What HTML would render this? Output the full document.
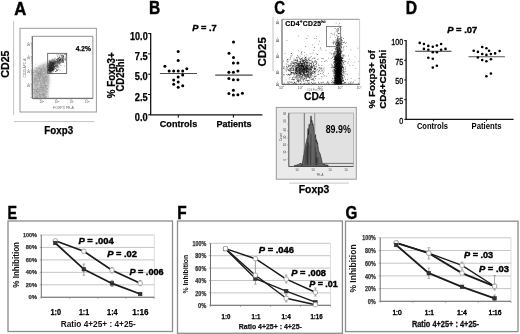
<!DOCTYPE html>
<html><head><meta charset="utf-8"><style>
html,body{margin:0;padding:0;background:#fff;}
body{width:520px;height:334px;overflow:hidden;}
svg{display:block;font-family:"Liberation Sans", sans-serif;filter:blur(0.35px);}
</style></head><body>
<svg width="520" height="334" viewBox="0 0 520 334">
<defs>
<filter id="b1" x="-50%" y="-50%" width="200%" height="200%"><feGaussianBlur stdDeviation="1"/></filter>
<filter id="b15" x="-50%" y="-50%" width="200%" height="200%"><feGaussianBlur stdDeviation="1.5"/></filter>
</defs>
<rect width="520" height="334" fill="#fff"/>
<text x="14.2" y="14.6" style="font-size:18.5px;font-weight:bold;" fill="#000" text-anchor="start" textLength="12.0" lengthAdjust="spacingAndGlyphs" stroke="#000" stroke-width="0.45">A</text>
<text x="149.1" y="13.6" style="font-size:18.5px;font-weight:bold;" fill="#000" text-anchor="start" textLength="11.2" lengthAdjust="spacingAndGlyphs" stroke="#000" stroke-width="0.45">B</text>
<text x="274.3" y="13.9" style="font-size:18.5px;font-weight:bold;" fill="#000" text-anchor="start" textLength="10.8" lengthAdjust="spacingAndGlyphs" stroke="#000" stroke-width="0.45">C</text>
<text x="405.8" y="13.6" style="font-size:18.5px;font-weight:bold;" fill="#000" text-anchor="start" textLength="11.3" lengthAdjust="spacingAndGlyphs" stroke="#000" stroke-width="0.45">D</text>
<text x="7.6" y="218.6" style="font-size:18.5px;font-weight:bold;" fill="#000" text-anchor="start" textLength="9.5" lengthAdjust="spacingAndGlyphs" stroke="#000" stroke-width="0.45">E</text>
<text x="177.3" y="219.3" style="font-size:18.5px;font-weight:bold;" fill="#000" text-anchor="start" textLength="9.4" lengthAdjust="spacingAndGlyphs" stroke="#000" stroke-width="0.45">F</text>
<text x="345.4" y="218.9" style="font-size:18.5px;font-weight:bold;" fill="#000" text-anchor="start" textLength="11.8" lengthAdjust="spacingAndGlyphs" stroke="#000" stroke-width="0.45">G</text>
<line x1="13.6" y1="21" x2="13.6" y2="115" stroke="#c4c4c4" stroke-width="1" />
<line x1="14" y1="121.6" x2="94.6" y2="121.6" stroke="#c4c4c4" stroke-width="1" />
<rect x="20" y="28.3" width="76.4" height="83.7" stroke="#9a9a9a" fill="none" stroke-width="1" />
<path d="M33 98 L33 70 C37 66.5 43 64 48 62.5 L49.5 80 L47 98 Z" fill="#a4a4a4" fill-opacity="0.8" filter="url(#b15)"/>
<ellipse cx="42" cy="75" rx="4" ry="8" fill="#888" fill-opacity="0.35" filter="url(#b15)"/>
<g transform="scale(0.1)" fill="#707070" fill-opacity="0.25"><path d="M356 796h9v9h-9zM474 846h9v9h-9zM451 681h9v9h-9zM432 956h9v9h-9zM436 786h9v9h-9zM348 975h9v9h-9zM364 840h9v9h-9zM473 769h9v9h-9zM442 793h9v9h-9zM350 710h9v9h-9zM338 954h9v9h-9zM441 972h9v9h-9zM469 919h9v9h-9zM473 676h9v9h-9zM367 723h9v9h-9zM407 943h9v9h-9zM340 888h9v9h-9zM477 860h9v9h-9zM365 952h9v9h-9zM434 863h9v9h-9zM377 924h9v9h-9zM409 893h9v9h-9zM425 875h9v9h-9zM399 823h9v9h-9zM453 916h9v9h-9zM385 742h9v9h-9zM349 902h9v9h-9zM412 674h9v9h-9zM444 972h9v9h-9zM431 777h9v9h-9zM426 968h9v9h-9zM436 738h9v9h-9zM379 742h9v9h-9zM404 965h9v9h-9zM446 843h9v9h-9zM418 947h9v9h-9zM361 755h9v9h-9zM362 718h9v9h-9zM426 935h9v9h-9zM383 723h9v9h-9zM472 891h9v9h-9zM408 723h9v9h-9zM438 938h9v9h-9zM386 933h9v9h-9zM407 793h9v9h-9zM357 859h9v9h-9zM383 928h9v9h-9zM399 685h9v9h-9zM347 642h9v9h-9zM391 889h9v9h-9zM423 773h9v9h-9zM467 959h9v9h-9zM337 816h9v9h-9zM429 786h9v9h-9zM340 932h9v9h-9zM392 775h9v9h-9zM365 679h9v9h-9zM444 733h9v9h-9zM393 863h9v9h-9zM345 831h9v9h-9zM426 760h9v9h-9zM382 877h9v9h-9zM401 862h9v9h-9zM354 904h9v9h-9zM417 744h9v9h-9zM430 924h9v9h-9zM367 968h9v9h-9zM364 811h9v9h-9zM479 886h9v9h-9zM346 978h9v9h-9zM388 946h9v9h-9zM404 909h9v9h-9zM476 646h9v9h-9zM343 770h9v9h-9zM423 866h9v9h-9zM359 757h9v9h-9zM360 885h9v9h-9zM477 932h9v9h-9zM371 675h9v9h-9zM403 712h9v9h-9zM359 853h9v9h-9zM464 796h9v9h-9zM413 854h9v9h-9zM417 779h9v9h-9zM369 945h9v9h-9zM412 939h9v9h-9zM367 684h9v9h-9zM375 908h9v9h-9zM413 904h9v9h-9zM387 761h9v9h-9zM333 804h9v9h-9zM389 977h9v9h-9zM471 812h9v9h-9zM406 711h9v9h-9zM379 938h9v9h-9zM332 887h9v9h-9zM365 890h9v9h-9zM391 939h9v9h-9zM466 851h9v9h-9zM382 683h9v9h-9zM456 935h9v9h-9zM417 956h9v9h-9zM463 712h9v9h-9zM368 840h9v9h-9zM361 908h9v9h-9zM439 830h9v9h-9zM330 893h9v9h-9zM434 721h9v9h-9zM370 675h9v9h-9zM398 749h9v9h-9zM430 943h9v9h-9zM475 707h9v9h-9zM370 762h9v9h-9zM389 704h9v9h-9zM452 698h9v9h-9zM442 806h9v9h-9zM435 804h9v9h-9zM417 939h9v9h-9zM340 837h9v9h-9zM364 834h9v9h-9z"/><path d="M379 684h9v9h-9zM337 886h9v9h-9zM465 800h9v9h-9zM397 724h9v9h-9zM449 689h9v9h-9zM435 905h9v9h-9zM336 903h9v9h-9zM424 932h9v9h-9zM456 672h9v9h-9zM393 869h9v9h-9zM448 944h9v9h-9zM418 721h9v9h-9zM341 818h9v9h-9zM393 951h9v9h-9zM389 944h9v9h-9zM407 854h9v9h-9zM398 736h9v9h-9zM445 903h9v9h-9zM369 829h9v9h-9zM409 762h9v9h-9zM453 932h9v9h-9zM389 980h9v9h-9zM455 877h9v9h-9zM424 962h9v9h-9zM417 790h9v9h-9zM331 926h9v9h-9zM332 721h9v9h-9zM369 860h9v9h-9zM418 701h9v9h-9zM434 773h9v9h-9zM444 702h9v9h-9zM418 942h9v9h-9zM352 883h9v9h-9zM373 973h9v9h-9zM405 763h9v9h-9zM351 750h9v9h-9zM380 910h9v9h-9zM390 768h9v9h-9zM367 966h9v9h-9zM366 733h9v9h-9zM464 850h9v9h-9zM381 723h9v9h-9zM358 803h9v9h-9zM392 962h9v9h-9zM376 777h9v9h-9zM474 656h9v9h-9zM391 806h9v9h-9zM394 853h9v9h-9zM341 889h9v9h-9zM374 920h9v9h-9zM400 733h9v9h-9zM385 688h9v9h-9zM435 888h9v9h-9zM440 914h9v9h-9zM471 883h9v9h-9zM358 971h9v9h-9zM405 707h9v9h-9zM364 699h9v9h-9zM365 902h9v9h-9zM447 809h9v9h-9zM346 802h9v9h-9zM446 704h9v9h-9zM423 706h9v9h-9zM387 963h9v9h-9zM373 705h9v9h-9zM423 657h9v9h-9zM434 852h9v9h-9zM452 852h9v9h-9zM469 929h9v9h-9zM432 695h9v9h-9zM470 782h9v9h-9zM467 917h9v9h-9zM447 880h9v9h-9zM336 747h9v9h-9zM390 811h9v9h-9zM384 939h9v9h-9zM451 859h9v9h-9zM386 777h9v9h-9zM407 696h9v9h-9zM457 920h9v9h-9zM422 807h9v9h-9zM452 898h9v9h-9zM450 723h9v9h-9zM377 726h9v9h-9zM379 708h9v9h-9zM429 757h9v9h-9zM349 795h9v9h-9zM435 937h9v9h-9zM413 744h9v9h-9zM475 806h9v9h-9zM346 839h9v9h-9zM372 721h9v9h-9zM399 816h9v9h-9zM336 904h9v9h-9zM437 946h9v9h-9zM375 798h9v9h-9zM392 932h9v9h-9zM447 880h9v9h-9zM379 975h9v9h-9zM342 906h9v9h-9zM354 905h9v9h-9zM408 869h9v9h-9zM399 693h9v9h-9zM441 807h9v9h-9zM363 911h9v9h-9zM424 809h9v9h-9zM429 680h9v9h-9zM384 904h9v9h-9zM427 978h9v9h-9zM448 970h9v9h-9zM434 965h9v9h-9zM447 961h9v9h-9zM406 940h9v9h-9zM350 635h9v9h-9zM395 906h9v9h-9zM373 760h9v9h-9zM470 667h9v9h-9zM385 707h9v9h-9zM361 969h9v9h-9zM369 864h9v9h-9z"/><path d="M362 971h9v9h-9zM383 854h9v9h-9zM407 872h9v9h-9zM449 746h9v9h-9zM360 674h9v9h-9zM473 939h9v9h-9zM356 738h9v9h-9zM410 890h9v9h-9zM398 893h9v9h-9zM444 731h9v9h-9zM353 881h9v9h-9zM414 850h9v9h-9zM374 828h9v9h-9zM423 919h9v9h-9zM441 972h9v9h-9zM441 918h9v9h-9zM440 782h9v9h-9zM377 917h9v9h-9zM439 702h9v9h-9zM410 903h9v9h-9zM451 852h9v9h-9zM365 776h9v9h-9zM394 917h9v9h-9zM428 701h9v9h-9zM385 916h9v9h-9zM403 836h9v9h-9zM466 781h9v9h-9zM384 898h9v9h-9zM473 739h9v9h-9zM372 738h9v9h-9zM424 945h9v9h-9zM348 696h9v9h-9zM385 828h9v9h-9zM414 960h9v9h-9zM459 783h9v9h-9zM447 766h9v9h-9zM379 811h9v9h-9zM344 714h9v9h-9zM401 814h9v9h-9zM428 910h9v9h-9zM359 741h9v9h-9zM473 673h9v9h-9zM377 850h9v9h-9zM424 749h9v9h-9zM362 725h9v9h-9zM444 643h9v9h-9zM453 889h9v9h-9zM453 969h9v9h-9zM351 921h9v9h-9zM439 944h9v9h-9zM331 722h9v9h-9zM463 892h9v9h-9zM393 710h9v9h-9zM412 882h9v9h-9zM425 772h9v9h-9zM346 826h9v9h-9zM336 782h9v9h-9zM330 764h9v9h-9zM343 861h9v9h-9zM424 718h9v9h-9zM453 730h9v9h-9zM367 770h9v9h-9zM417 766h9v9h-9zM369 807h9v9h-9zM456 961h9v9h-9zM397 721h9v9h-9zM332 823h9v9h-9zM333 792h9v9h-9zM432 873h9v9h-9zM430 672h9v9h-9zM332 745h9v9h-9zM461 919h9v9h-9zM341 864h9v9h-9zM455 687h9v9h-9zM346 853h9v9h-9zM405 851h9v9h-9zM337 954h9v9h-9zM383 790h9v9h-9zM361 961h9v9h-9zM396 692h9v9h-9zM390 666h9v9h-9zM471 887h9v9h-9zM466 661h9v9h-9zM401 806h9v9h-9zM416 875h9v9h-9zM354 749h9v9h-9zM345 764h9v9h-9zM427 752h9v9h-9zM360 717h9v9h-9zM467 852h9v9h-9zM425 756h9v9h-9zM457 936h9v9h-9zM375 825h9v9h-9zM466 904h9v9h-9zM472 681h9v9h-9zM352 729h9v9h-9zM339 876h9v9h-9zM400 827h9v9h-9zM431 649h9v9h-9zM376 829h9v9h-9zM338 806h9v9h-9zM367 946h9v9h-9zM426 645h9v9h-9zM336 864h9v9h-9zM430 739h9v9h-9zM397 958h9v9h-9zM357 911h9v9h-9zM369 881h9v9h-9zM427 730h9v9h-9zM382 757h9v9h-9zM337 666h9v9h-9zM476 799h9v9h-9zM425 911h9v9h-9zM402 960h9v9h-9zM334 702h9v9h-9zM354 745h9v9h-9zM339 903h9v9h-9zM480 956h9v9h-9zM364 890h9v9h-9zM348 776h9v9h-9z"/><path d="M334 936h9v9h-9zM394 740h9v9h-9zM369 960h9v9h-9zM399 966h9v9h-9zM478 908h9v9h-9zM351 813h9v9h-9zM399 680h9v9h-9zM331 894h9v9h-9zM376 755h9v9h-9zM476 769h9v9h-9zM418 852h9v9h-9zM466 979h9v9h-9zM439 666h9v9h-9zM402 869h9v9h-9zM352 820h9v9h-9zM394 789h9v9h-9zM458 970h9v9h-9zM434 838h9v9h-9zM333 720h9v9h-9zM443 797h9v9h-9zM473 860h9v9h-9zM436 711h9v9h-9zM424 868h9v9h-9zM463 886h9v9h-9zM453 918h9v9h-9zM396 939h9v9h-9zM435 925h9v9h-9zM386 807h9v9h-9zM393 676h9v9h-9zM459 758h9v9h-9zM439 825h9v9h-9zM398 817h9v9h-9zM405 816h9v9h-9zM448 924h9v9h-9zM381 725h9v9h-9zM427 736h9v9h-9zM458 868h9v9h-9zM469 751h9v9h-9zM401 712h9v9h-9zM336 820h9v9h-9zM427 939h9v9h-9zM386 952h9v9h-9zM351 813h9v9h-9zM411 706h9v9h-9zM416 892h9v9h-9zM443 686h9v9h-9zM384 667h9v9h-9zM335 748h9v9h-9zM450 767h9v9h-9zM421 807h9v9h-9zM361 947h9v9h-9zM368 779h9v9h-9zM461 824h9v9h-9zM454 813h9v9h-9zM446 833h9v9h-9zM467 961h9v9h-9zM369 682h9v9h-9zM467 785h9v9h-9zM451 968h9v9h-9zM344 750h9v9h-9zM362 834h9v9h-9zM389 823h9v9h-9zM388 864h9v9h-9zM331 802h9v9h-9zM379 813h9v9h-9zM340 934h9v9h-9zM363 772h9v9h-9zM346 675h9v9h-9zM347 816h9v9h-9zM367 727h9v9h-9zM431 732h9v9h-9zM442 873h9v9h-9zM431 956h9v9h-9zM358 708h9v9h-9zM360 909h9v9h-9zM447 936h9v9h-9zM469 709h9v9h-9zM406 922h9v9h-9zM427 898h9v9h-9zM352 806h9v9h-9zM454 851h9v9h-9zM365 708h9v9h-9zM339 793h9v9h-9zM413 919h9v9h-9zM426 915h9v9h-9zM377 737h9v9h-9zM466 904h9v9h-9zM372 753h9v9h-9zM457 879h9v9h-9zM476 859h9v9h-9zM456 798h9v9h-9zM335 775h9v9h-9zM395 803h9v9h-9zM461 740h9v9h-9zM354 958h9v9h-9zM372 881h9v9h-9zM350 930h9v9h-9zM422 781h9v9h-9zM426 789h9v9h-9zM390 961h9v9h-9zM418 756h9v9h-9zM413 954h9v9h-9zM343 930h9v9h-9zM360 807h9v9h-9zM379 683h9v9h-9zM479 757h9v9h-9zM413 696h9v9h-9zM443 894h9v9h-9zM337 917h9v9h-9zM359 736h9v9h-9zM456 874h9v9h-9zM467 688h9v9h-9zM473 765h9v9h-9zM378 778h9v9h-9zM415 755h9v9h-9zM360 972h9v9h-9zM368 890h9v9h-9zM346 723h9v9h-9zM379 714h9v9h-9zM373 957h9v9h-9z"/><path d="M468 720h9v9h-9zM369 967h9v9h-9zM414 753h9v9h-9zM382 921h9v9h-9zM357 906h9v9h-9zM447 771h9v9h-9zM357 834h9v9h-9zM463 713h9v9h-9zM404 955h9v9h-9zM370 824h9v9h-9zM464 660h9v9h-9zM395 778h9v9h-9zM350 958h9v9h-9zM479 832h9v9h-9zM408 954h9v9h-9zM453 924h9v9h-9zM346 702h9v9h-9zM389 935h9v9h-9zM333 718h9v9h-9zM406 871h9v9h-9zM353 685h9v9h-9zM379 695h9v9h-9zM342 887h9v9h-9zM432 943h9v9h-9zM338 701h9v9h-9zM403 971h9v9h-9zM382 734h9v9h-9zM355 905h9v9h-9zM449 873h9v9h-9zM400 671h9v9h-9zM475 674h9v9h-9zM427 785h9v9h-9zM365 835h9v9h-9zM357 706h9v9h-9zM403 976h9v9h-9zM345 777h9v9h-9zM462 766h9v9h-9zM458 846h9v9h-9zM363 938h9v9h-9zM348 840h9v9h-9zM442 926h9v9h-9zM380 974h9v9h-9zM424 754h9v9h-9zM429 881h9v9h-9zM478 723h9v9h-9zM477 939h9v9h-9zM468 703h9v9h-9zM353 947h9v9h-9zM362 870h9v9h-9zM458 912h9v9h-9zM418 789h9v9h-9zM342 787h9v9h-9zM473 815h9v9h-9zM349 718h9v9h-9zM346 702h9v9h-9zM355 784h9v9h-9zM442 944h9v9h-9zM427 814h9v9h-9zM455 768h9v9h-9zM336 827h9v9h-9zM479 793h9v9h-9zM445 846h9v9h-9zM376 704h9v9h-9zM397 964h9v9h-9zM473 804h9v9h-9zM444 683h9v9h-9zM371 807h9v9h-9zM394 655h9v9h-9zM411 881h9v9h-9zM452 851h9v9h-9zM374 714h9v9h-9zM340 975h9v9h-9zM361 868h9v9h-9zM417 769h9v9h-9zM375 647h9v9h-9zM461 885h9v9h-9zM431 729h9v9h-9zM405 819h9v9h-9zM395 901h9v9h-9zM400 827h9v9h-9zM414 896h9v9h-9zM471 814h9v9h-9zM424 796h9v9h-9zM407 800h9v9h-9zM476 821h9v9h-9zM371 915h9v9h-9zM416 814h9v9h-9zM478 964h9v9h-9zM477 794h9v9h-9zM368 854h9v9h-9zM339 920h9v9h-9zM407 749h9v9h-9zM352 802h9v9h-9zM446 875h9v9h-9zM429 890h9v9h-9zM334 815h9v9h-9zM441 788h9v9h-9zM445 831h9v9h-9zM386 888h9v9h-9zM372 775h9v9h-9zM360 872h9v9h-9zM404 764h9v9h-9zM368 780h9v9h-9zM332 736h9v9h-9zM372 716h9v9h-9zM342 699h9v9h-9zM405 692h9v9h-9zM413 849h9v9h-9zM435 715h9v9h-9zM413 723h9v9h-9zM391 713h9v9h-9zM365 712h9v9h-9zM410 861h9v9h-9zM446 808h9v9h-9zM451 919h9v9h-9zM453 942h9v9h-9zM473 872h9v9h-9zM394 726h9v9h-9zM383 822h9v9h-9zM477 750h9v9h-9z"/><path d="M344 785h9v9h-9zM389 897h9v9h-9zM349 792h9v9h-9zM452 975h9v9h-9zM459 662h9v9h-9zM431 872h9v9h-9zM345 757h9v9h-9zM376 916h9v9h-9zM471 721h9v9h-9zM401 965h9v9h-9zM378 735h9v9h-9zM348 927h9v9h-9zM421 903h9v9h-9zM393 874h9v9h-9zM478 835h9v9h-9zM364 967h9v9h-9zM424 768h9v9h-9zM407 846h9v9h-9z"/></g>
<g transform="scale(0.1)" fill="#ffffff" fill-opacity="0.3"><path d="M366 642h9v9h-9zM477 827h9v9h-9zM456 734h9v9h-9zM374 772h9v9h-9zM460 971h9v9h-9zM413 880h9v9h-9zM394 809h9v9h-9zM343 644h9v9h-9zM358 853h9v9h-9zM358 736h9v9h-9zM425 841h9v9h-9zM479 883h9v9h-9zM359 729h9v9h-9zM384 695h9v9h-9zM476 948h9v9h-9zM345 690h9v9h-9zM452 736h9v9h-9zM347 731h9v9h-9zM396 849h9v9h-9zM382 630h9v9h-9zM457 954h9v9h-9zM415 850h9v9h-9zM388 743h9v9h-9zM397 765h9v9h-9zM385 921h9v9h-9zM470 929h9v9h-9zM367 645h9v9h-9zM431 814h9v9h-9zM363 809h9v9h-9zM349 881h9v9h-9zM410 765h9v9h-9zM448 878h9v9h-9zM349 676h9v9h-9zM392 861h9v9h-9zM399 822h9v9h-9zM331 737h9v9h-9zM404 805h9v9h-9zM417 752h9v9h-9zM339 634h9v9h-9zM355 723h9v9h-9zM377 709h9v9h-9zM407 820h9v9h-9zM353 877h9v9h-9zM411 954h9v9h-9zM372 771h9v9h-9zM448 935h9v9h-9zM446 743h9v9h-9zM444 667h9v9h-9zM435 717h9v9h-9zM369 821h9v9h-9zM373 715h9v9h-9zM410 916h9v9h-9zM375 940h9v9h-9zM430 919h9v9h-9zM367 691h9v9h-9zM373 645h9v9h-9zM405 824h9v9h-9zM407 669h9v9h-9zM422 912h9v9h-9zM410 682h9v9h-9zM354 735h9v9h-9zM451 686h9v9h-9zM397 670h9v9h-9zM413 802h9v9h-9zM412 896h9v9h-9zM424 788h9v9h-9zM346 709h9v9h-9zM466 961h9v9h-9zM426 723h9v9h-9zM415 739h9v9h-9zM456 835h9v9h-9zM396 969h9v9h-9zM464 871h9v9h-9zM441 920h9v9h-9zM348 919h9v9h-9zM379 794h9v9h-9zM426 693h9v9h-9zM455 902h9v9h-9zM468 743h9v9h-9zM445 835h9v9h-9zM453 977h9v9h-9zM430 699h9v9h-9zM456 929h9v9h-9zM437 754h9v9h-9zM473 810h9v9h-9zM343 881h9v9h-9zM406 710h9v9h-9zM412 717h9v9h-9zM366 715h9v9h-9zM341 634h9v9h-9zM410 718h9v9h-9zM390 826h9v9h-9zM339 766h9v9h-9zM453 811h9v9h-9zM381 784h9v9h-9zM404 962h9v9h-9zM359 660h9v9h-9zM421 704h9v9h-9zM475 800h9v9h-9zM386 833h9v9h-9zM407 786h9v9h-9zM375 653h9v9h-9zM455 675h9v9h-9zM398 790h9v9h-9zM433 687h9v9h-9zM387 965h9v9h-9zM466 901h9v9h-9zM350 727h9v9h-9zM451 940h9v9h-9zM459 713h9v9h-9zM456 843h9v9h-9zM362 950h9v9h-9zM431 843h9v9h-9zM354 653h9v9h-9zM371 900h9v9h-9zM461 784h9v9h-9zM375 830h9v9h-9zM395 696h9v9h-9zM384 702h9v9h-9zM396 932h9v9h-9z"/><path d="M372 661h9v9h-9zM380 915h9v9h-9zM444 796h9v9h-9zM476 732h9v9h-9zM336 739h9v9h-9zM384 689h9v9h-9zM343 861h9v9h-9zM444 645h9v9h-9zM452 651h9v9h-9zM383 978h9v9h-9zM448 779h9v9h-9zM374 785h9v9h-9zM396 923h9v9h-9zM470 753h9v9h-9zM479 750h9v9h-9zM334 696h9v9h-9zM378 862h9v9h-9zM457 923h9v9h-9zM345 761h9v9h-9zM470 872h9v9h-9zM332 753h9v9h-9zM432 787h9v9h-9zM396 697h9v9h-9zM415 769h9v9h-9zM361 963h9v9h-9zM463 822h9v9h-9zM474 889h9v9h-9zM458 843h9v9h-9zM436 721h9v9h-9zM398 676h9v9h-9zM392 906h9v9h-9zM408 811h9v9h-9zM436 865h9v9h-9zM343 821h9v9h-9zM368 663h9v9h-9zM418 658h9v9h-9zM473 798h9v9h-9zM479 893h9v9h-9zM383 866h9v9h-9zM438 631h9v9h-9zM388 660h9v9h-9zM377 945h9v9h-9zM332 647h9v9h-9zM334 901h9v9h-9zM442 920h9v9h-9zM430 753h9v9h-9zM377 678h9v9h-9zM355 905h9v9h-9zM353 731h9v9h-9zM463 642h9v9h-9zM477 919h9v9h-9zM366 644h9v9h-9zM416 774h9v9h-9zM445 921h9v9h-9zM465 836h9v9h-9zM379 791h9v9h-9zM420 966h9v9h-9zM347 907h9v9h-9zM467 675h9v9h-9zM448 927h9v9h-9zM370 793h9v9h-9zM384 805h9v9h-9zM339 728h9v9h-9zM396 887h9v9h-9zM356 741h9v9h-9zM405 785h9v9h-9zM430 749h9v9h-9zM463 777h9v9h-9zM376 872h9v9h-9zM355 863h9v9h-9zM383 716h9v9h-9zM357 928h9v9h-9zM474 847h9v9h-9zM338 874h9v9h-9zM454 742h9v9h-9zM385 823h9v9h-9zM441 890h9v9h-9zM347 693h9v9h-9zM348 685h9v9h-9zM382 940h9v9h-9zM347 949h9v9h-9zM462 931h9v9h-9zM346 827h9v9h-9zM405 967h9v9h-9zM360 879h9v9h-9zM348 838h9v9h-9zM468 856h9v9h-9zM417 658h9v9h-9zM376 936h9v9h-9zM414 670h9v9h-9zM367 679h9v9h-9zM346 801h9v9h-9zM391 656h9v9h-9zM408 782h9v9h-9zM432 726h9v9h-9zM417 966h9v9h-9zM433 766h9v9h-9zM339 755h9v9h-9zM472 778h9v9h-9zM354 699h9v9h-9zM344 724h9v9h-9zM415 804h9v9h-9zM461 673h9v9h-9zM353 748h9v9h-9zM364 830h9v9h-9zM370 856h9v9h-9zM457 753h9v9h-9zM336 644h9v9h-9zM360 876h9v9h-9zM416 938h9v9h-9zM383 883h9v9h-9zM422 927h9v9h-9zM403 824h9v9h-9zM411 979h9v9h-9zM475 853h9v9h-9zM416 858h9v9h-9zM373 976h9v9h-9zM403 907h9v9h-9zM379 695h9v9h-9zM435 912h9v9h-9z"/><path d="M347 810h9v9h-9zM338 942h9v9h-9zM385 716h9v9h-9zM351 827h9v9h-9zM415 752h9v9h-9zM396 847h9v9h-9zM375 763h9v9h-9zM421 763h9v9h-9zM425 645h9v9h-9zM468 901h9v9h-9zM466 688h9v9h-9zM424 694h9v9h-9zM411 633h9v9h-9zM428 718h9v9h-9zM376 857h9v9h-9zM352 831h9v9h-9zM334 868h9v9h-9zM407 777h9v9h-9zM438 733h9v9h-9zM456 830h9v9h-9zM377 715h9v9h-9zM453 877h9v9h-9zM395 870h9v9h-9zM372 862h9v9h-9zM392 815h9v9h-9zM438 707h9v9h-9zM394 949h9v9h-9zM390 653h9v9h-9zM423 718h9v9h-9zM440 879h9v9h-9zM337 716h9v9h-9zM407 807h9v9h-9zM437 719h9v9h-9zM417 661h9v9h-9zM408 918h9v9h-9zM461 632h9v9h-9zM420 791h9v9h-9zM384 838h9v9h-9zM474 702h9v9h-9zM388 860h9v9h-9zM444 670h9v9h-9zM345 946h9v9h-9zM473 731h9v9h-9zM422 794h9v9h-9zM442 660h9v9h-9zM387 835h9v9h-9zM366 766h9v9h-9zM392 700h9v9h-9zM374 900h9v9h-9zM434 768h9v9h-9zM383 962h9v9h-9zM416 776h9v9h-9zM455 890h9v9h-9zM347 932h9v9h-9zM410 979h9v9h-9zM358 694h9v9h-9zM427 735h9v9h-9zM469 675h9v9h-9zM424 957h9v9h-9zM389 824h9v9h-9z"/></g>
<path d="M48 73 L48 63 C50 60 53 59 55 59.5 L55 65 C54 70 51 72 49 73 Z" fill="#111" fill-opacity="0.6" filter="url(#b1)"/>
<g transform="scale(0.1)" fill="#111" fill-opacity="0.5"><path d="M553 712h9v9h-9zM520 731h9v9h-9zM515 719h9v9h-9zM491 649h9v9h-9zM565 589h9v9h-9zM518 627h9v9h-9zM588 601h9v9h-9zM509 696h9v9h-9zM551 631h9v9h-9zM513 696h9v9h-9zM543 623h9v9h-9zM543 625h9v9h-9zM630 579h9v9h-9zM570 609h9v9h-9zM568 598h9v9h-9zM497 704h9v9h-9zM613 559h9v9h-9zM500 629h9v9h-9zM502 726h9v9h-9zM573 604h9v9h-9zM568 669h9v9h-9zM495 608h9v9h-9zM600 592h9v9h-9zM523 672h9v9h-9zM531 662h9v9h-9zM524 619h9v9h-9zM582 631h9v9h-9zM621 594h9v9h-9zM532 639h9v9h-9zM531 650h9v9h-9zM650 597h9v9h-9zM524 631h9v9h-9zM605 651h9v9h-9zM633 576h9v9h-9zM518 594h9v9h-9zM595 600h9v9h-9zM493 651h9v9h-9zM613 611h9v9h-9zM628 616h9v9h-9zM558 664h9v9h-9zM559 649h9v9h-9zM507 715h9v9h-9zM559 658h9v9h-9zM503 684h9v9h-9zM608 537h9v9h-9zM634 577h9v9h-9zM564 698h9v9h-9zM549 637h9v9h-9zM555 662h9v9h-9zM544 636h9v9h-9zM606 570h9v9h-9zM518 685h9v9h-9zM566 631h9v9h-9zM609 599h9v9h-9zM485 693h9v9h-9zM558 625h9v9h-9zM502 706h9v9h-9zM628 550h9v9h-9zM503 656h9v9h-9zM515 733h9v9h-9zM549 656h9v9h-9zM603 589h9v9h-9zM572 674h9v9h-9zM618 595h9v9h-9zM596 548h9v9h-9zM628 573h9v9h-9zM595 599h9v9h-9zM511 620h9v9h-9zM605 539h9v9h-9zM554 636h9v9h-9zM572 620h9v9h-9zM586 592h9v9h-9zM532 649h9v9h-9zM588 623h9v9h-9zM520 668h9v9h-9zM621 589h9v9h-9zM489 653h9v9h-9zM508 668h9v9h-9zM569 703h9v9h-9zM597 633h9v9h-9zM505 623h9v9h-9zM520 696h9v9h-9zM555 612h9v9h-9zM489 696h9v9h-9zM588 592h9v9h-9zM598 609h9v9h-9zM496 685h9v9h-9zM626 565h9v9h-9zM613 603h9v9h-9zM613 616h9v9h-9zM531 646h9v9h-9zM490 674h9v9h-9zM540 667h9v9h-9zM639 588h9v9h-9zM478 699h9v9h-9zM572 626h9v9h-9zM583 592h9v9h-9zM530 661h9v9h-9zM576 627h9v9h-9zM543 622h9v9h-9zM568 613h9v9h-9zM648 588h9v9h-9zM554 624h9v9h-9zM495 702h9v9h-9zM517 648h9v9h-9zM534 669h9v9h-9zM623 606h9v9h-9zM491 714h9v9h-9zM584 673h9v9h-9zM500 633h9v9h-9zM584 599h9v9h-9zM502 709h9v9h-9zM561 636h9v9h-9zM493 704h9v9h-9zM547 617h9v9h-9zM592 585h9v9h-9zM554 610h9v9h-9zM638 539h9v9h-9zM490 651h9v9h-9zM563 690h9v9h-9z"/><path d="M592 601h9v9h-9zM533 606h9v9h-9zM480 665h9v9h-9zM616 582h9v9h-9zM502 664h9v9h-9zM560 687h9v9h-9zM482 698h9v9h-9zM493 726h9v9h-9zM598 618h9v9h-9zM588 559h9v9h-9zM571 587h9v9h-9zM557 597h9v9h-9zM491 700h9v9h-9zM497 694h9v9h-9zM628 595h9v9h-9zM488 654h9v9h-9zM558 587h9v9h-9zM598 589h9v9h-9zM583 689h9v9h-9zM490 638h9v9h-9zM530 630h9v9h-9zM547 607h9v9h-9zM517 654h9v9h-9zM630 561h9v9h-9zM510 682h9v9h-9zM518 646h9v9h-9zM590 600h9v9h-9zM481 691h9v9h-9zM536 692h9v9h-9zM522 646h9v9h-9zM511 643h9v9h-9zM501 661h9v9h-9zM522 703h9v9h-9zM521 695h9v9h-9zM504 711h9v9h-9zM492 702h9v9h-9zM510 706h9v9h-9zM609 614h9v9h-9zM548 577h9v9h-9zM560 612h9v9h-9zM532 623h9v9h-9zM622 599h9v9h-9zM572 622h9v9h-9zM520 649h9v9h-9zM499 707h9v9h-9zM537 588h9v9h-9zM517 687h9v9h-9zM580 615h9v9h-9zM519 657h9v9h-9zM550 662h9v9h-9zM514 705h9v9h-9zM522 679h9v9h-9zM494 621h9v9h-9zM491 660h9v9h-9zM509 658h9v9h-9zM534 683h9v9h-9zM550 620h9v9h-9zM592 588h9v9h-9zM602 597h9v9h-9zM483 685h9v9h-9zM614 579h9v9h-9zM588 570h9v9h-9zM587 557h9v9h-9zM484 633h9v9h-9zM592 629h9v9h-9zM609 556h9v9h-9zM608 611h9v9h-9zM548 626h9v9h-9zM533 645h9v9h-9zM553 611h9v9h-9zM515 646h9v9h-9zM537 671h9v9h-9zM485 683h9v9h-9zM568 646h9v9h-9zM493 657h9v9h-9zM516 698h9v9h-9zM638 655h9v9h-9zM559 591h9v9h-9zM509 700h9v9h-9zM499 669h9v9h-9zM615 588h9v9h-9zM584 586h9v9h-9zM514 638h9v9h-9zM604 582h9v9h-9zM623 563h9v9h-9zM503 666h9v9h-9zM513 679h9v9h-9zM541 684h9v9h-9zM542 666h9v9h-9zM557 669h9v9h-9zM505 681h9v9h-9zM585 623h9v9h-9zM481 704h9v9h-9zM494 705h9v9h-9zM584 590h9v9h-9zM514 633h9v9h-9zM594 616h9v9h-9zM603 598h9v9h-9zM659 547h9v9h-9zM481 701h9v9h-9zM657 548h9v9h-9zM509 654h9v9h-9zM510 618h9v9h-9zM521 690h9v9h-9zM488 696h9v9h-9zM592 628h9v9h-9zM536 660h9v9h-9zM591 622h9v9h-9zM557 609h9v9h-9zM562 699h9v9h-9zM574 657h9v9h-9zM603 593h9v9h-9zM523 683h9v9h-9zM563 657h9v9h-9zM525 676h9v9h-9zM653 564h9v9h-9zM527 689h9v9h-9zM510 681h9v9h-9zM536 678h9v9h-9zM622 616h9v9h-9z"/><path d="M541 661h9v9h-9zM492 616h9v9h-9zM498 704h9v9h-9zM530 704h9v9h-9zM649 576h9v9h-9zM539 618h9v9h-9zM507 655h9v9h-9zM604 589h9v9h-9zM519 618h9v9h-9zM500 676h9v9h-9zM497 676h9v9h-9zM601 622h9v9h-9zM516 699h9v9h-9zM526 687h9v9h-9zM518 667h9v9h-9zM498 690h9v9h-9zM523 628h9v9h-9zM498 628h9v9h-9zM617 546h9v9h-9zM608 602h9v9h-9zM508 647h9v9h-9zM515 686h9v9h-9zM624 598h9v9h-9zM628 591h9v9h-9zM499 640h9v9h-9zM490 685h9v9h-9zM648 538h9v9h-9zM554 647h9v9h-9zM631 606h9v9h-9zM519 648h9v9h-9zM545 608h9v9h-9zM606 623h9v9h-9zM494 724h9v9h-9zM529 631h9v9h-9zM539 658h9v9h-9zM518 672h9v9h-9zM508 648h9v9h-9zM480 696h9v9h-9zM486 670h9v9h-9zM528 667h9v9h-9zM652 594h9v9h-9zM549 681h9v9h-9zM586 640h9v9h-9zM617 579h9v9h-9zM499 714h9v9h-9zM588 636h9v9h-9zM527 641h9v9h-9zM579 599h9v9h-9zM501 613h9v9h-9zM489 603h9v9h-9zM534 639h9v9h-9zM582 617h9v9h-9zM494 636h9v9h-9zM511 648h9v9h-9zM588 595h9v9h-9zM574 611h9v9h-9zM558 594h9v9h-9zM511 675h9v9h-9zM616 582h9v9h-9zM509 615h9v9h-9zM652 541h9v9h-9zM586 608h9v9h-9zM569 609h9v9h-9zM602 587h9v9h-9zM585 607h9v9h-9zM539 623h9v9h-9zM526 676h9v9h-9zM625 549h9v9h-9zM560 537h9v9h-9zM507 667h9v9h-9zM570 556h9v9h-9zM521 679h9v9h-9zM590 570h9v9h-9zM572 698h9v9h-9zM514 690h9v9h-9zM584 663h9v9h-9zM619 571h9v9h-9zM620 617h9v9h-9zM622 601h9v9h-9zM629 597h9v9h-9zM478 651h9v9h-9zM535 670h9v9h-9zM531 681h9v9h-9zM551 682h9v9h-9zM568 647h9v9h-9zM530 679h9v9h-9zM596 697h9v9h-9zM567 638h9v9h-9zM484 716h9v9h-9zM541 638h9v9h-9zM560 614h9v9h-9zM572 601h9v9h-9zM626 580h9v9h-9zM503 635h9v9h-9zM524 650h9v9h-9zM496 679h9v9h-9zM521 700h9v9h-9zM482 696h9v9h-9zM570 626h9v9h-9zM489 666h9v9h-9zM532 690h9v9h-9zM515 700h9v9h-9zM570 587h9v9h-9zM629 620h9v9h-9zM575 582h9v9h-9zM492 669h9v9h-9zM578 542h9v9h-9zM493 724h9v9h-9zM519 692h9v9h-9zM585 644h9v9h-9zM521 677h9v9h-9zM487 688h9v9h-9zM531 669h9v9h-9zM592 606h9v9h-9zM584 618h9v9h-9zM507 706h9v9h-9zM496 674h9v9h-9zM533 634h9v9h-9zM528 655h9v9h-9zM494 670h9v9h-9z"/><path d="M580 574h9v9h-9zM579 614h9v9h-9zM496 699h9v9h-9zM509 688h9v9h-9zM630 564h9v9h-9zM494 684h9v9h-9zM505 684h9v9h-9zM508 670h9v9h-9zM566 656h9v9h-9zM559 707h9v9h-9zM501 635h9v9h-9zM584 580h9v9h-9zM506 647h9v9h-9zM615 551h9v9h-9zM512 680h9v9h-9zM519 684h9v9h-9zM487 671h9v9h-9zM508 702h9v9h-9zM552 712h9v9h-9zM592 597h9v9h-9zM514 636h9v9h-9zM497 700h9v9h-9zM596 601h9v9h-9zM574 648h9v9h-9zM478 672h9v9h-9zM601 578h9v9h-9zM574 576h9v9h-9zM570 603h9v9h-9zM630 609h9v9h-9zM577 586h9v9h-9zM530 705h9v9h-9zM535 616h9v9h-9zM500 680h9v9h-9zM628 558h9v9h-9zM511 675h9v9h-9zM599 589h9v9h-9zM532 690h9v9h-9zM544 602h9v9h-9zM502 679h9v9h-9zM503 634h9v9h-9zM572 659h9v9h-9zM513 665h9v9h-9zM494 660h9v9h-9zM594 613h9v9h-9zM482 643h9v9h-9zM557 647h9v9h-9zM486 683h9v9h-9zM542 630h9v9h-9zM560 618h9v9h-9zM525 632h9v9h-9zM549 648h9v9h-9zM498 632h9v9h-9zM633 564h9v9h-9z"/></g>
<line x1="32.5" y1="36.3" x2="92.9" y2="36.3" stroke="#777" stroke-width="0.8" />
<line x1="92.9" y1="36.3" x2="92.9" y2="98.3" stroke="#777" stroke-width="0.8" />
<line x1="32.3" y1="36.3" x2="32.3" y2="98.3" stroke="#444" stroke-width="0.9" />
<line x1="32.3" y1="98.3" x2="92.9" y2="98.3" stroke="#444" stroke-width="0.9" />
<rect x="47.7" y="53.3" width="19" height="20.2" stroke="#505050" fill="none" stroke-width="0.8" />
<line x1="33.25" y1="98.3" x2="33.25" y2="99.3" stroke="#777" stroke-width="0.5" />
<line x1="35.15" y1="98.3" x2="35.15" y2="99.3" stroke="#777" stroke-width="0.5" />
<line x1="36.62" y1="98.3" x2="36.62" y2="99.3" stroke="#777" stroke-width="0.5" />
<line x1="37.83" y1="98.3" x2="37.83" y2="99.3" stroke="#777" stroke-width="0.5" />
<line x1="38.85" y1="98.3" x2="38.85" y2="99.3" stroke="#777" stroke-width="0.5" />
<line x1="39.73" y1="98.3" x2="39.73" y2="99.3" stroke="#777" stroke-width="0.5" />
<line x1="40.5" y1="98.3" x2="40.5" y2="99.3" stroke="#777" stroke-width="0.5" />
<line x1="41.3" y1="98.3" x2="41.3" y2="100.1" stroke="#777" stroke-width="0.5" />
<line x1="45.88" y1="98.3" x2="45.88" y2="99.3" stroke="#777" stroke-width="0.5" />
<line x1="48.55" y1="98.3" x2="48.55" y2="99.3" stroke="#777" stroke-width="0.5" />
<line x1="50.45" y1="98.3" x2="50.45" y2="99.3" stroke="#777" stroke-width="0.5" />
<line x1="51.92" y1="98.3" x2="51.92" y2="99.3" stroke="#777" stroke-width="0.5" />
<line x1="53.13" y1="98.3" x2="53.13" y2="99.3" stroke="#777" stroke-width="0.5" />
<line x1="54.15" y1="98.3" x2="54.15" y2="99.3" stroke="#777" stroke-width="0.5" />
<line x1="55.03" y1="98.3" x2="55.03" y2="99.3" stroke="#777" stroke-width="0.5" />
<line x1="55.8" y1="98.3" x2="55.8" y2="99.3" stroke="#777" stroke-width="0.5" />
<line x1="56.5" y1="98.3" x2="56.5" y2="100.1" stroke="#777" stroke-width="0.5" />
<line x1="61.08" y1="98.3" x2="61.08" y2="99.3" stroke="#777" stroke-width="0.5" />
<line x1="63.75" y1="98.3" x2="63.75" y2="99.3" stroke="#777" stroke-width="0.5" />
<line x1="65.65" y1="98.3" x2="65.65" y2="99.3" stroke="#777" stroke-width="0.5" />
<line x1="67.12" y1="98.3" x2="67.12" y2="99.3" stroke="#777" stroke-width="0.5" />
<line x1="68.33" y1="98.3" x2="68.33" y2="99.3" stroke="#777" stroke-width="0.5" />
<line x1="69.35" y1="98.3" x2="69.35" y2="99.3" stroke="#777" stroke-width="0.5" />
<line x1="70.23" y1="98.3" x2="70.23" y2="99.3" stroke="#777" stroke-width="0.5" />
<line x1="71.0" y1="98.3" x2="71.0" y2="99.3" stroke="#777" stroke-width="0.5" />
<line x1="71.7" y1="98.3" x2="71.7" y2="100.1" stroke="#777" stroke-width="0.5" />
<line x1="76.28" y1="98.3" x2="76.28" y2="99.3" stroke="#777" stroke-width="0.5" />
<line x1="78.95" y1="98.3" x2="78.95" y2="99.3" stroke="#777" stroke-width="0.5" />
<line x1="80.85" y1="98.3" x2="80.85" y2="99.3" stroke="#777" stroke-width="0.5" />
<line x1="82.32" y1="98.3" x2="82.32" y2="99.3" stroke="#777" stroke-width="0.5" />
<line x1="83.53" y1="98.3" x2="83.53" y2="99.3" stroke="#777" stroke-width="0.5" />
<line x1="84.55" y1="98.3" x2="84.55" y2="99.3" stroke="#777" stroke-width="0.5" />
<line x1="85.43" y1="98.3" x2="85.43" y2="99.3" stroke="#777" stroke-width="0.5" />
<line x1="86.2" y1="98.3" x2="86.2" y2="99.3" stroke="#777" stroke-width="0.5" />
<line x1="86.9" y1="98.3" x2="86.9" y2="100.1" stroke="#777" stroke-width="0.5" />
<line x1="91.48" y1="98.3" x2="91.48" y2="99.3" stroke="#777" stroke-width="0.5" />
<line x1="30.499999999999996" y1="97.5" x2="32.3" y2="97.5" stroke="#777" stroke-width="0.5" />
<line x1="31.299999999999997" y1="93.41" x2="32.3" y2="93.41" stroke="#777" stroke-width="0.5" />
<line x1="31.299999999999997" y1="91.01" x2="32.3" y2="91.01" stroke="#777" stroke-width="0.5" />
<line x1="31.299999999999997" y1="89.31" x2="32.3" y2="89.31" stroke="#777" stroke-width="0.5" />
<line x1="31.299999999999997" y1="87.99" x2="32.3" y2="87.99" stroke="#777" stroke-width="0.5" />
<line x1="31.299999999999997" y1="86.92" x2="32.3" y2="86.92" stroke="#777" stroke-width="0.5" />
<line x1="31.299999999999997" y1="86.01" x2="32.3" y2="86.01" stroke="#777" stroke-width="0.5" />
<line x1="31.299999999999997" y1="85.22" x2="32.3" y2="85.22" stroke="#777" stroke-width="0.5" />
<line x1="31.299999999999997" y1="84.52" x2="32.3" y2="84.52" stroke="#777" stroke-width="0.5" />
<line x1="30.499999999999996" y1="84.0" x2="32.3" y2="84.0" stroke="#777" stroke-width="0.5" />
<line x1="31.299999999999997" y1="79.91" x2="32.3" y2="79.91" stroke="#777" stroke-width="0.5" />
<line x1="31.299999999999997" y1="77.51" x2="32.3" y2="77.51" stroke="#777" stroke-width="0.5" />
<line x1="31.299999999999997" y1="75.81" x2="32.3" y2="75.81" stroke="#777" stroke-width="0.5" />
<line x1="31.299999999999997" y1="74.49" x2="32.3" y2="74.49" stroke="#777" stroke-width="0.5" />
<line x1="31.299999999999997" y1="73.42" x2="32.3" y2="73.42" stroke="#777" stroke-width="0.5" />
<line x1="31.299999999999997" y1="72.51" x2="32.3" y2="72.51" stroke="#777" stroke-width="0.5" />
<line x1="31.299999999999997" y1="71.72" x2="32.3" y2="71.72" stroke="#777" stroke-width="0.5" />
<line x1="31.299999999999997" y1="71.02" x2="32.3" y2="71.02" stroke="#777" stroke-width="0.5" />
<line x1="30.499999999999996" y1="70.0" x2="32.3" y2="70.0" stroke="#777" stroke-width="0.5" />
<line x1="31.299999999999997" y1="65.91" x2="32.3" y2="65.91" stroke="#777" stroke-width="0.5" />
<line x1="31.299999999999997" y1="63.51" x2="32.3" y2="63.51" stroke="#777" stroke-width="0.5" />
<line x1="31.299999999999997" y1="61.81" x2="32.3" y2="61.81" stroke="#777" stroke-width="0.5" />
<line x1="31.299999999999997" y1="60.49" x2="32.3" y2="60.49" stroke="#777" stroke-width="0.5" />
<line x1="31.299999999999997" y1="59.42" x2="32.3" y2="59.42" stroke="#777" stroke-width="0.5" />
<line x1="31.299999999999997" y1="58.51" x2="32.3" y2="58.51" stroke="#777" stroke-width="0.5" />
<line x1="31.299999999999997" y1="57.72" x2="32.3" y2="57.72" stroke="#777" stroke-width="0.5" />
<line x1="31.299999999999997" y1="57.02" x2="32.3" y2="57.02" stroke="#777" stroke-width="0.5" />
<line x1="30.499999999999996" y1="56.5" x2="32.3" y2="56.5" stroke="#777" stroke-width="0.5" />
<line x1="31.299999999999997" y1="52.41" x2="32.3" y2="52.41" stroke="#777" stroke-width="0.5" />
<line x1="31.299999999999997" y1="50.01" x2="32.3" y2="50.01" stroke="#777" stroke-width="0.5" />
<line x1="31.299999999999997" y1="48.31" x2="32.3" y2="48.31" stroke="#777" stroke-width="0.5" />
<line x1="31.299999999999997" y1="46.99" x2="32.3" y2="46.99" stroke="#777" stroke-width="0.5" />
<line x1="31.299999999999997" y1="45.92" x2="32.3" y2="45.92" stroke="#777" stroke-width="0.5" />
<line x1="31.299999999999997" y1="45.01" x2="32.3" y2="45.01" stroke="#777" stroke-width="0.5" />
<line x1="31.299999999999997" y1="44.22" x2="32.3" y2="44.22" stroke="#777" stroke-width="0.5" />
<line x1="31.299999999999997" y1="43.52" x2="32.3" y2="43.52" stroke="#777" stroke-width="0.5" />
<line x1="30.499999999999996" y1="43.0" x2="32.3" y2="43.0" stroke="#777" stroke-width="0.5" />
<line x1="31.299999999999997" y1="38.91" x2="32.3" y2="38.91" stroke="#777" stroke-width="0.5" />
<line x1="31.299999999999997" y1="36.51" x2="32.3" y2="36.51" stroke="#777" stroke-width="0.5" />
<text x="30.0" y="44" style="font-size:3.0px;font-weight:normal;" fill="#555" text-anchor="middle" transform="rotate(-90 30.0 44)" >10<tspan dy="-1" style="font-size:2.2px">5</tspan></text>
<text x="30.0" y="57.5" style="font-size:3.0px;font-weight:normal;" fill="#555" text-anchor="middle" transform="rotate(-90 30.0 57.5)" >10<tspan dy="-1" style="font-size:2.2px">4</tspan></text>
<text x="30.0" y="71" style="font-size:3.0px;font-weight:normal;" fill="#555" text-anchor="middle" transform="rotate(-90 30.0 71)" >10<tspan dy="-1" style="font-size:2.2px">3</tspan></text>
<text x="30.0" y="85" style="font-size:3.0px;font-weight:normal;" fill="#555" text-anchor="middle" transform="rotate(-90 30.0 85)" >10<tspan dy="-1" style="font-size:2.2px">2</tspan></text>
<text x="41.8" y="103.0" style="font-size:3.0px;font-weight:normal;" fill="#555" text-anchor="middle" >10<tspan dy="-1" style="font-size:2.2px">2</tspan></text>
<text x="57.0" y="103.0" style="font-size:3.0px;font-weight:normal;" fill="#555" text-anchor="middle" >10<tspan dy="-1" style="font-size:2.2px">3</tspan></text>
<text x="72.2" y="103.0" style="font-size:3.0px;font-weight:normal;" fill="#555" text-anchor="middle" >10<tspan dy="-1" style="font-size:2.2px">4</tspan></text>
<text x="87.4" y="103.0" style="font-size:3.0px;font-weight:normal;" fill="#555" text-anchor="middle" >10<tspan dy="-1" style="font-size:2.2px">5</tspan></text>
<text x="63.5" y="108.8" style="font-size:3.2px;font-weight:normal;" fill="#666" text-anchor="middle" textLength="21" lengthAdjust="spacingAndGlyphs" >FOXP3 PE-A</text>
<text x="26.0" y="68" style="font-size:3.2px;font-weight:normal;" fill="#666" text-anchor="middle" textLength="19" lengthAdjust="spacingAndGlyphs" transform="rotate(-90 26.0 68)" >CD25 APC-A</text>
<text x="75.7" y="51.2" style="font-size:7.2px;font-weight:bold;" fill="#000" text-anchor="start" textLength="15.1" lengthAdjust="spacingAndGlyphs" stroke="#000" stroke-width="0.25" >4.2%</text>
<text x="8.8" y="77.7" style="font-size:10.8px;font-weight:bold;" fill="#000" text-anchor="start" textLength="27.2" lengthAdjust="spacingAndGlyphs" transform="rotate(-90 8.8 77.7)" stroke="#000" stroke-width="0.25" >CD25</text>
<text x="44.3" y="134" style="font-size:10.2px;font-weight:bold;" fill="#000" text-anchor="start" textLength="28.8" lengthAdjust="spacingAndGlyphs" stroke="#000" stroke-width="0.25" >Foxp3</text>
<line x1="150.7" y1="33.1" x2="150.7" y2="114.85" stroke="#000" stroke-width="1.2" />
<line x1="150.1" y1="114.85" x2="262.4" y2="114.85" stroke="#111" stroke-width="1.3" />
<line x1="148.1" y1="33.6" x2="150.7" y2="33.6" stroke="#000" stroke-width="1" />
<text x="147.7" y="39.7" style="font-size:10.2px;font-weight:bold;" fill="#000" text-anchor="end" textLength="17.7" lengthAdjust="spacingAndGlyphs" stroke="#000" stroke-width="0.25" >10.0</text>
<line x1="148.1" y1="53.900000000000006" x2="150.7" y2="53.900000000000006" stroke="#000" stroke-width="1" />
<text x="147.7" y="60.00000000000001" style="font-size:10.2px;font-weight:bold;" fill="#000" text-anchor="end" textLength="12.9" lengthAdjust="spacingAndGlyphs" stroke="#000" stroke-width="0.25" >7.5</text>
<line x1="148.1" y1="74.2" x2="150.7" y2="74.2" stroke="#000" stroke-width="1" />
<text x="147.7" y="80.3" style="font-size:10.2px;font-weight:bold;" fill="#000" text-anchor="end" textLength="12.9" lengthAdjust="spacingAndGlyphs" stroke="#000" stroke-width="0.25" >5.0</text>
<line x1="148.1" y1="94.5" x2="150.7" y2="94.5" stroke="#000" stroke-width="1" />
<text x="147.7" y="100.6" style="font-size:10.2px;font-weight:bold;" fill="#000" text-anchor="end" textLength="12.9" lengthAdjust="spacingAndGlyphs" stroke="#000" stroke-width="0.25" >2.5</text>
<line x1="148.1" y1="114.80000000000001" x2="150.7" y2="114.80000000000001" stroke="#000" stroke-width="1" />
<text x="147.7" y="120.9" style="font-size:10.2px;font-weight:bold;" fill="#000" text-anchor="end" textLength="12.9" lengthAdjust="spacingAndGlyphs" stroke="#000" stroke-width="0.25" >0.0</text>
<line x1="178.3" y1="114.85" x2="178.3" y2="117.6" stroke="#000" stroke-width="1" />
<line x1="233.4" y1="114.85" x2="233.4" y2="117.6" stroke="#000" stroke-width="1" />
<text x="159.8" y="127.2" style="font-size:9.5px;font-weight:bold;" fill="#000" text-anchor="start" textLength="37.4" lengthAdjust="spacingAndGlyphs" stroke="#000" stroke-width="0.25" >Controls</text>
<text x="216.4" y="127.1" style="font-size:9.5px;font-weight:bold;" fill="#000" text-anchor="start" textLength="35.2" lengthAdjust="spacingAndGlyphs" stroke="#000" stroke-width="0.25" >Patients</text>
<text x="192.2" y="30.8" style="font-size:9.4px;font-weight:bold;" fill="#000" stroke="#000" stroke-width="0.4" textLength="24.4" lengthAdjust="spacingAndGlyphs"><tspan style="font-style:italic">P</tspan> = .7</text>
<g transform="translate(114.8 75.2) rotate(-90)" stroke="#000" stroke-width="0.25"><text x="0" y="0" text-anchor="middle" style="font-size:10px;font-weight:bold" textLength="46" lengthAdjust="spacingAndGlyphs">% Foxp3+</text><text x="0" y="9.5" text-anchor="middle" style="font-size:10px;font-weight:bold" textLength="32.5" lengthAdjust="spacingAndGlyphs">CD25hi</text></g>
<line x1="159.9" y1="73.5" x2="197" y2="73.5" stroke="#4a4a4a" stroke-width="1.1" />
<line x1="215.2" y1="75.1" x2="252.6" y2="75.1" stroke="#4a4a4a" stroke-width="1.1" />
<circle cx="178.2" cy="51.4" r="1.5" fill="#000" stroke="none" stroke-width="1"/>
<circle cx="178.2" cy="60.4" r="1.5" fill="#000" stroke="none" stroke-width="1"/>
<circle cx="164.9" cy="66.3" r="1.5" fill="#000" stroke="none" stroke-width="1"/>
<circle cx="186.8" cy="68.7" r="1.5" fill="#000" stroke="none" stroke-width="1"/>
<circle cx="169.2" cy="71" r="1.5" fill="#000" stroke="none" stroke-width="1"/>
<circle cx="173.7" cy="71" r="1.5" fill="#000" stroke="none" stroke-width="1"/>
<circle cx="178.2" cy="71" r="1.5" fill="#000" stroke="none" stroke-width="1"/>
<circle cx="182.7" cy="71" r="1.5" fill="#000" stroke="none" stroke-width="1"/>
<circle cx="182.7" cy="74.9" r="1.5" fill="#000" stroke="none" stroke-width="1"/>
<circle cx="178.2" cy="77.1" r="1.5" fill="#000" stroke="none" stroke-width="1"/>
<circle cx="173.7" cy="80.1" r="1.5" fill="#000" stroke="none" stroke-width="1"/>
<circle cx="178.2" cy="81.9" r="1.5" fill="#000" stroke="none" stroke-width="1"/>
<circle cx="173.7" cy="84.3" r="1.5" fill="#000" stroke="none" stroke-width="1"/>
<circle cx="182.7" cy="85.7" r="1.5" fill="#000" stroke="none" stroke-width="1"/>
<circle cx="178.2" cy="87.3" r="1.5" fill="#000" stroke="none" stroke-width="1"/>
<circle cx="233.5" cy="41.9" r="1.5" fill="#000" stroke="none" stroke-width="1"/>
<circle cx="229" cy="53.2" r="1.5" fill="#000" stroke="none" stroke-width="1"/>
<circle cx="233.5" cy="57.4" r="1.5" fill="#000" stroke="none" stroke-width="1"/>
<circle cx="233.4" cy="63.1" r="1.5" fill="#000" stroke="none" stroke-width="1"/>
<circle cx="237.9" cy="63.1" r="1.5" fill="#000" stroke="none" stroke-width="1"/>
<circle cx="228.9" cy="72.2" r="1.5" fill="#000" stroke="none" stroke-width="1"/>
<circle cx="233.4" cy="72.2" r="1.5" fill="#000" stroke="none" stroke-width="1"/>
<circle cx="237.9" cy="71.1" r="1.5" fill="#000" stroke="none" stroke-width="1"/>
<circle cx="228.9" cy="78.5" r="1.5" fill="#000" stroke="none" stroke-width="1"/>
<circle cx="233.4" cy="79.8" r="1.5" fill="#000" stroke="none" stroke-width="1"/>
<circle cx="237.9" cy="79.8" r="1.5" fill="#000" stroke="none" stroke-width="1"/>
<circle cx="233.4" cy="90.2" r="1.5" fill="#000" stroke="none" stroke-width="1"/>
<circle cx="228.9" cy="93.4" r="1.5" fill="#000" stroke="none" stroke-width="1"/>
<circle cx="233.4" cy="95" r="1.5" fill="#000" stroke="none" stroke-width="1"/>
<circle cx="237.9" cy="94.7" r="1.5" fill="#000" stroke="none" stroke-width="1"/>
<circle cx="242.4" cy="93.2" r="1.5" fill="#000" stroke="none" stroke-width="1"/>
<line x1="273" y1="16.7" x2="273" y2="71.4" stroke="#c4c4c4" stroke-width="1" />
<g transform="scale(0.1)" fill="#000" fill-opacity="0.55"><path d="M3387 774h8v8h-8zM3380 710h8v8h-8zM3216 823h8v8h-8zM3373 683h8v8h-8zM3362 820h8v8h-8zM3343 759h8v8h-8zM3386 599h8v8h-8zM3373 763h8v8h-8zM3033 670h8v8h-8zM2985 716h8v8h-8zM3371 653h8v8h-8zM3068 644h8v8h-8zM3420 580h8v8h-8zM3024 618h8v8h-8zM3412 617h8v8h-8zM3387 588h8v8h-8zM3374 701h8v8h-8zM3377 833h8v8h-8zM3045 617h8v8h-8zM3353 575h8v8h-8zM2995 788h8v8h-8zM2995 679h8v8h-8zM3390 439h8v8h-8zM3354 655h8v8h-8zM3389 650h8v8h-8zM3364 752h8v8h-8zM3383 745h8v8h-8zM2932 789h8v8h-8zM3389 797h8v8h-8zM3046 601h8v8h-8zM3376 660h8v8h-8zM3021 650h8v8h-8zM3067 704h8v8h-8zM3390 838h8v8h-8zM3365 529h8v8h-8zM3371 644h8v8h-8zM3388 577h8v8h-8zM3380 541h8v8h-8zM3394 716h8v8h-8zM3011 728h8v8h-8zM3384 663h8v8h-8zM3365 632h8v8h-8zM3392 470h8v8h-8zM2968 689h8v8h-8zM3013 654h8v8h-8zM3013 724h8v8h-8zM3017 752h8v8h-8zM2968 680h8v8h-8zM3357 742h8v8h-8zM3055 592h8v8h-8zM3473 789h8v8h-8zM3113 725h8v8h-8zM3360 648h8v8h-8zM3382 678h8v8h-8zM3397 821h8v8h-8zM3381 653h8v8h-8zM3390 685h8v8h-8zM3396 722h8v8h-8zM2833 839h8v8h-8zM3391 565h8v8h-8zM3340 523h8v8h-8zM3387 468h8v8h-8zM3405 671h8v8h-8zM3119 611h8v8h-8zM2982 677h8v8h-8zM2971 799h8v8h-8zM3068 690h8v8h-8zM3389 441h8v8h-8zM3367 646h8v8h-8zM3373 494h8v8h-8zM3398 783h8v8h-8zM3438 729h8v8h-8zM3381 711h8v8h-8zM3379 815h8v8h-8zM2996 700h8v8h-8zM3378 680h8v8h-8zM3394 602h8v8h-8zM3354 427h8v8h-8zM3378 808h8v8h-8zM3374 769h8v8h-8zM3447 611h8v8h-8zM3416 741h8v8h-8zM3400 579h8v8h-8zM3392 580h8v8h-8zM3390 610h8v8h-8zM3392 639h8v8h-8zM3394 775h8v8h-8zM3395 635h8v8h-8zM3406 626h8v8h-8zM3108 633h8v8h-8zM3366 701h8v8h-8zM2960 733h8v8h-8zM3416 668h8v8h-8zM3425 578h8v8h-8zM3387 672h8v8h-8zM3177 737h8v8h-8zM3388 801h8v8h-8zM3382 770h8v8h-8zM2897 743h8v8h-8zM3384 663h8v8h-8zM3363 654h8v8h-8zM3386 688h8v8h-8zM3368 811h8v8h-8zM3399 670h8v8h-8zM3045 631h8v8h-8zM3389 794h8v8h-8zM3376 758h8v8h-8zM3357 597h8v8h-8zM3368 560h8v8h-8zM3057 695h8v8h-8zM3002 728h8v8h-8zM3391 838h8v8h-8zM3389 708h8v8h-8zM3374 762h8v8h-8zM3346 736h8v8h-8zM3009 583h8v8h-8zM3351 655h8v8h-8zM3379 559h8v8h-8zM3132 652h8v8h-8zM3379 697h8v8h-8z"/><path d="M3405 813h8v8h-8zM3022 638h8v8h-8zM3385 654h8v8h-8zM3129 818h8v8h-8zM3061 682h8v8h-8zM3410 571h8v8h-8zM3343 840h8v8h-8zM3397 702h8v8h-8zM3208 713h8v8h-8zM3387 754h8v8h-8zM3398 670h8v8h-8zM3024 649h8v8h-8zM3396 692h8v8h-8zM2907 812h8v8h-8zM3395 749h8v8h-8zM3094 706h8v8h-8zM3401 700h8v8h-8zM3394 779h8v8h-8zM2893 682h8v8h-8zM3323 785h8v8h-8zM3396 511h8v8h-8zM3374 794h8v8h-8zM3365 817h8v8h-8zM3101 693h8v8h-8zM3399 743h8v8h-8zM3396 791h8v8h-8zM2901 691h8v8h-8zM3386 582h8v8h-8zM3385 696h8v8h-8zM3345 801h8v8h-8zM3001 593h8v8h-8zM3417 582h8v8h-8zM3398 618h8v8h-8zM3392 674h8v8h-8zM3038 625h8v8h-8zM3422 772h8v8h-8zM3030 690h8v8h-8zM2968 680h8v8h-8zM3371 453h8v8h-8zM3449 666h8v8h-8zM3382 718h8v8h-8zM3365 721h8v8h-8zM3385 806h8v8h-8zM3402 589h8v8h-8zM3026 741h8v8h-8zM3040 707h8v8h-8zM3334 840h8v8h-8zM3377 794h8v8h-8zM3032 688h8v8h-8zM3240 836h8v8h-8zM3268 821h8v8h-8zM3368 722h8v8h-8zM3380 702h8v8h-8zM3159 756h8v8h-8zM3363 642h8v8h-8zM3094 698h8v8h-8zM3391 413h8v8h-8zM3290 462h8v8h-8zM3356 754h8v8h-8zM3338 821h8v8h-8zM3348 780h8v8h-8zM3102 725h8v8h-8zM3379 720h8v8h-8zM3120 622h8v8h-8zM3368 456h8v8h-8zM3486 833h8v8h-8zM3399 808h8v8h-8zM3350 620h8v8h-8zM2944 659h8v8h-8zM3016 698h8v8h-8zM3012 699h8v8h-8zM3393 621h8v8h-8zM3418 798h8v8h-8zM3054 686h8v8h-8zM3389 460h8v8h-8zM3393 702h8v8h-8zM3346 599h8v8h-8zM3080 682h8v8h-8zM3370 742h8v8h-8zM3386 820h8v8h-8zM2912 686h8v8h-8zM3144 828h8v8h-8zM3380 333h8v8h-8zM2840 744h8v8h-8zM3343 777h8v8h-8zM3373 793h8v8h-8zM3349 618h8v8h-8zM3380 809h8v8h-8zM3035 731h8v8h-8zM3404 783h8v8h-8zM3354 586h8v8h-8zM3079 618h8v8h-8zM3395 584h8v8h-8zM3382 783h8v8h-8zM3032 666h8v8h-8zM3501 826h8v8h-8zM3153 640h8v8h-8zM2980 643h8v8h-8zM3371 569h8v8h-8zM3064 381h8v8h-8zM3359 435h8v8h-8zM3160 700h8v8h-8zM2956 679h8v8h-8zM2999 651h8v8h-8zM3375 805h8v8h-8zM3406 695h8v8h-8zM3372 674h8v8h-8zM2955 745h8v8h-8zM3363 702h8v8h-8zM3363 669h8v8h-8zM3386 654h8v8h-8zM3392 618h8v8h-8zM3411 832h8v8h-8zM3390 601h8v8h-8zM3035 628h8v8h-8zM3016 695h8v8h-8zM3401 621h8v8h-8zM3380 741h8v8h-8zM2959 709h8v8h-8zM3380 304h8v8h-8z"/><path d="M3377 506h8v8h-8zM2969 635h8v8h-8zM3029 654h8v8h-8zM3363 679h8v8h-8zM2985 737h8v8h-8zM3478 825h8v8h-8zM3407 728h8v8h-8zM3405 645h8v8h-8zM3403 806h8v8h-8zM3063 781h8v8h-8zM3390 720h8v8h-8zM3416 597h8v8h-8zM3401 748h8v8h-8zM3109 722h8v8h-8zM2915 820h8v8h-8zM3399 711h8v8h-8zM3379 685h8v8h-8zM3383 746h8v8h-8zM3362 507h8v8h-8zM3390 717h8v8h-8zM2929 717h8v8h-8zM3353 633h8v8h-8zM3423 672h8v8h-8zM3378 659h8v8h-8zM3382 741h8v8h-8zM3057 652h8v8h-8zM3357 570h8v8h-8zM3409 697h8v8h-8zM2976 623h8v8h-8zM3387 784h8v8h-8zM3352 656h8v8h-8zM3130 660h8v8h-8zM3354 834h8v8h-8zM3375 597h8v8h-8zM3411 798h8v8h-8zM3079 719h8v8h-8zM2996 757h8v8h-8zM2968 663h8v8h-8zM2988 703h8v8h-8zM3340 584h8v8h-8zM3437 687h8v8h-8zM3376 744h8v8h-8zM3012 768h8v8h-8zM3365 712h8v8h-8zM3365 741h8v8h-8zM3393 779h8v8h-8zM3281 732h8v8h-8zM3377 833h8v8h-8zM2934 634h8v8h-8zM3398 432h8v8h-8zM3402 572h8v8h-8zM3356 614h8v8h-8zM3386 568h8v8h-8zM3084 684h8v8h-8zM3375 690h8v8h-8zM3140 471h8v8h-8zM3390 590h8v8h-8zM3031 675h8v8h-8zM2937 755h8v8h-8zM3337 786h8v8h-8zM3401 774h8v8h-8zM2977 801h8v8h-8zM3389 795h8v8h-8zM3373 672h8v8h-8zM3378 619h8v8h-8zM2865 399h8v8h-8zM3385 628h8v8h-8zM2917 837h8v8h-8zM3375 824h8v8h-8zM2934 665h8v8h-8zM3416 437h8v8h-8zM3365 595h8v8h-8zM3364 617h8v8h-8zM3390 559h8v8h-8zM3391 729h8v8h-8zM3362 618h8v8h-8zM3390 647h8v8h-8zM2867 684h8v8h-8zM3116 670h8v8h-8zM3392 645h8v8h-8zM3368 575h8v8h-8zM3381 732h8v8h-8zM3413 506h8v8h-8zM3401 618h8v8h-8zM3040 685h8v8h-8zM3056 704h8v8h-8zM3141 683h8v8h-8zM3104 752h8v8h-8zM3353 683h8v8h-8zM2998 690h8v8h-8zM3378 743h8v8h-8zM3369 837h8v8h-8zM3369 657h8v8h-8zM3386 715h8v8h-8zM3069 684h8v8h-8zM3047 766h8v8h-8zM3381 745h8v8h-8zM3389 814h8v8h-8zM3381 647h8v8h-8zM2991 585h8v8h-8zM3380 762h8v8h-8zM3375 617h8v8h-8zM2982 808h8v8h-8zM3335 757h8v8h-8zM3350 791h8v8h-8zM3343 735h8v8h-8zM3387 751h8v8h-8zM3394 600h8v8h-8zM3382 678h8v8h-8zM3065 738h8v8h-8zM3374 717h8v8h-8zM3397 745h8v8h-8zM3375 777h8v8h-8zM3002 745h8v8h-8zM3374 837h8v8h-8zM3373 830h8v8h-8zM3378 725h8v8h-8zM3366 616h8v8h-8zM3386 708h8v8h-8zM2976 750h8v8h-8z"/><path d="M3373 716h8v8h-8zM3038 662h8v8h-8zM3349 529h8v8h-8zM2907 559h8v8h-8zM3376 821h8v8h-8zM2923 675h8v8h-8zM3393 699h8v8h-8zM3336 828h8v8h-8zM3369 775h8v8h-8zM3400 568h8v8h-8zM3009 586h8v8h-8zM2835 671h8v8h-8zM3412 694h8v8h-8zM3340 646h8v8h-8zM3089 733h8v8h-8zM3037 836h8v8h-8zM3428 603h8v8h-8zM3339 704h8v8h-8zM3371 689h8v8h-8zM3042 634h8v8h-8zM3012 738h8v8h-8zM3366 787h8v8h-8zM2978 689h8v8h-8zM3375 818h8v8h-8zM2945 710h8v8h-8zM3199 688h8v8h-8zM3391 642h8v8h-8zM3351 440h8v8h-8zM3072 670h8v8h-8zM3399 733h8v8h-8zM3433 547h8v8h-8zM3346 561h8v8h-8zM2979 652h8v8h-8zM3386 428h8v8h-8zM3393 795h8v8h-8zM3362 598h8v8h-8zM3351 773h8v8h-8zM3184 742h8v8h-8zM3402 808h8v8h-8zM2995 767h8v8h-8zM3383 838h8v8h-8zM3384 820h8v8h-8zM3406 685h8v8h-8zM3156 640h8v8h-8zM3410 678h8v8h-8zM3378 713h8v8h-8zM3371 602h8v8h-8zM3418 666h8v8h-8zM3352 597h8v8h-8zM3383 672h8v8h-8zM3384 360h8v8h-8zM3404 704h8v8h-8zM3351 624h8v8h-8zM3407 729h8v8h-8zM2965 668h8v8h-8zM3381 389h8v8h-8zM3394 794h8v8h-8zM3334 624h8v8h-8zM3173 694h8v8h-8zM3383 549h8v8h-8zM3405 816h8v8h-8zM3353 427h8v8h-8zM3356 816h8v8h-8zM3368 299h8v8h-8zM3367 760h8v8h-8zM3340 537h8v8h-8zM2962 769h8v8h-8zM2990 663h8v8h-8zM3400 731h8v8h-8zM2978 560h8v8h-8zM3413 600h8v8h-8zM2922 771h8v8h-8zM3397 768h8v8h-8zM3395 665h8v8h-8zM3383 453h8v8h-8zM3460 460h8v8h-8zM2977 637h8v8h-8zM3387 813h8v8h-8zM3018 704h8v8h-8zM3419 401h8v8h-8zM3403 527h8v8h-8zM3432 551h8v8h-8zM3364 587h8v8h-8zM3391 504h8v8h-8zM2912 636h8v8h-8zM3402 497h8v8h-8zM3347 817h8v8h-8zM3024 696h8v8h-8zM3372 703h8v8h-8zM3384 801h8v8h-8zM3098 714h8v8h-8zM3341 697h8v8h-8zM3358 424h8v8h-8zM3389 642h8v8h-8zM3399 805h8v8h-8zM2979 733h8v8h-8zM2946 621h8v8h-8zM3035 719h8v8h-8zM3424 717h8v8h-8zM3381 755h8v8h-8zM3371 458h8v8h-8zM3379 821h8v8h-8zM3024 627h8v8h-8zM2942 667h8v8h-8zM3051 744h8v8h-8zM3365 662h8v8h-8zM3379 663h8v8h-8zM2903 584h8v8h-8zM3380 822h8v8h-8zM3085 689h8v8h-8zM3402 574h8v8h-8zM3396 827h8v8h-8zM3372 687h8v8h-8zM3425 786h8v8h-8zM2951 674h8v8h-8zM3369 821h8v8h-8zM3398 810h8v8h-8zM3338 689h8v8h-8zM3049 569h8v8h-8zM3140 720h8v8h-8z"/><path d="M3002 747h8v8h-8zM3335 526h8v8h-8zM3410 596h8v8h-8zM3371 720h8v8h-8zM2908 726h8v8h-8zM3391 811h8v8h-8zM3404 637h8v8h-8zM2946 732h8v8h-8zM3018 696h8v8h-8zM3359 827h8v8h-8zM2997 687h8v8h-8zM2909 668h8v8h-8zM3400 796h8v8h-8zM3348 677h8v8h-8zM3406 567h8v8h-8zM3357 661h8v8h-8zM3110 669h8v8h-8zM3397 695h8v8h-8zM3385 761h8v8h-8zM3374 817h8v8h-8zM3385 759h8v8h-8zM3379 652h8v8h-8zM3399 601h8v8h-8zM3380 783h8v8h-8zM3372 781h8v8h-8zM2885 745h8v8h-8zM3400 724h8v8h-8zM3355 703h8v8h-8zM3398 669h8v8h-8zM3033 753h8v8h-8zM3097 673h8v8h-8zM2923 656h8v8h-8zM3482 615h8v8h-8zM3363 603h8v8h-8zM3388 486h8v8h-8zM3391 792h8v8h-8zM3063 625h8v8h-8zM2989 723h8v8h-8zM2920 791h8v8h-8zM3400 681h8v8h-8zM3404 589h8v8h-8zM3382 359h8v8h-8zM3370 819h8v8h-8zM3335 820h8v8h-8zM3416 827h8v8h-8zM3044 699h8v8h-8zM3356 801h8v8h-8zM3375 770h8v8h-8zM2973 668h8v8h-8zM3391 426h8v8h-8zM2875 822h8v8h-8zM3190 700h8v8h-8zM3377 698h8v8h-8zM3360 602h8v8h-8zM2839 826h8v8h-8zM3360 571h8v8h-8zM3374 596h8v8h-8zM3357 543h8v8h-8zM3370 425h8v8h-8zM3385 781h8v8h-8zM3089 772h8v8h-8zM3387 799h8v8h-8zM3379 744h8v8h-8zM3045 754h8v8h-8zM3369 810h8v8h-8zM3033 697h8v8h-8zM3363 687h8v8h-8zM3375 704h8v8h-8zM3398 490h8v8h-8zM3368 567h8v8h-8zM2961 670h8v8h-8zM3378 550h8v8h-8zM3401 772h8v8h-8zM3377 797h8v8h-8zM3383 823h8v8h-8zM3374 659h8v8h-8zM3352 713h8v8h-8zM2991 576h8v8h-8zM2955 690h8v8h-8zM3374 603h8v8h-8zM3376 540h8v8h-8zM3002 714h8v8h-8zM3376 830h8v8h-8zM3226 818h8v8h-8zM3160 383h8v8h-8zM2945 618h8v8h-8zM3342 462h8v8h-8zM3366 791h8v8h-8zM2951 685h8v8h-8zM3392 833h8v8h-8zM3391 708h8v8h-8zM3371 585h8v8h-8zM3364 798h8v8h-8zM2888 786h8v8h-8zM2993 685h8v8h-8zM3377 571h8v8h-8zM3383 658h8v8h-8zM3375 649h8v8h-8zM3080 695h8v8h-8zM3390 669h8v8h-8zM3096 635h8v8h-8zM3208 784h8v8h-8zM3368 620h8v8h-8zM3351 581h8v8h-8zM3375 726h8v8h-8zM3433 467h8v8h-8zM3415 643h8v8h-8zM2959 675h8v8h-8zM2881 701h8v8h-8zM3361 718h8v8h-8zM3360 630h8v8h-8zM3010 636h8v8h-8zM3373 790h8v8h-8zM3370 509h8v8h-8zM2953 682h8v8h-8zM3373 765h8v8h-8zM3064 671h8v8h-8zM3349 639h8v8h-8zM3388 640h8v8h-8zM3210 682h8v8h-8z"/><path d="M3372 533h8v8h-8zM3525 652h8v8h-8zM3334 669h8v8h-8zM2927 730h8v8h-8zM3404 558h8v8h-8zM3377 785h8v8h-8zM3387 690h8v8h-8zM2869 616h8v8h-8zM3360 823h8v8h-8zM3379 807h8v8h-8zM3067 679h8v8h-8zM3388 548h8v8h-8zM2933 696h8v8h-8zM3318 497h8v8h-8zM3374 597h8v8h-8zM3369 781h8v8h-8zM3394 631h8v8h-8zM3382 466h8v8h-8zM3007 729h8v8h-8zM3348 750h8v8h-8zM3391 765h8v8h-8zM3415 730h8v8h-8zM3342 615h8v8h-8zM3069 633h8v8h-8zM3378 379h8v8h-8zM3378 617h8v8h-8zM2963 605h8v8h-8zM3403 778h8v8h-8zM3357 654h8v8h-8zM3366 677h8v8h-8zM3377 541h8v8h-8zM3054 589h8v8h-8zM2912 672h8v8h-8zM3411 763h8v8h-8zM3394 613h8v8h-8zM2953 661h8v8h-8zM3405 840h8v8h-8zM3163 839h8v8h-8zM3411 617h8v8h-8zM2935 744h8v8h-8zM3389 609h8v8h-8zM3384 801h8v8h-8zM3430 577h8v8h-8zM3385 720h8v8h-8zM3040 628h8v8h-8zM3380 758h8v8h-8zM2998 726h8v8h-8zM2853 697h8v8h-8zM3039 695h8v8h-8zM3378 510h8v8h-8zM3381 704h8v8h-8zM3393 646h8v8h-8zM2910 616h8v8h-8zM3363 752h8v8h-8zM3358 771h8v8h-8zM3002 710h8v8h-8zM3385 779h8v8h-8zM3357 760h8v8h-8zM3319 420h8v8h-8zM3385 795h8v8h-8zM3426 744h8v8h-8zM3355 665h8v8h-8zM2969 574h8v8h-8zM3365 684h8v8h-8zM3373 783h8v8h-8zM3404 704h8v8h-8zM3393 717h8v8h-8zM3058 700h8v8h-8zM3394 743h8v8h-8zM3402 425h8v8h-8zM3077 676h8v8h-8zM2936 767h8v8h-8zM3070 614h8v8h-8zM3339 346h8v8h-8zM3404 808h8v8h-8zM3353 810h8v8h-8zM3369 762h8v8h-8zM3395 648h8v8h-8zM3362 793h8v8h-8zM3343 660h8v8h-8zM3365 550h8v8h-8zM3358 751h8v8h-8zM3074 647h8v8h-8zM2999 662h8v8h-8zM3374 735h8v8h-8zM3086 804h8v8h-8zM3415 665h8v8h-8zM3381 750h8v8h-8zM3364 680h8v8h-8zM3017 708h8v8h-8zM3389 568h8v8h-8zM2959 695h8v8h-8zM3359 676h8v8h-8zM3393 790h8v8h-8zM3387 765h8v8h-8zM3381 588h8v8h-8zM3371 742h8v8h-8zM3057 708h8v8h-8zM3068 713h8v8h-8zM3214 699h8v8h-8zM3002 620h8v8h-8zM3064 599h8v8h-8zM3006 655h8v8h-8zM3400 786h8v8h-8zM2929 649h8v8h-8zM3374 826h8v8h-8zM3391 758h8v8h-8zM3379 804h8v8h-8zM3371 489h8v8h-8zM3096 670h8v8h-8zM3373 608h8v8h-8zM3130 834h8v8h-8zM3393 824h8v8h-8zM3395 613h8v8h-8zM2983 693h8v8h-8zM3355 649h8v8h-8zM3353 695h8v8h-8zM3394 566h8v8h-8zM3376 736h8v8h-8zM3357 307h8v8h-8z"/><path d="M3393 661h8v8h-8zM3385 772h8v8h-8zM3390 702h8v8h-8zM3385 610h8v8h-8zM3363 726h8v8h-8zM3395 445h8v8h-8zM3020 696h8v8h-8zM3363 839h8v8h-8zM3411 392h8v8h-8zM3152 679h8v8h-8zM3015 542h8v8h-8zM3401 782h8v8h-8zM3358 774h8v8h-8zM3047 825h8v8h-8zM3394 696h8v8h-8zM3400 822h8v8h-8zM2864 678h8v8h-8zM3391 638h8v8h-8zM3404 581h8v8h-8zM3545 617h8v8h-8zM3420 660h8v8h-8zM3035 654h8v8h-8zM3397 774h8v8h-8zM3395 742h8v8h-8zM3353 576h8v8h-8zM3103 743h8v8h-8zM3382 748h8v8h-8zM2959 836h8v8h-8zM3392 766h8v8h-8zM3351 633h8v8h-8zM3401 572h8v8h-8zM3385 425h8v8h-8zM3332 531h8v8h-8zM3016 706h8v8h-8zM3373 545h8v8h-8zM3401 281h8v8h-8zM3374 636h8v8h-8zM3363 723h8v8h-8zM3068 825h8v8h-8zM3349 666h8v8h-8zM3039 624h8v8h-8zM3378 636h8v8h-8zM3385 735h8v8h-8zM3411 750h8v8h-8zM3436 458h8v8h-8zM3368 630h8v8h-8zM3365 484h8v8h-8zM3049 596h8v8h-8zM3350 565h8v8h-8zM3383 719h8v8h-8zM3353 786h8v8h-8zM2995 588h8v8h-8zM3423 702h8v8h-8zM3357 818h8v8h-8zM2969 592h8v8h-8zM3102 743h8v8h-8zM2939 632h8v8h-8zM3376 761h8v8h-8zM3148 822h8v8h-8zM3403 554h8v8h-8zM3365 722h8v8h-8zM3371 532h8v8h-8zM3364 606h8v8h-8zM2934 697h8v8h-8zM3092 692h8v8h-8zM3346 799h8v8h-8zM3385 597h8v8h-8zM2999 722h8v8h-8zM2950 704h8v8h-8zM3134 653h8v8h-8zM3380 521h8v8h-8zM3379 757h8v8h-8zM3029 654h8v8h-8zM3085 589h8v8h-8zM3387 542h8v8h-8zM3356 707h8v8h-8zM3390 598h8v8h-8zM3121 670h8v8h-8zM3407 594h8v8h-8zM3026 753h8v8h-8zM3356 818h8v8h-8zM3324 651h8v8h-8zM3371 685h8v8h-8zM3038 750h8v8h-8zM3349 507h8v8h-8zM3376 685h8v8h-8zM3337 814h8v8h-8zM3045 722h8v8h-8zM3364 578h8v8h-8zM3407 741h8v8h-8zM2992 628h8v8h-8zM3370 733h8v8h-8zM3090 653h8v8h-8zM3385 522h8v8h-8zM3364 642h8v8h-8zM3401 432h8v8h-8zM3364 679h8v8h-8zM3403 677h8v8h-8zM3111 688h8v8h-8zM3394 781h8v8h-8zM3389 666h8v8h-8zM3032 668h8v8h-8zM3035 695h8v8h-8zM3412 599h8v8h-8zM3332 436h8v8h-8zM3584 610h8v8h-8zM3115 595h8v8h-8zM2989 702h8v8h-8zM3361 722h8v8h-8zM3032 732h8v8h-8zM3395 571h8v8h-8zM2957 687h8v8h-8zM3020 679h8v8h-8zM3380 741h8v8h-8zM3041 714h8v8h-8zM2927 828h8v8h-8zM3393 715h8v8h-8zM3371 626h8v8h-8zM3391 573h8v8h-8zM2959 733h8v8h-8z"/><path d="M3029 736h8v8h-8zM3145 759h8v8h-8zM3083 838h8v8h-8zM3370 754h8v8h-8zM2891 696h8v8h-8zM3375 565h8v8h-8zM3359 825h8v8h-8zM3366 805h8v8h-8zM3414 808h8v8h-8zM3406 713h8v8h-8zM3341 704h8v8h-8zM2961 695h8v8h-8zM3422 582h8v8h-8zM3377 482h8v8h-8zM3367 563h8v8h-8zM3378 581h8v8h-8zM2837 718h8v8h-8zM3131 627h8v8h-8zM3215 683h8v8h-8zM3588 781h8v8h-8zM3379 772h8v8h-8zM3383 797h8v8h-8zM3373 723h8v8h-8zM3363 415h8v8h-8zM3012 686h8v8h-8zM3369 818h8v8h-8zM3363 818h8v8h-8zM2923 658h8v8h-8zM3032 656h8v8h-8zM3364 644h8v8h-8zM3387 782h8v8h-8zM2995 702h8v8h-8zM3339 836h8v8h-8zM3357 659h8v8h-8zM3354 493h8v8h-8zM3408 730h8v8h-8zM3119 714h8v8h-8zM3384 574h8v8h-8zM3394 674h8v8h-8zM3367 677h8v8h-8zM3361 512h8v8h-8zM3430 777h8v8h-8zM3083 586h8v8h-8zM3389 671h8v8h-8zM3406 798h8v8h-8zM3123 662h8v8h-8zM2901 573h8v8h-8zM3370 452h8v8h-8zM3371 805h8v8h-8zM3376 784h8v8h-8zM3391 655h8v8h-8zM3354 681h8v8h-8zM2883 615h8v8h-8zM3029 714h8v8h-8zM3381 753h8v8h-8zM3360 718h8v8h-8zM3396 566h8v8h-8zM2986 640h8v8h-8zM3383 830h8v8h-8zM3353 825h8v8h-8zM3401 550h8v8h-8zM3375 774h8v8h-8zM3369 619h8v8h-8zM3381 706h8v8h-8zM3352 619h8v8h-8zM3336 414h8v8h-8zM3402 500h8v8h-8zM3411 816h8v8h-8zM3357 717h8v8h-8zM3122 830h8v8h-8zM3314 800h8v8h-8zM3427 622h8v8h-8zM3128 783h8v8h-8zM3093 653h8v8h-8zM2973 611h8v8h-8zM3399 541h8v8h-8zM3367 837h8v8h-8zM3021 605h8v8h-8zM3066 747h8v8h-8zM3405 596h8v8h-8zM3341 759h8v8h-8zM3349 835h8v8h-8zM2962 734h8v8h-8zM3377 717h8v8h-8zM3342 680h8v8h-8zM3373 775h8v8h-8zM3435 425h8v8h-8zM2964 716h8v8h-8zM3340 692h8v8h-8zM3067 602h8v8h-8zM3548 798h8v8h-8zM2969 614h8v8h-8zM3005 783h8v8h-8zM2957 620h8v8h-8zM2909 532h8v8h-8zM2991 689h8v8h-8zM2983 673h8v8h-8zM3372 697h8v8h-8zM3382 554h8v8h-8zM3367 792h8v8h-8zM3377 724h8v8h-8zM3376 765h8v8h-8zM3362 700h8v8h-8zM3075 702h8v8h-8zM3361 824h8v8h-8zM2970 765h8v8h-8zM3401 707h8v8h-8zM3365 494h8v8h-8zM3015 648h8v8h-8zM3397 826h8v8h-8zM3354 835h8v8h-8zM3388 782h8v8h-8zM2902 684h8v8h-8zM3409 686h8v8h-8zM3163 612h8v8h-8zM3406 680h8v8h-8zM3370 778h8v8h-8zM3358 714h8v8h-8zM3081 724h8v8h-8zM3381 715h8v8h-8z"/><path d="M2904 631h8v8h-8zM3360 571h8v8h-8zM3385 624h8v8h-8zM3396 782h8v8h-8zM3357 755h8v8h-8zM2973 668h8v8h-8zM3362 681h8v8h-8zM3390 616h8v8h-8zM3392 597h8v8h-8zM3030 630h8v8h-8zM3139 660h8v8h-8zM2933 678h8v8h-8zM3137 803h8v8h-8zM3008 676h8v8h-8zM3060 664h8v8h-8zM3388 541h8v8h-8zM3403 483h8v8h-8zM3387 772h8v8h-8zM3414 367h8v8h-8zM2935 805h8v8h-8zM3390 558h8v8h-8zM3482 555h8v8h-8zM3384 629h8v8h-8zM2993 709h8v8h-8zM3408 668h8v8h-8zM3389 677h8v8h-8zM3405 469h8v8h-8zM3358 722h8v8h-8zM3382 658h8v8h-8zM3355 654h8v8h-8zM3141 832h8v8h-8zM3320 779h8v8h-8zM3428 667h8v8h-8zM3064 656h8v8h-8zM3396 731h8v8h-8zM3368 559h8v8h-8zM3387 515h8v8h-8zM3388 761h8v8h-8zM3368 823h8v8h-8zM3451 790h8v8h-8zM3050 607h8v8h-8zM3338 669h8v8h-8zM3351 716h8v8h-8zM3017 724h8v8h-8zM3358 835h8v8h-8zM3384 780h8v8h-8zM3417 807h8v8h-8zM3110 823h8v8h-8zM3397 818h8v8h-8zM3400 590h8v8h-8zM3056 567h8v8h-8zM3058 803h8v8h-8zM3380 647h8v8h-8zM3381 736h8v8h-8zM3373 666h8v8h-8zM3385 587h8v8h-8zM3324 337h8v8h-8zM2997 672h8v8h-8zM3392 537h8v8h-8zM3402 827h8v8h-8zM3385 710h8v8h-8zM3062 646h8v8h-8zM3415 442h8v8h-8zM3387 666h8v8h-8zM3379 833h8v8h-8zM3028 610h8v8h-8zM3162 657h8v8h-8zM3005 628h8v8h-8zM3382 820h8v8h-8zM3393 600h8v8h-8zM3378 833h8v8h-8zM3038 681h8v8h-8zM3396 546h8v8h-8zM2865 606h8v8h-8zM3058 616h8v8h-8zM3102 774h8v8h-8zM3422 646h8v8h-8zM3004 602h8v8h-8zM3414 262h8v8h-8zM3403 654h8v8h-8zM3410 660h8v8h-8zM3137 653h8v8h-8zM3392 585h8v8h-8zM3371 620h8v8h-8zM3360 585h8v8h-8zM3372 599h8v8h-8zM3067 759h8v8h-8zM3034 676h8v8h-8zM3369 818h8v8h-8zM3396 704h8v8h-8zM3381 685h8v8h-8zM3140 616h8v8h-8zM3350 602h8v8h-8zM3394 698h8v8h-8zM3145 606h8v8h-8zM3022 600h8v8h-8zM3025 682h8v8h-8zM3397 625h8v8h-8zM2912 726h8v8h-8zM3342 703h8v8h-8zM3377 790h8v8h-8zM3397 792h8v8h-8zM3345 590h8v8h-8zM3019 728h8v8h-8zM3380 742h8v8h-8zM3321 825h8v8h-8zM3373 709h8v8h-8zM3123 724h8v8h-8zM2939 830h8v8h-8zM2987 739h8v8h-8zM3391 785h8v8h-8zM3075 757h8v8h-8zM2957 678h8v8h-8zM2965 630h8v8h-8zM3400 362h8v8h-8zM3406 584h8v8h-8zM3382 613h8v8h-8zM3367 725h8v8h-8zM3431 726h8v8h-8zM3383 736h8v8h-8z"/><path d="M3412 689h8v8h-8zM3364 615h8v8h-8zM3041 585h8v8h-8zM3121 583h8v8h-8zM3376 644h8v8h-8zM3407 583h8v8h-8zM3080 764h8v8h-8zM3381 637h8v8h-8zM3378 577h8v8h-8zM3056 693h8v8h-8zM3360 698h8v8h-8zM3352 717h8v8h-8zM3410 373h8v8h-8zM3373 717h8v8h-8zM3079 752h8v8h-8zM3379 433h8v8h-8zM3373 684h8v8h-8zM2920 720h8v8h-8zM3087 708h8v8h-8zM3399 524h8v8h-8zM3387 644h8v8h-8zM3379 602h8v8h-8zM2965 678h8v8h-8zM3365 642h8v8h-8zM3369 806h8v8h-8zM3373 827h8v8h-8zM3084 748h8v8h-8zM3379 759h8v8h-8zM3359 750h8v8h-8zM3066 685h8v8h-8zM3090 778h8v8h-8zM2997 692h8v8h-8zM2996 699h8v8h-8zM3378 663h8v8h-8zM3340 796h8v8h-8zM3360 475h8v8h-8zM3059 799h8v8h-8zM3349 707h8v8h-8zM3124 757h8v8h-8zM3126 526h8v8h-8zM3388 482h8v8h-8zM3403 297h8v8h-8zM3367 576h8v8h-8zM3001 786h8v8h-8zM3200 731h8v8h-8zM3383 450h8v8h-8zM3028 837h8v8h-8zM3051 611h8v8h-8zM3378 703h8v8h-8zM3398 785h8v8h-8zM3382 680h8v8h-8zM3370 522h8v8h-8zM3411 420h8v8h-8zM3014 515h8v8h-8zM2935 594h8v8h-8zM3422 574h8v8h-8zM3386 640h8v8h-8zM3360 690h8v8h-8zM2996 650h8v8h-8zM3046 674h8v8h-8zM3372 679h8v8h-8zM3341 327h8v8h-8zM3356 586h8v8h-8zM3401 514h8v8h-8zM3362 785h8v8h-8zM3397 675h8v8h-8zM2923 663h8v8h-8zM3370 378h8v8h-8zM2929 616h8v8h-8zM3413 598h8v8h-8zM3352 838h8v8h-8zM2996 770h8v8h-8zM3382 677h8v8h-8zM3381 499h8v8h-8zM3187 784h8v8h-8zM3368 829h8v8h-8zM3388 651h8v8h-8zM3402 670h8v8h-8zM3340 588h8v8h-8zM3356 615h8v8h-8zM2895 595h8v8h-8zM3440 830h8v8h-8zM3422 686h8v8h-8zM3028 791h8v8h-8zM3149 725h8v8h-8zM3386 828h8v8h-8zM3332 433h8v8h-8zM3369 732h8v8h-8zM3386 763h8v8h-8zM2895 699h8v8h-8zM3373 588h8v8h-8zM3378 772h8v8h-8zM3382 506h8v8h-8zM3367 680h8v8h-8zM3066 681h8v8h-8zM2953 689h8v8h-8zM3365 680h8v8h-8zM3041 580h8v8h-8zM3412 707h8v8h-8zM3377 517h8v8h-8zM3399 832h8v8h-8zM3380 565h8v8h-8zM3389 736h8v8h-8zM3393 540h8v8h-8zM3151 757h8v8h-8zM2995 657h8v8h-8zM3420 748h8v8h-8zM3140 718h8v8h-8zM3358 739h8v8h-8zM3013 633h8v8h-8zM3367 830h8v8h-8zM2951 775h8v8h-8zM3347 592h8v8h-8zM3382 568h8v8h-8zM3313 675h8v8h-8zM3387 766h8v8h-8zM3399 742h8v8h-8zM2998 626h8v8h-8zM3061 687h8v8h-8zM3117 731h8v8h-8z"/><path d="M3381 695h8v8h-8zM3091 700h8v8h-8zM3414 710h8v8h-8zM3353 696h8v8h-8zM3079 690h8v8h-8zM3380 572h8v8h-8zM3372 698h8v8h-8zM3184 818h8v8h-8zM3336 728h8v8h-8zM3400 732h8v8h-8zM3369 831h8v8h-8zM3387 829h8v8h-8zM2966 578h8v8h-8zM3368 288h8v8h-8zM3354 782h8v8h-8zM2998 611h8v8h-8zM3011 683h8v8h-8zM3352 584h8v8h-8zM3398 722h8v8h-8zM3358 700h8v8h-8zM3418 763h8v8h-8zM3384 637h8v8h-8zM3402 651h8v8h-8zM3426 812h8v8h-8zM3339 593h8v8h-8zM3143 576h8v8h-8zM3412 471h8v8h-8zM3350 677h8v8h-8zM3382 767h8v8h-8zM3313 821h8v8h-8zM2910 680h8v8h-8zM3370 836h8v8h-8zM3394 630h8v8h-8zM3379 708h8v8h-8zM2991 731h8v8h-8zM3257 600h8v8h-8zM3138 728h8v8h-8zM3367 408h8v8h-8zM3355 822h8v8h-8zM3414 790h8v8h-8zM3387 498h8v8h-8zM2943 821h8v8h-8zM3359 778h8v8h-8zM3143 379h8v8h-8zM3388 703h8v8h-8zM3343 715h8v8h-8zM3368 447h8v8h-8zM2954 677h8v8h-8zM3408 714h8v8h-8zM2997 732h8v8h-8zM3396 737h8v8h-8zM3365 483h8v8h-8zM3019 652h8v8h-8zM3350 820h8v8h-8zM3389 721h8v8h-8zM2928 622h8v8h-8zM3373 669h8v8h-8zM2997 636h8v8h-8zM3394 644h8v8h-8zM3004 661h8v8h-8zM3027 717h8v8h-8zM2984 744h8v8h-8zM3348 618h8v8h-8zM3080 799h8v8h-8zM3373 815h8v8h-8zM2990 628h8v8h-8zM3005 812h8v8h-8zM3019 769h8v8h-8zM3331 750h8v8h-8zM3071 741h8v8h-8zM3377 741h8v8h-8zM3384 735h8v8h-8zM3354 677h8v8h-8zM3413 617h8v8h-8zM3050 769h8v8h-8zM3365 553h8v8h-8zM3404 723h8v8h-8zM2948 636h8v8h-8zM2832 742h8v8h-8zM2970 647h8v8h-8zM3393 584h8v8h-8zM3586 832h8v8h-8zM3400 706h8v8h-8zM2902 663h8v8h-8zM3369 752h8v8h-8zM3415 614h8v8h-8zM3396 696h8v8h-8zM3400 779h8v8h-8zM3416 602h8v8h-8zM3393 816h8v8h-8zM3343 721h8v8h-8zM3377 834h8v8h-8zM3161 631h8v8h-8zM3370 683h8v8h-8zM3361 728h8v8h-8zM3048 677h8v8h-8zM2952 828h8v8h-8zM3371 680h8v8h-8zM3042 688h8v8h-8zM3079 743h8v8h-8zM2982 820h8v8h-8zM3382 812h8v8h-8zM3408 765h8v8h-8zM3313 637h8v8h-8zM3355 730h8v8h-8zM2952 697h8v8h-8zM3388 648h8v8h-8zM3375 691h8v8h-8zM3395 791h8v8h-8zM3383 698h8v8h-8zM3391 728h8v8h-8zM3352 603h8v8h-8zM2917 615h8v8h-8zM3353 563h8v8h-8zM2930 701h8v8h-8zM3397 577h8v8h-8zM3405 834h8v8h-8zM3342 723h8v8h-8zM3372 677h8v8h-8zM2876 640h8v8h-8z"/><path d="M3396 490h8v8h-8zM3371 813h8v8h-8zM3381 282h8v8h-8zM3352 662h8v8h-8zM3395 502h8v8h-8zM2961 701h8v8h-8zM3421 770h8v8h-8zM3371 646h8v8h-8zM2873 818h8v8h-8zM3377 729h8v8h-8zM3394 704h8v8h-8zM2977 682h8v8h-8zM3344 668h8v8h-8zM3416 714h8v8h-8zM3391 776h8v8h-8zM3244 611h8v8h-8zM3021 658h8v8h-8zM2965 683h8v8h-8zM3374 541h8v8h-8zM3388 638h8v8h-8zM3084 760h8v8h-8zM3057 832h8v8h-8zM3399 331h8v8h-8zM3364 665h8v8h-8zM3403 489h8v8h-8zM3395 570h8v8h-8zM3350 479h8v8h-8zM3392 798h8v8h-8zM3352 571h8v8h-8zM2929 630h8v8h-8zM3348 586h8v8h-8zM3432 380h8v8h-8zM3388 718h8v8h-8zM3354 706h8v8h-8zM2988 703h8v8h-8zM3406 698h8v8h-8zM3391 638h8v8h-8zM3408 597h8v8h-8zM3093 739h8v8h-8zM2944 652h8v8h-8zM3370 832h8v8h-8zM3378 554h8v8h-8zM3378 776h8v8h-8zM2995 664h8v8h-8zM2989 615h8v8h-8zM3372 691h8v8h-8zM3360 655h8v8h-8zM3382 805h8v8h-8zM3411 716h8v8h-8zM3378 671h8v8h-8zM3386 767h8v8h-8zM3411 433h8v8h-8zM3368 805h8v8h-8zM3380 664h8v8h-8zM3144 650h8v8h-8zM2986 733h8v8h-8zM3402 667h8v8h-8zM3071 669h8v8h-8zM2946 726h8v8h-8zM3339 649h8v8h-8zM3061 604h8v8h-8zM3381 651h8v8h-8zM3360 735h8v8h-8zM3422 697h8v8h-8zM3387 546h8v8h-8zM3010 654h8v8h-8zM3370 683h8v8h-8zM3104 678h8v8h-8zM3035 692h8v8h-8zM3381 375h8v8h-8zM3094 721h8v8h-8zM3392 816h8v8h-8zM3370 809h8v8h-8zM3105 689h8v8h-8zM3412 714h8v8h-8zM3378 834h8v8h-8zM3378 750h8v8h-8zM3002 682h8v8h-8zM3066 751h8v8h-8zM3386 531h8v8h-8zM3382 735h8v8h-8zM3236 706h8v8h-8zM3367 832h8v8h-8zM3376 658h8v8h-8zM3352 611h8v8h-8zM3430 708h8v8h-8zM2979 662h8v8h-8zM3346 775h8v8h-8zM3376 627h8v8h-8zM3150 686h8v8h-8zM3333 615h8v8h-8zM3400 743h8v8h-8zM3039 743h8v8h-8zM2962 749h8v8h-8zM3359 552h8v8h-8zM3352 736h8v8h-8zM3388 721h8v8h-8zM2900 680h8v8h-8zM3372 660h8v8h-8zM3438 820h8v8h-8zM3398 794h8v8h-8zM3362 717h8v8h-8zM3393 831h8v8h-8zM3036 679h8v8h-8zM3385 678h8v8h-8zM3330 707h8v8h-8zM3119 789h8v8h-8zM3117 723h8v8h-8zM3073 681h8v8h-8zM3373 665h8v8h-8zM3371 746h8v8h-8zM3353 781h8v8h-8zM3334 716h8v8h-8zM3377 626h8v8h-8zM2977 669h8v8h-8zM3388 767h8v8h-8zM3215 651h8v8h-8zM3419 662h8v8h-8zM3362 564h8v8h-8zM3381 750h8v8h-8z"/><path d="M3033 680h8v8h-8zM3385 487h8v8h-8zM3033 600h8v8h-8zM3012 653h8v8h-8zM3369 731h8v8h-8zM3372 696h8v8h-8zM3374 391h8v8h-8zM3359 661h8v8h-8zM2871 746h8v8h-8zM3065 720h8v8h-8zM3371 751h8v8h-8zM3346 578h8v8h-8zM3024 705h8v8h-8zM2975 699h8v8h-8zM2938 775h8v8h-8zM2982 641h8v8h-8zM3364 694h8v8h-8zM3350 743h8v8h-8zM3383 692h8v8h-8zM3005 786h8v8h-8zM2967 710h8v8h-8zM3058 651h8v8h-8zM3220 704h8v8h-8zM3361 820h8v8h-8zM3385 594h8v8h-8zM3376 835h8v8h-8zM3363 683h8v8h-8zM3356 733h8v8h-8zM3075 688h8v8h-8zM3368 717h8v8h-8zM3372 645h8v8h-8zM3409 713h8v8h-8zM3344 671h8v8h-8zM2958 651h8v8h-8zM3361 702h8v8h-8zM3387 611h8v8h-8zM3456 838h8v8h-8zM3377 617h8v8h-8zM3411 802h8v8h-8zM3383 750h8v8h-8zM3386 700h8v8h-8zM3388 786h8v8h-8zM3074 664h8v8h-8zM3374 621h8v8h-8zM3385 783h8v8h-8zM3367 567h8v8h-8zM3382 833h8v8h-8zM2980 776h8v8h-8zM3385 724h8v8h-8zM3381 704h8v8h-8zM3340 584h8v8h-8zM3388 810h8v8h-8zM3398 299h8v8h-8zM3008 629h8v8h-8zM3069 649h8v8h-8zM3348 776h8v8h-8zM3015 581h8v8h-8zM3319 571h8v8h-8zM2995 773h8v8h-8zM3414 703h8v8h-8zM3377 789h8v8h-8zM3407 739h8v8h-8zM3395 561h8v8h-8zM3082 740h8v8h-8zM3367 703h8v8h-8zM3357 720h8v8h-8zM2971 606h8v8h-8zM2899 713h8v8h-8zM3389 604h8v8h-8zM3409 389h8v8h-8zM3405 809h8v8h-8zM3361 831h8v8h-8zM3378 582h8v8h-8zM3004 609h8v8h-8zM3396 382h8v8h-8zM3418 785h8v8h-8zM3364 753h8v8h-8zM3405 437h8v8h-8zM3361 638h8v8h-8zM3335 734h8v8h-8zM3403 660h8v8h-8zM3365 835h8v8h-8zM3399 595h8v8h-8zM3286 836h8v8h-8zM3395 569h8v8h-8zM3389 688h8v8h-8zM3377 779h8v8h-8zM3407 836h8v8h-8zM3412 635h8v8h-8zM3398 584h8v8h-8zM3377 776h8v8h-8zM3397 756h8v8h-8zM3379 671h8v8h-8zM3399 837h8v8h-8zM3400 796h8v8h-8zM3434 496h8v8h-8zM3354 685h8v8h-8zM3410 743h8v8h-8zM2953 702h8v8h-8zM3352 706h8v8h-8zM3380 720h8v8h-8zM3382 555h8v8h-8zM3080 829h8v8h-8zM2940 819h8v8h-8zM3153 606h8v8h-8zM3329 546h8v8h-8zM3061 648h8v8h-8zM3075 623h8v8h-8zM3379 461h8v8h-8zM2983 569h8v8h-8zM3054 617h8v8h-8zM2937 578h8v8h-8zM3363 710h8v8h-8zM3386 684h8v8h-8zM3367 580h8v8h-8zM3397 687h8v8h-8zM3323 568h8v8h-8zM3208 494h8v8h-8zM3058 651h8v8h-8zM3320 706h8v8h-8z"/><path d="M3365 658h8v8h-8zM3086 570h8v8h-8zM3011 635h8v8h-8zM2982 765h8v8h-8zM3394 736h8v8h-8zM2970 746h8v8h-8zM3190 408h8v8h-8zM3031 668h8v8h-8zM3376 723h8v8h-8zM3383 743h8v8h-8zM3384 814h8v8h-8zM3185 651h8v8h-8zM3385 806h8v8h-8zM3393 532h8v8h-8zM3385 770h8v8h-8zM3397 549h8v8h-8zM3396 812h8v8h-8zM3398 541h8v8h-8zM3349 801h8v8h-8zM3384 619h8v8h-8zM2896 743h8v8h-8zM3091 657h8v8h-8zM3069 742h8v8h-8zM3366 838h8v8h-8zM3010 662h8v8h-8zM2965 811h8v8h-8zM3110 738h8v8h-8zM3368 696h8v8h-8zM3403 825h8v8h-8zM3349 676h8v8h-8zM3399 544h8v8h-8zM3109 563h8v8h-8zM3396 793h8v8h-8zM3406 605h8v8h-8zM2974 794h8v8h-8zM3388 759h8v8h-8zM3372 778h8v8h-8zM3139 677h8v8h-8zM3386 659h8v8h-8zM3031 625h8v8h-8zM3392 815h8v8h-8zM3071 710h8v8h-8zM3404 716h8v8h-8zM3390 752h8v8h-8zM3105 627h8v8h-8zM3384 757h8v8h-8zM2997 733h8v8h-8zM3407 828h8v8h-8zM3000 626h8v8h-8zM3189 697h8v8h-8zM3047 761h8v8h-8zM3359 575h8v8h-8zM3352 649h8v8h-8zM3016 664h8v8h-8zM3351 684h8v8h-8zM2991 674h8v8h-8zM3378 799h8v8h-8zM2916 821h8v8h-8zM3379 816h8v8h-8zM3376 707h8v8h-8zM3081 799h8v8h-8zM3398 696h8v8h-8zM3383 815h8v8h-8zM3376 758h8v8h-8zM3179 644h8v8h-8zM3077 706h8v8h-8zM2952 715h8v8h-8zM3382 739h8v8h-8zM3384 434h8v8h-8zM2921 780h8v8h-8zM2974 598h8v8h-8zM3368 774h8v8h-8zM3377 755h8v8h-8zM2952 596h8v8h-8zM3011 636h8v8h-8zM3027 688h8v8h-8zM3344 556h8v8h-8zM3003 702h8v8h-8zM2983 693h8v8h-8zM3383 520h8v8h-8zM3340 615h8v8h-8zM3030 728h8v8h-8zM3028 602h8v8h-8zM2986 653h8v8h-8zM3021 613h8v8h-8zM3379 624h8v8h-8zM3381 741h8v8h-8zM3395 747h8v8h-8zM3377 693h8v8h-8zM3015 673h8v8h-8zM3378 677h8v8h-8zM3102 693h8v8h-8zM3026 642h8v8h-8zM3368 751h8v8h-8zM3368 659h8v8h-8zM3016 649h8v8h-8zM3382 806h8v8h-8zM3411 667h8v8h-8zM3357 587h8v8h-8zM3001 648h8v8h-8zM3043 685h8v8h-8zM3015 652h8v8h-8zM3370 284h8v8h-8zM3375 417h8v8h-8zM3352 654h8v8h-8zM3339 416h8v8h-8zM3366 834h8v8h-8zM3365 453h8v8h-8zM3386 681h8v8h-8zM2885 826h8v8h-8zM3420 774h8v8h-8zM3358 227h8v8h-8zM3377 647h8v8h-8zM3362 774h8v8h-8zM2993 703h8v8h-8zM3361 706h8v8h-8zM3024 723h8v8h-8zM3053 800h8v8h-8zM3441 818h8v8h-8zM3384 724h8v8h-8z"/><path d="M3134 644h8v8h-8zM2961 598h8v8h-8zM3015 600h8v8h-8zM3366 774h8v8h-8zM3126 642h8v8h-8zM3004 618h8v8h-8zM3210 836h8v8h-8zM3405 837h8v8h-8zM3360 812h8v8h-8zM3381 669h8v8h-8zM3082 653h8v8h-8zM3071 706h8v8h-8zM3402 628h8v8h-8zM3367 511h8v8h-8zM3409 533h8v8h-8zM3369 474h8v8h-8zM3059 698h8v8h-8zM3374 504h8v8h-8zM3094 716h8v8h-8zM3393 633h8v8h-8zM3407 651h8v8h-8zM3384 645h8v8h-8zM3175 740h8v8h-8zM3427 476h8v8h-8zM3380 707h8v8h-8zM3089 775h8v8h-8zM3453 613h8v8h-8zM3413 640h8v8h-8zM3374 757h8v8h-8zM3412 707h8v8h-8zM3396 767h8v8h-8zM3411 647h8v8h-8zM3387 835h8v8h-8zM3037 838h8v8h-8zM3389 824h8v8h-8zM2976 742h8v8h-8zM3393 742h8v8h-8zM3038 712h8v8h-8zM3430 801h8v8h-8zM3394 385h8v8h-8zM3403 714h8v8h-8zM3080 715h8v8h-8zM3385 802h8v8h-8zM3377 645h8v8h-8zM3386 719h8v8h-8zM3416 415h8v8h-8zM3082 725h8v8h-8zM3091 647h8v8h-8zM3373 755h8v8h-8zM3405 558h8v8h-8zM3369 644h8v8h-8zM3394 631h8v8h-8zM2941 818h8v8h-8zM3034 645h8v8h-8zM3354 607h8v8h-8zM2998 558h8v8h-8zM3417 607h8v8h-8zM3318 666h8v8h-8zM2976 812h8v8h-8zM2860 740h8v8h-8zM3316 534h8v8h-8zM3359 613h8v8h-8zM3040 702h8v8h-8zM3359 766h8v8h-8zM3373 746h8v8h-8zM2995 799h8v8h-8zM3345 590h8v8h-8zM3407 378h8v8h-8zM3414 596h8v8h-8zM3383 570h8v8h-8zM3045 743h8v8h-8zM3090 604h8v8h-8zM3373 835h8v8h-8zM3418 547h8v8h-8zM2989 639h8v8h-8zM3354 828h8v8h-8zM3374 473h8v8h-8zM3361 733h8v8h-8zM3390 663h8v8h-8zM2962 787h8v8h-8zM3020 656h8v8h-8zM3344 479h8v8h-8zM3505 495h8v8h-8zM3062 786h8v8h-8zM3413 742h8v8h-8zM3376 822h8v8h-8zM3372 439h8v8h-8zM3470 739h8v8h-8zM3367 664h8v8h-8zM3401 745h8v8h-8zM3367 647h8v8h-8zM3398 518h8v8h-8zM3405 685h8v8h-8zM3383 654h8v8h-8zM2972 711h8v8h-8zM3401 746h8v8h-8zM3401 668h8v8h-8zM3408 739h8v8h-8zM3382 757h8v8h-8zM3381 813h8v8h-8zM3401 666h8v8h-8zM3258 758h8v8h-8zM2936 603h8v8h-8zM3341 625h8v8h-8zM3361 721h8v8h-8zM3041 651h8v8h-8zM3362 469h8v8h-8zM3368 679h8v8h-8zM3397 704h8v8h-8zM3012 817h8v8h-8zM3390 701h8v8h-8zM3001 735h8v8h-8zM3394 660h8v8h-8zM3020 644h8v8h-8zM3058 712h8v8h-8zM3372 381h8v8h-8zM3384 531h8v8h-8zM3011 637h8v8h-8zM2944 731h8v8h-8zM3367 574h8v8h-8z"/><path d="M3377 494h8v8h-8zM3375 727h8v8h-8zM2924 658h8v8h-8zM2973 734h8v8h-8zM3388 581h8v8h-8zM3232 719h8v8h-8zM3361 449h8v8h-8zM3386 674h8v8h-8zM3383 797h8v8h-8zM3407 651h8v8h-8zM3341 673h8v8h-8zM3381 796h8v8h-8zM3423 796h8v8h-8zM3388 669h8v8h-8zM3378 512h8v8h-8zM2953 655h8v8h-8zM3365 460h8v8h-8zM3357 639h8v8h-8zM2981 794h8v8h-8zM3352 602h8v8h-8zM3121 657h8v8h-8zM3020 636h8v8h-8zM3373 638h8v8h-8zM3394 718h8v8h-8zM3008 739h8v8h-8zM3392 785h8v8h-8zM3024 683h8v8h-8zM3395 832h8v8h-8zM3385 750h8v8h-8zM3055 637h8v8h-8zM3389 816h8v8h-8zM3394 734h8v8h-8zM3057 620h8v8h-8zM2932 721h8v8h-8zM2951 698h8v8h-8zM3055 643h8v8h-8zM3073 683h8v8h-8zM3387 816h8v8h-8zM3410 636h8v8h-8zM3402 597h8v8h-8zM3381 427h8v8h-8zM3360 715h8v8h-8zM2945 645h8v8h-8zM2898 645h8v8h-8zM3374 789h8v8h-8zM3384 652h8v8h-8zM3404 682h8v8h-8zM3406 807h8v8h-8zM3411 398h8v8h-8zM3392 746h8v8h-8zM3370 770h8v8h-8zM3001 707h8v8h-8zM3329 405h8v8h-8zM3376 549h8v8h-8zM3345 567h8v8h-8zM3453 821h8v8h-8zM3054 659h8v8h-8zM3400 613h8v8h-8zM3049 723h8v8h-8zM3391 630h8v8h-8zM2872 594h8v8h-8zM3073 742h8v8h-8zM3369 767h8v8h-8zM2941 725h8v8h-8zM3378 619h8v8h-8zM3139 716h8v8h-8zM2934 681h8v8h-8zM2887 811h8v8h-8zM2912 734h8v8h-8zM3370 786h8v8h-8zM3391 666h8v8h-8zM3370 828h8v8h-8zM3368 596h8v8h-8zM2971 717h8v8h-8zM3382 543h8v8h-8zM3392 777h8v8h-8zM2913 789h8v8h-8zM3400 809h8v8h-8zM3349 639h8v8h-8zM3033 689h8v8h-8zM2983 708h8v8h-8zM3381 728h8v8h-8zM3354 779h8v8h-8zM2935 684h8v8h-8zM3361 556h8v8h-8zM3062 718h8v8h-8zM3215 579h8v8h-8zM3323 668h8v8h-8zM3428 676h8v8h-8zM2889 658h8v8h-8zM3383 705h8v8h-8zM3094 775h8v8h-8zM2902 730h8v8h-8zM2997 762h8v8h-8zM3108 604h8v8h-8zM3367 602h8v8h-8zM3389 756h8v8h-8zM3410 750h8v8h-8zM2831 606h8v8h-8zM3113 732h8v8h-8zM3029 599h8v8h-8zM3356 779h8v8h-8zM2956 668h8v8h-8zM3380 620h8v8h-8zM3033 616h8v8h-8zM3017 689h8v8h-8zM3384 593h8v8h-8zM3408 452h8v8h-8zM3356 831h8v8h-8zM3397 670h8v8h-8zM3062 768h8v8h-8zM3344 797h8v8h-8zM3370 658h8v8h-8zM3366 757h8v8h-8zM3383 647h8v8h-8zM2953 599h8v8h-8zM3374 734h8v8h-8zM2996 678h8v8h-8zM3369 630h8v8h-8zM3427 838h8v8h-8z"/><path d="M3058 701h8v8h-8zM3390 638h8v8h-8zM3101 684h8v8h-8zM3584 779h8v8h-8zM3006 532h8v8h-8zM3347 771h8v8h-8zM3407 412h8v8h-8zM3364 590h8v8h-8zM3364 578h8v8h-8zM3372 824h8v8h-8zM3106 703h8v8h-8zM3048 668h8v8h-8zM3368 689h8v8h-8zM2973 643h8v8h-8zM3005 805h8v8h-8zM2898 823h8v8h-8zM3396 734h8v8h-8zM3374 664h8v8h-8zM3424 811h8v8h-8zM2873 592h8v8h-8zM3411 834h8v8h-8zM3404 555h8v8h-8zM3039 730h8v8h-8zM3370 806h8v8h-8zM3025 756h8v8h-8zM3356 664h8v8h-8zM3361 764h8v8h-8zM3382 626h8v8h-8zM2914 718h8v8h-8zM3397 658h8v8h-8zM3367 765h8v8h-8zM3411 680h8v8h-8zM3394 726h8v8h-8zM3009 715h8v8h-8zM3359 829h8v8h-8zM3375 743h8v8h-8zM3396 629h8v8h-8zM2978 811h8v8h-8zM3372 717h8v8h-8zM3379 663h8v8h-8zM3371 701h8v8h-8zM3439 606h8v8h-8zM3370 407h8v8h-8zM3360 727h8v8h-8zM3066 672h8v8h-8zM3380 752h8v8h-8zM3370 673h8v8h-8zM3387 593h8v8h-8zM3358 768h8v8h-8zM3395 690h8v8h-8zM3345 634h8v8h-8zM3381 615h8v8h-8zM3373 703h8v8h-8zM3378 839h8v8h-8zM3399 780h8v8h-8zM3392 659h8v8h-8zM3379 589h8v8h-8zM3420 602h8v8h-8zM2883 651h8v8h-8zM3377 823h8v8h-8zM3008 660h8v8h-8zM3109 659h8v8h-8zM3004 688h8v8h-8zM3074 651h8v8h-8zM3378 784h8v8h-8zM3367 489h8v8h-8zM3381 552h8v8h-8zM3368 680h8v8h-8zM3391 821h8v8h-8zM2899 679h8v8h-8zM3384 492h8v8h-8zM3373 709h8v8h-8zM3396 813h8v8h-8zM3369 789h8v8h-8zM3403 688h8v8h-8zM3015 747h8v8h-8zM3020 666h8v8h-8zM3353 602h8v8h-8zM3424 651h8v8h-8zM3344 646h8v8h-8zM3382 839h8v8h-8zM3107 750h8v8h-8zM3379 646h8v8h-8zM3072 840h8v8h-8zM2988 676h8v8h-8zM3033 657h8v8h-8zM3093 680h8v8h-8zM3360 803h8v8h-8zM3349 707h8v8h-8zM3363 765h8v8h-8zM3058 678h8v8h-8zM3378 428h8v8h-8zM3092 765h8v8h-8zM3402 756h8v8h-8zM3090 634h8v8h-8zM3406 608h8v8h-8zM2972 796h8v8h-8zM3437 720h8v8h-8zM3345 633h8v8h-8zM3396 447h8v8h-8zM3056 758h8v8h-8zM3389 647h8v8h-8zM2846 530h8v8h-8zM2879 692h8v8h-8zM3109 638h8v8h-8zM3317 839h8v8h-8zM2864 661h8v8h-8zM2963 695h8v8h-8zM2982 632h8v8h-8zM3383 787h8v8h-8zM3381 754h8v8h-8zM3064 545h8v8h-8zM3353 751h8v8h-8zM3380 728h8v8h-8zM3019 573h8v8h-8zM3393 618h8v8h-8zM3378 768h8v8h-8zM3386 514h8v8h-8zM3052 664h8v8h-8zM3406 434h8v8h-8z"/><path d="M2930 684h8v8h-8zM3377 767h8v8h-8zM3187 678h8v8h-8zM3406 629h8v8h-8zM2989 698h8v8h-8zM3028 800h8v8h-8zM3379 729h8v8h-8zM3420 566h8v8h-8zM3375 507h8v8h-8zM2831 682h8v8h-8zM3369 747h8v8h-8zM3412 791h8v8h-8zM3404 669h8v8h-8zM3371 524h8v8h-8zM3360 703h8v8h-8zM2934 764h8v8h-8zM3409 400h8v8h-8zM3083 589h8v8h-8zM3050 758h8v8h-8zM3375 675h8v8h-8zM3026 772h8v8h-8zM3034 733h8v8h-8zM3032 674h8v8h-8zM3060 670h8v8h-8zM3388 730h8v8h-8zM3388 441h8v8h-8zM3400 834h8v8h-8zM3357 727h8v8h-8zM3375 833h8v8h-8zM3101 666h8v8h-8zM3388 652h8v8h-8zM3397 556h8v8h-8zM2971 714h8v8h-8zM3409 828h8v8h-8zM3153 677h8v8h-8zM3336 618h8v8h-8zM3402 718h8v8h-8zM3372 657h8v8h-8zM3371 813h8v8h-8zM3074 693h8v8h-8zM3369 673h8v8h-8zM3371 580h8v8h-8zM3368 831h8v8h-8zM3430 670h8v8h-8zM3347 638h8v8h-8zM3395 461h8v8h-8zM3387 681h8v8h-8zM3586 738h8v8h-8zM2993 680h8v8h-8zM3141 670h8v8h-8zM3299 367h8v8h-8zM3332 593h8v8h-8zM3370 790h8v8h-8zM3080 826h8v8h-8zM3418 511h8v8h-8zM3408 699h8v8h-8zM3151 781h8v8h-8zM2993 680h8v8h-8zM3058 712h8v8h-8zM3389 818h8v8h-8zM3370 718h8v8h-8zM3149 617h8v8h-8zM3382 696h8v8h-8zM2991 634h8v8h-8zM3009 717h8v8h-8zM3397 644h8v8h-8zM3367 682h8v8h-8zM3363 817h8v8h-8zM3120 674h8v8h-8zM3391 530h8v8h-8zM3375 829h8v8h-8zM3394 663h8v8h-8zM3041 689h8v8h-8zM3385 723h8v8h-8zM3392 792h8v8h-8zM3369 816h8v8h-8zM3384 834h8v8h-8zM3391 634h8v8h-8zM3357 605h8v8h-8zM2861 706h8v8h-8zM2971 553h8v8h-8zM3362 646h8v8h-8zM3405 765h8v8h-8zM3370 836h8v8h-8zM3074 727h8v8h-8zM3376 820h8v8h-8zM3102 694h8v8h-8zM3125 731h8v8h-8zM3385 714h8v8h-8zM2917 703h8v8h-8zM3373 505h8v8h-8zM3381 672h8v8h-8zM3356 752h8v8h-8zM3395 629h8v8h-8zM3418 758h8v8h-8zM3363 624h8v8h-8zM3394 682h8v8h-8zM3353 790h8v8h-8zM3384 837h8v8h-8zM3327 697h8v8h-8zM2970 669h8v8h-8zM3363 486h8v8h-8zM3404 738h8v8h-8zM3042 649h8v8h-8zM3367 726h8v8h-8zM3452 433h8v8h-8zM3396 797h8v8h-8zM3404 566h8v8h-8zM2956 717h8v8h-8zM2858 636h8v8h-8zM3016 694h8v8h-8zM3099 707h8v8h-8zM3360 641h8v8h-8zM3382 730h8v8h-8zM3360 746h8v8h-8zM3372 788h8v8h-8zM3371 762h8v8h-8zM3379 560h8v8h-8zM3365 732h8v8h-8zM3028 671h8v8h-8z"/><path d="M3367 811h8v8h-8zM3381 834h8v8h-8zM3352 770h8v8h-8zM3389 751h8v8h-8zM3411 590h8v8h-8zM2918 675h8v8h-8zM3410 827h8v8h-8zM3395 757h8v8h-8zM3148 662h8v8h-8zM3388 777h8v8h-8zM3364 708h8v8h-8zM3399 629h8v8h-8zM3375 627h8v8h-8zM3387 562h8v8h-8zM3351 605h8v8h-8zM3400 622h8v8h-8zM3038 830h8v8h-8zM3407 629h8v8h-8zM3425 636h8v8h-8zM3335 825h8v8h-8zM3074 717h8v8h-8zM3400 562h8v8h-8zM3438 639h8v8h-8zM3391 746h8v8h-8zM3404 810h8v8h-8zM3062 594h8v8h-8zM3390 483h8v8h-8zM2919 703h8v8h-8zM3085 676h8v8h-8zM3360 829h8v8h-8zM3388 622h8v8h-8zM3365 638h8v8h-8zM3147 686h8v8h-8zM3019 667h8v8h-8zM3170 541h8v8h-8zM2989 713h8v8h-8zM3047 623h8v8h-8zM3371 748h8v8h-8zM3357 636h8v8h-8zM3410 812h8v8h-8zM2963 726h8v8h-8zM3377 654h8v8h-8zM3385 720h8v8h-8zM3395 806h8v8h-8zM3394 592h8v8h-8zM3351 801h8v8h-8zM3371 804h8v8h-8zM3008 768h8v8h-8zM3088 740h8v8h-8zM3431 807h8v8h-8zM3367 722h8v8h-8zM2980 504h8v8h-8zM3349 603h8v8h-8zM2948 595h8v8h-8zM3405 606h8v8h-8zM3229 819h8v8h-8zM3363 421h8v8h-8zM3366 770h8v8h-8zM3507 834h8v8h-8zM3379 748h8v8h-8zM2896 748h8v8h-8zM2982 628h8v8h-8zM3098 727h8v8h-8zM2968 601h8v8h-8zM2998 650h8v8h-8zM3002 616h8v8h-8zM3367 778h8v8h-8zM3371 723h8v8h-8zM3053 749h8v8h-8zM3401 562h8v8h-8zM3067 624h8v8h-8zM3380 687h8v8h-8zM3353 716h8v8h-8zM3372 697h8v8h-8zM3401 793h8v8h-8zM3405 522h8v8h-8zM2998 718h8v8h-8zM3387 829h8v8h-8zM3372 782h8v8h-8zM3391 807h8v8h-8zM3397 718h8v8h-8zM3369 761h8v8h-8zM3439 548h8v8h-8zM3401 824h8v8h-8zM3395 599h8v8h-8zM2961 676h8v8h-8zM3398 783h8v8h-8zM3021 718h8v8h-8zM2964 706h8v8h-8zM3065 580h8v8h-8zM3398 802h8v8h-8zM3369 730h8v8h-8zM3407 663h8v8h-8zM3361 575h8v8h-8zM3330 562h8v8h-8zM3390 808h8v8h-8zM3370 477h8v8h-8zM3365 806h8v8h-8zM3395 704h8v8h-8zM3358 707h8v8h-8zM3043 779h8v8h-8zM3395 553h8v8h-8zM3382 704h8v8h-8zM3141 711h8v8h-8zM3003 610h8v8h-8zM2925 695h8v8h-8zM3396 784h8v8h-8zM3003 831h8v8h-8zM3372 359h8v8h-8zM3426 802h8v8h-8zM2980 714h8v8h-8zM3395 450h8v8h-8zM3369 627h8v8h-8zM3417 769h8v8h-8zM3408 820h8v8h-8zM3407 700h8v8h-8zM3365 572h8v8h-8zM3381 660h8v8h-8zM3378 790h8v8h-8zM3371 775h8v8h-8z"/><path d="M3375 664h8v8h-8zM3417 553h8v8h-8zM3392 232h8v8h-8zM3059 708h8v8h-8zM3382 783h8v8h-8zM3369 627h8v8h-8zM3081 750h8v8h-8zM3060 721h8v8h-8zM3369 806h8v8h-8zM2937 790h8v8h-8zM3359 781h8v8h-8zM3389 688h8v8h-8zM3404 808h8v8h-8zM3054 571h8v8h-8zM3362 597h8v8h-8zM3376 537h8v8h-8zM3394 813h8v8h-8zM3387 829h8v8h-8zM3411 690h8v8h-8zM3177 717h8v8h-8zM3055 702h8v8h-8zM3405 826h8v8h-8zM3392 640h8v8h-8zM3112 668h8v8h-8zM3391 828h8v8h-8zM3366 645h8v8h-8zM2941 790h8v8h-8zM2918 548h8v8h-8zM3405 615h8v8h-8zM3038 719h8v8h-8zM3071 638h8v8h-8zM3406 532h8v8h-8zM3358 554h8v8h-8zM3423 836h8v8h-8zM3382 600h8v8h-8zM3392 806h8v8h-8zM3368 687h8v8h-8zM3405 666h8v8h-8zM3372 400h8v8h-8zM3396 626h8v8h-8zM2972 631h8v8h-8zM3377 724h8v8h-8zM3373 496h8v8h-8zM3382 693h8v8h-8zM3387 537h8v8h-8zM3350 684h8v8h-8zM3371 535h8v8h-8zM3384 449h8v8h-8zM3348 585h8v8h-8zM3275 815h8v8h-8zM3370 803h8v8h-8zM3367 567h8v8h-8zM3403 582h8v8h-8zM3349 738h8v8h-8zM3361 699h8v8h-8zM3361 740h8v8h-8zM3370 779h8v8h-8zM3074 755h8v8h-8zM3401 820h8v8h-8zM3394 634h8v8h-8zM3408 835h8v8h-8zM2963 696h8v8h-8zM3350 746h8v8h-8zM3498 835h8v8h-8zM2924 628h8v8h-8zM3424 663h8v8h-8zM3399 616h8v8h-8zM3057 661h8v8h-8zM2962 761h8v8h-8zM2964 730h8v8h-8zM3339 574h8v8h-8zM3376 760h8v8h-8zM3349 810h8v8h-8zM3399 686h8v8h-8zM3402 823h8v8h-8zM3008 695h8v8h-8zM3039 599h8v8h-8zM3000 649h8v8h-8zM3377 789h8v8h-8zM3351 809h8v8h-8zM3415 837h8v8h-8zM3363 471h8v8h-8zM3362 719h8v8h-8zM3032 710h8v8h-8zM3041 678h8v8h-8zM3381 569h8v8h-8zM3397 611h8v8h-8zM3414 778h8v8h-8zM3409 587h8v8h-8zM2928 729h8v8h-8zM3018 660h8v8h-8zM3373 672h8v8h-8zM3382 696h8v8h-8zM3352 727h8v8h-8zM3020 741h8v8h-8zM3378 802h8v8h-8zM2945 824h8v8h-8zM3131 703h8v8h-8zM3395 699h8v8h-8zM3361 815h8v8h-8zM2917 788h8v8h-8zM2973 777h8v8h-8zM3402 806h8v8h-8zM3367 806h8v8h-8zM3047 740h8v8h-8zM3339 661h8v8h-8zM3399 643h8v8h-8zM2981 653h8v8h-8zM3347 566h8v8h-8zM3343 642h8v8h-8zM3338 693h8v8h-8zM3400 569h8v8h-8zM3366 590h8v8h-8zM3038 626h8v8h-8zM3127 729h8v8h-8zM3406 729h8v8h-8zM3072 734h8v8h-8zM3362 749h8v8h-8zM2913 723h8v8h-8zM3391 709h8v8h-8z"/><path d="M3360 683h8v8h-8zM3376 690h8v8h-8zM3358 726h8v8h-8zM3408 603h8v8h-8zM3055 662h8v8h-8zM3386 485h8v8h-8zM2978 699h8v8h-8zM3391 387h8v8h-8zM3380 716h8v8h-8zM3354 586h8v8h-8zM3030 716h8v8h-8zM3363 626h8v8h-8zM2977 651h8v8h-8zM3386 570h8v8h-8zM3368 572h8v8h-8zM2961 732h8v8h-8zM3358 525h8v8h-8zM3105 631h8v8h-8zM3350 584h8v8h-8zM3385 424h8v8h-8zM2900 701h8v8h-8zM3381 568h8v8h-8zM3439 762h8v8h-8zM2895 708h8v8h-8zM3392 779h8v8h-8zM3018 699h8v8h-8zM3369 629h8v8h-8zM3415 578h8v8h-8zM3546 564h8v8h-8zM3369 814h8v8h-8zM3396 657h8v8h-8zM3347 781h8v8h-8zM3391 829h8v8h-8zM3214 612h8v8h-8zM3058 710h8v8h-8zM3343 816h8v8h-8zM3065 692h8v8h-8zM3362 772h8v8h-8zM3385 649h8v8h-8zM3146 690h8v8h-8zM3392 648h8v8h-8zM3371 457h8v8h-8zM3218 580h8v8h-8zM3180 585h8v8h-8zM3370 471h8v8h-8zM3131 684h8v8h-8zM2992 649h8v8h-8zM3113 719h8v8h-8zM3393 483h8v8h-8zM3375 763h8v8h-8zM3181 707h8v8h-8zM3381 590h8v8h-8zM2961 828h8v8h-8zM3366 678h8v8h-8zM3391 270h8v8h-8zM3141 768h8v8h-8zM3377 535h8v8h-8zM2960 709h8v8h-8zM3376 838h8v8h-8zM3394 798h8v8h-8zM3351 722h8v8h-8zM3380 462h8v8h-8zM3116 675h8v8h-8zM3353 463h8v8h-8zM3131 789h8v8h-8zM3135 711h8v8h-8zM3346 758h8v8h-8zM3086 687h8v8h-8zM3393 612h8v8h-8zM3395 726h8v8h-8zM3380 631h8v8h-8zM3339 547h8v8h-8zM3366 689h8v8h-8zM3384 591h8v8h-8zM3382 735h8v8h-8zM3385 459h8v8h-8zM3373 827h8v8h-8zM3374 810h8v8h-8zM3364 834h8v8h-8zM3393 653h8v8h-8zM3377 764h8v8h-8zM3081 634h8v8h-8zM3207 673h8v8h-8zM3404 617h8v8h-8zM3405 629h8v8h-8zM3352 839h8v8h-8zM3392 741h8v8h-8zM3368 396h8v8h-8zM3022 697h8v8h-8zM3375 710h8v8h-8zM3390 730h8v8h-8zM3407 469h8v8h-8zM3412 661h8v8h-8zM3376 586h8v8h-8zM2993 693h8v8h-8zM3366 350h8v8h-8zM3357 667h8v8h-8zM3397 803h8v8h-8zM3389 653h8v8h-8zM3072 751h8v8h-8zM3376 677h8v8h-8zM3046 687h8v8h-8zM3354 799h8v8h-8zM2992 648h8v8h-8zM3094 825h8v8h-8zM3017 635h8v8h-8zM2947 620h8v8h-8zM3014 651h8v8h-8zM3368 547h8v8h-8zM3401 548h8v8h-8zM3131 785h8v8h-8zM3048 586h8v8h-8zM2975 776h8v8h-8zM3376 586h8v8h-8zM3123 444h8v8h-8zM3388 817h8v8h-8zM3411 513h8v8h-8zM3391 624h8v8h-8zM2964 704h8v8h-8zM3391 756h8v8h-8z"/><path d="M3374 402h8v8h-8zM2906 550h8v8h-8zM3374 721h8v8h-8zM3367 787h8v8h-8zM2936 698h8v8h-8zM3425 669h8v8h-8zM3432 562h8v8h-8zM2987 631h8v8h-8zM3363 796h8v8h-8zM3554 683h8v8h-8zM3410 592h8v8h-8zM3351 621h8v8h-8zM3133 577h8v8h-8zM3450 686h8v8h-8zM3366 760h8v8h-8zM3367 785h8v8h-8zM3363 634h8v8h-8zM3496 649h8v8h-8zM3338 822h8v8h-8zM2882 739h8v8h-8zM3379 803h8v8h-8zM3113 661h8v8h-8zM3078 772h8v8h-8zM3381 759h8v8h-8zM3049 679h8v8h-8zM3010 673h8v8h-8zM3085 767h8v8h-8zM3357 592h8v8h-8zM3031 693h8v8h-8zM3390 503h8v8h-8zM3379 771h8v8h-8zM3030 613h8v8h-8zM3159 620h8v8h-8zM3418 419h8v8h-8zM3143 678h8v8h-8zM3008 641h8v8h-8zM3346 770h8v8h-8zM2962 571h8v8h-8zM3026 659h8v8h-8zM3361 757h8v8h-8zM2995 712h8v8h-8zM3008 718h8v8h-8zM3398 743h8v8h-8zM3352 782h8v8h-8zM3135 501h8v8h-8zM3395 614h8v8h-8zM3410 713h8v8h-8zM3066 735h8v8h-8zM3107 737h8v8h-8zM3349 649h8v8h-8zM3230 585h8v8h-8zM3179 442h8v8h-8zM3389 777h8v8h-8zM3110 693h8v8h-8zM3060 715h8v8h-8zM3431 710h8v8h-8zM3008 776h8v8h-8zM2979 661h8v8h-8zM3409 663h8v8h-8zM3350 819h8v8h-8zM3357 655h8v8h-8zM3309 330h8v8h-8zM3344 673h8v8h-8zM3138 764h8v8h-8zM3368 506h8v8h-8zM3440 416h8v8h-8zM3066 681h8v8h-8zM3345 511h8v8h-8zM3365 757h8v8h-8zM3387 627h8v8h-8zM3371 803h8v8h-8zM2834 745h8v8h-8zM2990 660h8v8h-8zM3120 829h8v8h-8zM3397 802h8v8h-8zM3367 621h8v8h-8zM3407 725h8v8h-8zM3379 687h8v8h-8zM3149 704h8v8h-8zM3357 548h8v8h-8zM3395 778h8v8h-8zM3128 618h8v8h-8zM3384 685h8v8h-8zM3076 664h8v8h-8zM3190 834h8v8h-8zM3356 741h8v8h-8zM3342 566h8v8h-8zM3374 741h8v8h-8zM3403 840h8v8h-8zM3425 725h8v8h-8zM3383 631h8v8h-8zM3384 576h8v8h-8zM3369 750h8v8h-8zM3362 577h8v8h-8zM3383 575h8v8h-8zM3393 775h8v8h-8zM3109 737h8v8h-8zM3037 706h8v8h-8zM3101 602h8v8h-8zM3383 829h8v8h-8zM3382 640h8v8h-8zM3377 806h8v8h-8zM2886 655h8v8h-8zM2896 685h8v8h-8zM3355 793h8v8h-8zM3374 797h8v8h-8zM3354 617h8v8h-8zM3358 807h8v8h-8zM3389 724h8v8h-8zM3012 681h8v8h-8zM3402 521h8v8h-8zM3093 689h8v8h-8zM3055 664h8v8h-8zM3340 643h8v8h-8zM3396 815h8v8h-8zM3135 796h8v8h-8zM3361 784h8v8h-8zM3119 794h8v8h-8zM3400 813h8v8h-8zM3396 508h8v8h-8z"/><path d="M2837 663h8v8h-8zM3386 675h8v8h-8zM3358 786h8v8h-8zM3385 474h8v8h-8zM3070 742h8v8h-8zM3349 585h8v8h-8zM3347 783h8v8h-8zM2869 669h8v8h-8zM3355 591h8v8h-8zM3364 605h8v8h-8zM2933 833h8v8h-8zM3377 840h8v8h-8zM3353 631h8v8h-8zM3044 708h8v8h-8zM3086 667h8v8h-8zM3376 708h8v8h-8zM2983 673h8v8h-8zM3399 735h8v8h-8zM3369 782h8v8h-8zM2952 719h8v8h-8zM3384 731h8v8h-8zM3404 700h8v8h-8zM3027 778h8v8h-8zM3008 678h8v8h-8zM3081 759h8v8h-8zM3370 681h8v8h-8zM2985 729h8v8h-8zM3410 828h8v8h-8zM3415 498h8v8h-8zM3371 791h8v8h-8zM3163 360h8v8h-8zM3360 683h8v8h-8zM3394 561h8v8h-8zM3336 690h8v8h-8zM3412 580h8v8h-8zM3090 797h8v8h-8zM3392 444h8v8h-8zM3393 503h8v8h-8zM3118 782h8v8h-8zM3366 644h8v8h-8zM3319 811h8v8h-8zM3403 637h8v8h-8zM3019 632h8v8h-8zM3398 646h8v8h-8zM3374 682h8v8h-8zM3351 777h8v8h-8zM3357 751h8v8h-8zM3379 549h8v8h-8zM3388 721h8v8h-8zM3386 737h8v8h-8zM3369 718h8v8h-8zM3381 732h8v8h-8zM2966 761h8v8h-8zM3350 699h8v8h-8zM3031 720h8v8h-8zM3387 811h8v8h-8zM3385 714h8v8h-8zM3383 617h8v8h-8zM3354 644h8v8h-8zM3361 757h8v8h-8zM3372 771h8v8h-8zM3018 629h8v8h-8zM2986 658h8v8h-8zM3358 758h8v8h-8zM2988 611h8v8h-8zM3380 399h8v8h-8zM3384 536h8v8h-8zM3138 691h8v8h-8zM3367 722h8v8h-8zM2998 684h8v8h-8zM3372 570h8v8h-8zM3054 697h8v8h-8zM3381 517h8v8h-8zM3372 590h8v8h-8zM3390 711h8v8h-8zM3393 561h8v8h-8zM3383 650h8v8h-8zM3054 585h8v8h-8zM3347 570h8v8h-8zM3396 384h8v8h-8zM3391 639h8v8h-8zM3421 747h8v8h-8zM3026 706h8v8h-8zM3380 548h8v8h-8zM3394 536h8v8h-8zM3362 655h8v8h-8zM3146 763h8v8h-8zM2885 667h8v8h-8zM3355 579h8v8h-8zM2857 795h8v8h-8zM3395 794h8v8h-8zM2993 751h8v8h-8zM3417 443h8v8h-8zM3116 789h8v8h-8zM3051 746h8v8h-8zM3364 691h8v8h-8zM3389 801h8v8h-8zM3047 786h8v8h-8zM3066 702h8v8h-8zM3342 836h8v8h-8zM3358 685h8v8h-8zM3409 766h8v8h-8zM3356 603h8v8h-8zM3390 645h8v8h-8zM3392 450h8v8h-8zM2912 531h8v8h-8zM3041 751h8v8h-8zM3172 593h8v8h-8zM2950 768h8v8h-8zM3358 793h8v8h-8zM3408 822h8v8h-8zM3379 588h8v8h-8zM3386 722h8v8h-8zM3315 646h8v8h-8zM3341 608h8v8h-8zM2907 637h8v8h-8zM3369 773h8v8h-8zM3027 705h8v8h-8zM3422 779h8v8h-8zM3198 477h8v8h-8z"/><path d="M3099 570h8v8h-8zM3257 838h8v8h-8zM3367 785h8v8h-8zM3369 649h8v8h-8zM3067 773h8v8h-8zM3361 824h8v8h-8zM3349 782h8v8h-8zM3401 794h8v8h-8zM3041 555h8v8h-8zM3531 816h8v8h-8zM3388 777h8v8h-8zM3159 534h8v8h-8zM3104 663h8v8h-8zM3346 827h8v8h-8zM3043 602h8v8h-8zM2883 737h8v8h-8zM3389 697h8v8h-8zM2967 597h8v8h-8zM3202 475h8v8h-8zM3334 421h8v8h-8zM3042 783h8v8h-8zM2910 718h8v8h-8zM3092 603h8v8h-8zM3380 288h8v8h-8zM3393 726h8v8h-8zM3008 664h8v8h-8zM3371 746h8v8h-8zM3373 697h8v8h-8zM3398 653h8v8h-8zM3073 681h8v8h-8zM3072 805h8v8h-8zM3364 744h8v8h-8zM3401 804h8v8h-8zM3414 570h8v8h-8zM3393 712h8v8h-8zM3408 635h8v8h-8zM3374 740h8v8h-8zM3060 621h8v8h-8zM3410 461h8v8h-8zM3397 692h8v8h-8zM3368 677h8v8h-8zM3365 548h8v8h-8zM3045 681h8v8h-8zM3382 332h8v8h-8zM3357 594h8v8h-8zM3428 681h8v8h-8zM3398 826h8v8h-8zM3372 688h8v8h-8zM3395 686h8v8h-8zM3001 588h8v8h-8zM3402 826h8v8h-8zM3368 615h8v8h-8zM3076 699h8v8h-8zM3368 779h8v8h-8zM3366 570h8v8h-8zM3388 834h8v8h-8zM3390 670h8v8h-8zM3382 720h8v8h-8zM3239 755h8v8h-8zM2946 689h8v8h-8zM2971 697h8v8h-8zM3393 700h8v8h-8zM3029 785h8v8h-8zM3384 742h8v8h-8zM3348 795h8v8h-8zM3021 655h8v8h-8zM2994 695h8v8h-8zM3362 824h8v8h-8zM2951 717h8v8h-8zM3371 581h8v8h-8zM3384 762h8v8h-8zM2978 632h8v8h-8zM3350 555h8v8h-8zM2909 652h8v8h-8zM3018 646h8v8h-8zM3403 719h8v8h-8zM3333 544h8v8h-8zM2961 692h8v8h-8zM2944 741h8v8h-8zM3379 753h8v8h-8zM3367 733h8v8h-8zM3113 653h8v8h-8zM3362 822h8v8h-8zM3147 681h8v8h-8zM3369 833h8v8h-8zM3087 621h8v8h-8zM3366 819h8v8h-8zM3036 719h8v8h-8zM3396 795h8v8h-8zM3107 653h8v8h-8zM3343 778h8v8h-8zM3354 728h8v8h-8zM3390 488h8v8h-8zM2920 720h8v8h-8zM3091 678h8v8h-8zM3367 573h8v8h-8zM3391 750h8v8h-8zM3376 598h8v8h-8zM3407 630h8v8h-8zM3046 774h8v8h-8zM3062 750h8v8h-8zM3387 806h8v8h-8zM2972 694h8v8h-8zM3087 582h8v8h-8zM3338 827h8v8h-8zM3069 621h8v8h-8zM3371 797h8v8h-8zM3123 614h8v8h-8zM3384 248h8v8h-8zM3387 586h8v8h-8zM3399 499h8v8h-8zM3357 575h8v8h-8zM2960 633h8v8h-8zM3392 693h8v8h-8zM3447 558h8v8h-8zM3393 483h8v8h-8zM3389 725h8v8h-8zM3394 785h8v8h-8zM3387 681h8v8h-8zM2892 704h8v8h-8z"/><path d="M3035 606h8v8h-8zM3328 677h8v8h-8zM3384 826h8v8h-8zM3377 706h8v8h-8zM3390 559h8v8h-8zM3373 709h8v8h-8zM3398 795h8v8h-8zM3339 716h8v8h-8zM3362 700h8v8h-8zM3049 699h8v8h-8zM3389 482h8v8h-8zM2977 722h8v8h-8zM2848 684h8v8h-8zM3330 804h8v8h-8zM3366 693h8v8h-8zM3361 742h8v8h-8zM3084 730h8v8h-8zM3116 668h8v8h-8zM3396 667h8v8h-8zM3361 762h8v8h-8zM2959 784h8v8h-8zM3404 653h8v8h-8zM3460 419h8v8h-8zM3408 829h8v8h-8zM3023 758h8v8h-8zM3423 599h8v8h-8zM2997 742h8v8h-8zM3015 684h8v8h-8zM2896 652h8v8h-8zM2987 667h8v8h-8zM3368 589h8v8h-8zM3394 745h8v8h-8zM3330 670h8v8h-8zM3394 820h8v8h-8zM3124 676h8v8h-8zM3360 657h8v8h-8zM3062 711h8v8h-8zM3097 675h8v8h-8zM3344 529h8v8h-8zM3377 508h8v8h-8zM3028 738h8v8h-8zM2982 714h8v8h-8zM3383 706h8v8h-8zM3413 579h8v8h-8zM3413 761h8v8h-8zM3351 373h8v8h-8zM3384 700h8v8h-8zM2993 658h8v8h-8zM3423 610h8v8h-8zM3035 811h8v8h-8zM3387 804h8v8h-8zM3388 818h8v8h-8zM3384 785h8v8h-8zM3370 443h8v8h-8zM3426 542h8v8h-8zM3507 816h8v8h-8zM3367 780h8v8h-8zM3394 817h8v8h-8zM3365 519h8v8h-8zM3206 821h8v8h-8zM3087 754h8v8h-8zM3364 813h8v8h-8zM2986 795h8v8h-8zM3380 745h8v8h-8zM3396 655h8v8h-8zM3371 829h8v8h-8zM2927 687h8v8h-8zM3389 777h8v8h-8zM3215 761h8v8h-8zM3348 802h8v8h-8zM3367 539h8v8h-8zM3380 654h8v8h-8zM2963 628h8v8h-8zM3106 676h8v8h-8zM3454 736h8v8h-8zM3142 681h8v8h-8zM3348 557h8v8h-8zM3398 785h8v8h-8zM3380 599h8v8h-8zM3350 489h8v8h-8zM3100 730h8v8h-8zM3363 575h8v8h-8zM3396 839h8v8h-8zM3371 819h8v8h-8zM3406 821h8v8h-8zM3422 577h8v8h-8zM3154 714h8v8h-8zM3379 754h8v8h-8zM3284 819h8v8h-8zM3362 742h8v8h-8zM3393 840h8v8h-8zM3045 638h8v8h-8zM3071 712h8v8h-8zM3400 777h8v8h-8zM2998 802h8v8h-8zM3398 684h8v8h-8zM3408 774h8v8h-8zM2955 724h8v8h-8zM3400 748h8v8h-8zM2983 358h8v8h-8zM3360 716h8v8h-8zM3328 840h8v8h-8zM3006 616h8v8h-8zM3025 662h8v8h-8zM3395 528h8v8h-8zM3105 692h8v8h-8zM3021 594h8v8h-8zM3379 836h8v8h-8zM3342 595h8v8h-8zM3389 686h8v8h-8zM3377 744h8v8h-8zM3042 681h8v8h-8zM3031 696h8v8h-8zM2878 700h8v8h-8zM3375 547h8v8h-8zM3387 598h8v8h-8zM3106 793h8v8h-8zM3348 751h8v8h-8zM3387 758h8v8h-8zM3365 645h8v8h-8z"/><path d="M3377 543h8v8h-8zM3010 521h8v8h-8zM3380 416h8v8h-8zM3391 652h8v8h-8zM3430 750h8v8h-8zM3390 783h8v8h-8zM3045 643h8v8h-8zM2914 723h8v8h-8zM3402 828h8v8h-8zM3004 632h8v8h-8zM2995 726h8v8h-8zM3367 721h8v8h-8zM3029 805h8v8h-8zM3407 694h8v8h-8zM3383 683h8v8h-8zM3365 697h8v8h-8zM3412 793h8v8h-8zM2955 701h8v8h-8zM3381 623h8v8h-8zM3369 691h8v8h-8zM3055 568h8v8h-8zM3368 650h8v8h-8zM3168 691h8v8h-8zM3386 580h8v8h-8zM3409 800h8v8h-8zM3106 618h8v8h-8zM3384 766h8v8h-8zM3397 431h8v8h-8zM3375 489h8v8h-8zM3418 668h8v8h-8zM3307 673h8v8h-8zM3400 777h8v8h-8zM3398 808h8v8h-8zM3425 799h8v8h-8zM2966 641h8v8h-8zM3006 742h8v8h-8zM3396 508h8v8h-8zM3399 593h8v8h-8zM3409 831h8v8h-8zM3432 619h8v8h-8zM3355 767h8v8h-8zM2932 649h8v8h-8zM3372 743h8v8h-8zM3141 689h8v8h-8zM3379 667h8v8h-8zM3352 708h8v8h-8zM3392 721h8v8h-8zM3387 739h8v8h-8zM2963 651h8v8h-8zM3428 629h8v8h-8zM3017 788h8v8h-8zM3184 834h8v8h-8zM3411 778h8v8h-8zM3386 818h8v8h-8zM3039 689h8v8h-8zM3383 812h8v8h-8zM3387 791h8v8h-8zM3394 612h8v8h-8zM3381 831h8v8h-8zM3414 779h8v8h-8zM3406 819h8v8h-8zM3339 773h8v8h-8zM3361 754h8v8h-8zM3393 739h8v8h-8zM2995 718h8v8h-8zM2933 734h8v8h-8zM3381 780h8v8h-8zM2962 620h8v8h-8zM2975 726h8v8h-8zM3376 735h8v8h-8zM3382 537h8v8h-8zM3390 797h8v8h-8zM3418 753h8v8h-8zM3381 756h8v8h-8zM3369 712h8v8h-8zM3273 815h8v8h-8zM3385 525h8v8h-8zM3296 526h8v8h-8zM3381 577h8v8h-8zM3363 602h8v8h-8zM3023 607h8v8h-8zM3412 823h8v8h-8zM3372 807h8v8h-8zM2962 691h8v8h-8zM3050 461h8v8h-8zM3007 679h8v8h-8zM3027 623h8v8h-8zM3339 702h8v8h-8zM3011 654h8v8h-8zM2905 719h8v8h-8zM3363 698h8v8h-8zM3377 821h8v8h-8zM3575 478h8v8h-8zM3393 734h8v8h-8zM2997 836h8v8h-8zM3369 596h8v8h-8zM3164 626h8v8h-8zM3431 831h8v8h-8zM3039 638h8v8h-8zM2920 626h8v8h-8zM3071 801h8v8h-8zM3355 558h8v8h-8zM2954 665h8v8h-8zM3379 831h8v8h-8zM3110 697h8v8h-8zM3038 673h8v8h-8zM3359 635h8v8h-8zM3377 814h8v8h-8zM3031 691h8v8h-8zM3401 826h8v8h-8zM3218 729h8v8h-8zM3361 798h8v8h-8zM3326 659h8v8h-8zM3283 829h8v8h-8zM3387 757h8v8h-8zM3398 753h8v8h-8zM3102 732h8v8h-8zM3369 370h8v8h-8zM3363 683h8v8h-8zM3381 733h8v8h-8z"/><path d="M3363 799h8v8h-8zM3404 802h8v8h-8zM3062 718h8v8h-8zM3444 825h8v8h-8zM3366 833h8v8h-8zM3412 417h8v8h-8zM3238 675h8v8h-8zM3382 798h8v8h-8zM3041 740h8v8h-8zM3397 759h8v8h-8zM3367 729h8v8h-8zM3404 761h8v8h-8zM3362 710h8v8h-8zM3360 722h8v8h-8zM3388 653h8v8h-8zM3378 684h8v8h-8zM3023 587h8v8h-8zM3063 693h8v8h-8zM3373 574h8v8h-8zM3373 837h8v8h-8zM3077 653h8v8h-8zM3105 659h8v8h-8zM2986 807h8v8h-8zM3402 596h8v8h-8zM2982 703h8v8h-8zM3380 712h8v8h-8zM3343 609h8v8h-8zM3369 632h8v8h-8zM3360 635h8v8h-8zM3376 699h8v8h-8zM3079 727h8v8h-8zM3350 559h8v8h-8zM3400 806h8v8h-8zM3044 765h8v8h-8zM3355 839h8v8h-8zM3360 556h8v8h-8zM3076 712h8v8h-8zM3108 770h8v8h-8zM3385 656h8v8h-8zM3031 664h8v8h-8zM3372 634h8v8h-8zM3113 649h8v8h-8zM3023 659h8v8h-8zM3382 655h8v8h-8zM3359 680h8v8h-8zM3385 586h8v8h-8zM2896 772h8v8h-8zM3361 539h8v8h-8zM2885 833h8v8h-8zM3362 608h8v8h-8zM3048 572h8v8h-8zM3411 681h8v8h-8zM3384 541h8v8h-8zM3377 792h8v8h-8zM3363 805h8v8h-8zM3444 775h8v8h-8zM3198 683h8v8h-8zM3385 753h8v8h-8zM3039 718h8v8h-8zM3388 732h8v8h-8zM3400 686h8v8h-8zM3404 382h8v8h-8zM3366 592h8v8h-8zM3373 752h8v8h-8zM3067 617h8v8h-8zM2967 671h8v8h-8zM3367 693h8v8h-8zM3105 710h8v8h-8zM3380 686h8v8h-8zM3388 554h8v8h-8zM3365 434h8v8h-8zM3043 663h8v8h-8zM3399 800h8v8h-8zM3387 728h8v8h-8zM3350 762h8v8h-8zM3373 522h8v8h-8zM3385 607h8v8h-8zM3396 541h8v8h-8zM3410 576h8v8h-8zM3394 610h8v8h-8zM2964 729h8v8h-8zM3354 764h8v8h-8zM3315 838h8v8h-8zM3433 691h8v8h-8zM2904 739h8v8h-8zM3369 585h8v8h-8zM3354 814h8v8h-8zM2959 654h8v8h-8zM3348 281h8v8h-8zM3065 719h8v8h-8zM2910 738h8v8h-8zM3063 625h8v8h-8zM3396 533h8v8h-8zM3378 654h8v8h-8zM3584 826h8v8h-8zM3076 355h8v8h-8zM3419 625h8v8h-8zM3375 724h8v8h-8zM2948 705h8v8h-8zM3380 620h8v8h-8zM3081 705h8v8h-8zM2961 731h8v8h-8zM3384 586h8v8h-8zM3419 612h8v8h-8zM3371 804h8v8h-8zM3387 835h8v8h-8zM3362 676h8v8h-8zM3383 659h8v8h-8zM3048 649h8v8h-8zM3372 721h8v8h-8zM3381 607h8v8h-8zM3362 685h8v8h-8zM3181 820h8v8h-8zM3079 604h8v8h-8zM3255 499h8v8h-8zM2999 728h8v8h-8zM3064 840h8v8h-8zM3392 836h8v8h-8zM2981 697h8v8h-8zM3380 297h8v8h-8z"/><path d="M3430 704h8v8h-8zM3383 762h8v8h-8zM3428 798h8v8h-8zM2836 677h8v8h-8zM3394 591h8v8h-8zM3047 667h8v8h-8zM3000 675h8v8h-8zM3110 643h8v8h-8zM3356 777h8v8h-8zM3373 686h8v8h-8zM3371 552h8v8h-8zM3034 676h8v8h-8zM2866 692h8v8h-8zM3349 708h8v8h-8zM2984 806h8v8h-8zM3382 660h8v8h-8zM3448 711h8v8h-8zM2990 684h8v8h-8zM3040 623h8v8h-8zM3388 751h8v8h-8zM3388 798h8v8h-8zM3396 630h8v8h-8zM3347 577h8v8h-8zM3382 828h8v8h-8zM3379 434h8v8h-8zM3355 607h8v8h-8zM3401 600h8v8h-8zM3379 575h8v8h-8zM3403 734h8v8h-8zM3357 574h8v8h-8zM3364 787h8v8h-8zM3375 673h8v8h-8zM3384 617h8v8h-8zM3383 568h8v8h-8zM3343 753h8v8h-8zM3069 627h8v8h-8zM3392 809h8v8h-8zM3376 632h8v8h-8zM3033 663h8v8h-8zM3370 580h8v8h-8zM2866 675h8v8h-8zM3371 716h8v8h-8zM3372 755h8v8h-8zM3374 708h8v8h-8zM3373 818h8v8h-8zM3358 805h8v8h-8zM3046 691h8v8h-8zM3395 772h8v8h-8zM3375 645h8v8h-8zM3424 672h8v8h-8zM3371 608h8v8h-8zM3111 627h8v8h-8zM3376 738h8v8h-8zM3108 662h8v8h-8zM3393 796h8v8h-8zM3344 731h8v8h-8zM3409 819h8v8h-8zM3328 727h8v8h-8zM3405 814h8v8h-8zM2971 713h8v8h-8zM3382 590h8v8h-8zM3397 730h8v8h-8zM3413 615h8v8h-8zM2942 640h8v8h-8zM3401 782h8v8h-8zM3360 710h8v8h-8zM3357 550h8v8h-8zM3394 744h8v8h-8zM3382 607h8v8h-8zM3382 683h8v8h-8zM3389 694h8v8h-8zM3399 701h8v8h-8zM3373 832h8v8h-8zM3075 660h8v8h-8zM3373 822h8v8h-8zM3344 832h8v8h-8zM3021 756h8v8h-8zM3152 709h8v8h-8zM3360 759h8v8h-8zM2967 688h8v8h-8zM3057 728h8v8h-8zM3401 665h8v8h-8zM3034 697h8v8h-8zM3391 691h8v8h-8zM3383 613h8v8h-8zM3406 690h8v8h-8zM2926 655h8v8h-8zM3520 826h8v8h-8zM3364 719h8v8h-8zM3372 326h8v8h-8zM3390 815h8v8h-8zM3032 728h8v8h-8zM3388 647h8v8h-8zM3144 581h8v8h-8zM3350 670h8v8h-8zM3110 765h8v8h-8zM3009 713h8v8h-8zM3346 613h8v8h-8zM3383 727h8v8h-8zM3047 648h8v8h-8zM3018 784h8v8h-8zM3113 703h8v8h-8zM3041 639h8v8h-8zM3354 819h8v8h-8zM2992 649h8v8h-8zM2917 678h8v8h-8zM3044 708h8v8h-8zM3384 423h8v8h-8zM2954 768h8v8h-8zM2976 673h8v8h-8zM3411 665h8v8h-8zM3382 711h8v8h-8zM3381 662h8v8h-8zM3365 605h8v8h-8zM2978 749h8v8h-8zM2986 750h8v8h-8zM3372 421h8v8h-8zM3215 687h8v8h-8zM3387 572h8v8h-8zM3388 335h8v8h-8z"/><path d="M3067 669h8v8h-8zM3133 714h8v8h-8zM3377 598h8v8h-8zM3386 725h8v8h-8zM3007 679h8v8h-8zM3383 812h8v8h-8zM3373 837h8v8h-8zM3389 628h8v8h-8zM3419 780h8v8h-8zM3048 680h8v8h-8zM3371 650h8v8h-8zM3408 521h8v8h-8zM3375 624h8v8h-8zM3388 704h8v8h-8zM3389 693h8v8h-8zM3349 800h8v8h-8zM3369 714h8v8h-8zM3394 752h8v8h-8zM3405 771h8v8h-8zM2953 722h8v8h-8zM3369 777h8v8h-8zM3148 735h8v8h-8zM3372 631h8v8h-8zM3370 664h8v8h-8zM3386 580h8v8h-8zM3011 660h8v8h-8zM3059 693h8v8h-8zM3371 826h8v8h-8zM3031 707h8v8h-8zM3233 686h8v8h-8zM3382 586h8v8h-8zM3368 683h8v8h-8zM3416 723h8v8h-8zM3375 786h8v8h-8zM3348 749h8v8h-8zM3388 471h8v8h-8zM3389 722h8v8h-8zM3381 626h8v8h-8zM2954 622h8v8h-8zM3408 510h8v8h-8zM3103 754h8v8h-8zM2956 736h8v8h-8zM2879 692h8v8h-8zM3081 660h8v8h-8zM3311 534h8v8h-8zM3378 749h8v8h-8zM3109 742h8v8h-8zM3381 602h8v8h-8zM3066 763h8v8h-8zM3043 739h8v8h-8zM3388 590h8v8h-8zM3404 615h8v8h-8zM2862 658h8v8h-8zM3381 706h8v8h-8zM3435 753h8v8h-8zM3285 839h8v8h-8zM3031 661h8v8h-8zM3436 709h8v8h-8zM3386 702h8v8h-8zM3382 825h8v8h-8zM3392 673h8v8h-8zM2880 661h8v8h-8zM3030 728h8v8h-8zM3388 754h8v8h-8zM3363 782h8v8h-8zM3352 438h8v8h-8zM3392 407h8v8h-8zM2997 728h8v8h-8zM3379 652h8v8h-8zM3011 687h8v8h-8zM3016 710h8v8h-8zM3396 630h8v8h-8zM3104 736h8v8h-8zM3370 795h8v8h-8zM2950 838h8v8h-8zM3407 809h8v8h-8zM3388 747h8v8h-8zM3040 707h8v8h-8zM3417 828h8v8h-8zM3352 576h8v8h-8zM3377 829h8v8h-8zM3396 730h8v8h-8zM3386 702h8v8h-8zM3382 786h8v8h-8zM3055 670h8v8h-8zM3375 735h8v8h-8zM3060 739h8v8h-8zM2881 743h8v8h-8zM3338 840h8v8h-8zM2993 723h8v8h-8zM3353 583h8v8h-8zM3390 807h8v8h-8zM3381 744h8v8h-8zM3112 822h8v8h-8zM3350 669h8v8h-8zM3346 787h8v8h-8zM3350 835h8v8h-8zM3376 649h8v8h-8zM2875 591h8v8h-8zM3097 632h8v8h-8zM3393 782h8v8h-8zM3371 647h8v8h-8zM3358 393h8v8h-8zM3062 630h8v8h-8zM3022 697h8v8h-8zM3163 666h8v8h-8zM3347 516h8v8h-8zM3078 712h8v8h-8zM3229 739h8v8h-8zM3398 536h8v8h-8zM3405 730h8v8h-8zM3307 582h8v8h-8zM3139 744h8v8h-8zM3340 809h8v8h-8zM2931 629h8v8h-8zM3379 776h8v8h-8zM3014 763h8v8h-8zM3391 595h8v8h-8zM3067 601h8v8h-8zM3394 584h8v8h-8z"/><path d="M3396 785h8v8h-8zM3357 608h8v8h-8zM3370 661h8v8h-8zM3054 669h8v8h-8zM3381 747h8v8h-8zM3507 780h8v8h-8zM3107 685h8v8h-8zM2891 750h8v8h-8zM3281 578h8v8h-8zM3387 750h8v8h-8zM3351 573h8v8h-8zM3385 677h8v8h-8zM3063 675h8v8h-8zM3434 617h8v8h-8zM3065 766h8v8h-8zM3376 746h8v8h-8zM3354 708h8v8h-8zM3185 675h8v8h-8zM3399 574h8v8h-8zM3376 669h8v8h-8zM3387 628h8v8h-8zM3028 596h8v8h-8zM3384 717h8v8h-8zM3128 704h8v8h-8zM3394 791h8v8h-8zM3066 649h8v8h-8zM3399 831h8v8h-8zM3357 798h8v8h-8zM3112 684h8v8h-8zM3153 835h8v8h-8zM3352 811h8v8h-8zM3374 672h8v8h-8zM2965 746h8v8h-8zM2871 838h8v8h-8zM3113 794h8v8h-8zM3375 648h8v8h-8zM3057 674h8v8h-8zM3362 569h8v8h-8zM3399 819h8v8h-8zM3379 441h8v8h-8zM3347 757h8v8h-8zM3000 738h8v8h-8zM3365 815h8v8h-8zM3398 830h8v8h-8zM3396 691h8v8h-8zM3381 644h8v8h-8zM3385 663h8v8h-8zM3265 830h8v8h-8zM3374 645h8v8h-8zM3375 532h8v8h-8zM3383 780h8v8h-8zM3391 701h8v8h-8zM3071 810h8v8h-8zM3018 633h8v8h-8zM3089 642h8v8h-8zM3413 827h8v8h-8zM3365 589h8v8h-8zM3097 681h8v8h-8zM3391 686h8v8h-8zM3394 795h8v8h-8zM3382 549h8v8h-8zM3380 787h8v8h-8zM3091 830h8v8h-8zM3349 760h8v8h-8zM3062 669h8v8h-8zM3391 756h8v8h-8zM3394 752h8v8h-8zM3409 733h8v8h-8zM3470 628h8v8h-8zM3357 839h8v8h-8zM3366 648h8v8h-8zM3334 821h8v8h-8zM3375 560h8v8h-8zM3015 760h8v8h-8zM3391 706h8v8h-8zM3402 654h8v8h-8zM3344 824h8v8h-8zM3035 609h8v8h-8zM3387 797h8v8h-8zM3396 562h8v8h-8zM3386 742h8v8h-8zM3390 429h8v8h-8zM3392 647h8v8h-8zM3393 330h8v8h-8zM3361 807h8v8h-8zM3073 659h8v8h-8zM3384 799h8v8h-8zM3399 697h8v8h-8zM3096 747h8v8h-8zM3360 819h8v8h-8zM3130 629h8v8h-8zM3361 347h8v8h-8zM3372 495h8v8h-8zM3374 773h8v8h-8zM3377 723h8v8h-8zM3447 820h8v8h-8zM3000 673h8v8h-8zM3372 823h8v8h-8zM3340 535h8v8h-8zM3379 739h8v8h-8zM3045 736h8v8h-8zM3390 664h8v8h-8zM3414 757h8v8h-8zM3384 734h8v8h-8zM3350 751h8v8h-8zM3002 691h8v8h-8zM3371 744h8v8h-8zM3394 772h8v8h-8zM3408 479h8v8h-8zM3058 685h8v8h-8zM2992 721h8v8h-8zM3379 722h8v8h-8zM3019 709h8v8h-8zM3488 588h8v8h-8zM3016 603h8v8h-8zM3379 840h8v8h-8zM2981 667h8v8h-8zM3058 758h8v8h-8zM3387 828h8v8h-8zM3390 617h8v8h-8z"/><path d="M3564 839h8v8h-8zM3404 446h8v8h-8zM3382 792h8v8h-8zM2973 723h8v8h-8zM3404 784h8v8h-8zM3111 748h8v8h-8zM3009 710h8v8h-8zM3397 681h8v8h-8zM3368 806h8v8h-8zM3396 838h8v8h-8zM3006 740h8v8h-8zM3363 677h8v8h-8zM3348 778h8v8h-8zM3392 464h8v8h-8zM3410 673h8v8h-8zM3354 408h8v8h-8zM3365 456h8v8h-8zM3377 649h8v8h-8zM3381 659h8v8h-8zM3036 791h8v8h-8zM3357 731h8v8h-8zM3386 666h8v8h-8zM3396 682h8v8h-8zM3368 613h8v8h-8zM3398 757h8v8h-8zM3387 821h8v8h-8zM3405 590h8v8h-8zM2901 653h8v8h-8zM3056 680h8v8h-8zM3358 821h8v8h-8zM2946 630h8v8h-8zM3369 703h8v8h-8zM3384 630h8v8h-8zM3342 618h8v8h-8zM3029 632h8v8h-8zM3383 705h8v8h-8zM3407 404h8v8h-8zM3371 839h8v8h-8zM3338 658h8v8h-8zM3404 808h8v8h-8zM3399 492h8v8h-8zM3004 588h8v8h-8zM3184 712h8v8h-8zM3388 582h8v8h-8zM3368 311h8v8h-8zM2971 649h8v8h-8zM3372 752h8v8h-8zM3058 662h8v8h-8zM3364 294h8v8h-8zM3341 619h8v8h-8zM2946 602h8v8h-8zM2933 678h8v8h-8zM3391 737h8v8h-8zM3076 765h8v8h-8zM3379 786h8v8h-8zM2908 701h8v8h-8zM3057 590h8v8h-8zM3040 519h8v8h-8zM3381 662h8v8h-8zM3048 721h8v8h-8zM3402 511h8v8h-8zM3403 682h8v8h-8zM3361 705h8v8h-8zM3379 803h8v8h-8zM3391 623h8v8h-8zM3397 798h8v8h-8zM3395 740h8v8h-8zM3375 667h8v8h-8zM2935 791h8v8h-8zM3375 818h8v8h-8zM3398 567h8v8h-8zM2942 625h8v8h-8zM2994 759h8v8h-8zM3405 531h8v8h-8zM3394 727h8v8h-8zM3383 678h8v8h-8zM3397 764h8v8h-8zM3361 677h8v8h-8zM3367 794h8v8h-8zM3433 421h8v8h-8zM3042 727h8v8h-8zM2963 677h8v8h-8zM3381 766h8v8h-8zM3408 810h8v8h-8zM3413 735h8v8h-8zM3380 740h8v8h-8zM3364 628h8v8h-8zM2995 730h8v8h-8zM3125 750h8v8h-8zM3376 645h8v8h-8zM2981 648h8v8h-8zM3386 715h8v8h-8zM3364 765h8v8h-8zM3366 568h8v8h-8zM3381 623h8v8h-8zM3333 633h8v8h-8zM3381 617h8v8h-8zM3194 671h8v8h-8zM3374 824h8v8h-8zM3019 705h8v8h-8zM3051 692h8v8h-8zM3154 605h8v8h-8zM3118 711h8v8h-8zM3387 574h8v8h-8zM3387 773h8v8h-8zM3000 758h8v8h-8zM3394 529h8v8h-8zM3353 559h8v8h-8zM3363 662h8v8h-8zM3046 722h8v8h-8zM3101 759h8v8h-8zM3098 532h8v8h-8zM3044 683h8v8h-8z"/></g>
<ellipse cx="302.4" cy="68.2" rx="5.5" ry="4.6" fill="#000" fill-opacity="0.18" filter="url(#b15)"/>
<path d="M336.8 40 L339.2 40 L340.6 83.5 L335.2 83.5 Z" fill="#000" fill-opacity="0.65" filter="url(#b1)"/>
<line x1="282" y1="19.3" x2="282" y2="84.3" stroke="#333" stroke-width="0.9" />
<line x1="282" y1="84.3" x2="360" y2="84.3" stroke="#333" stroke-width="0.9" />
<line x1="282" y1="19.3" x2="359.6" y2="19.3" stroke="#777" stroke-width="0.8" />
<line x1="359.6" y1="19.3" x2="359.6" y2="84.3" stroke="#bbb" stroke-width="0.7" />
<rect x="326.5" y="26.5" width="14.2" height="20.2" stroke="#6a6a6a" fill="none" stroke-width="0.8" />
<text x="281.5" y="88.6" style="font-size:3.4px;font-weight:normal;" fill="#444" text-anchor="middle" >10<tspan dy="-1.2" style="font-size:2.4px">0</tspan></text>
<text x="300.4" y="88.6" style="font-size:3.4px;font-weight:normal;" fill="#444" text-anchor="middle" >10<tspan dy="-1.2" style="font-size:2.4px">1</tspan></text>
<text x="320.3" y="88.6" style="font-size:3.4px;font-weight:normal;" fill="#444" text-anchor="middle" >10<tspan dy="-1.2" style="font-size:2.4px">2</tspan></text>
<text x="340.2" y="88.6" style="font-size:3.4px;font-weight:normal;" fill="#444" text-anchor="middle" >10<tspan dy="-1.2" style="font-size:2.4px">3</tspan></text>
<text x="359.1" y="88.6" style="font-size:3.4px;font-weight:normal;" fill="#444" text-anchor="middle" >10<tspan dy="-1.2" style="font-size:2.4px">4</tspan></text>
<text x="279" y="22" style="font-size:3.4px;font-weight:normal;" fill="#444" text-anchor="middle" transform="rotate(-90 279 22)" >10<tspan dy="-1.2" style="font-size:2.4px">4</tspan></text>
<text x="279" y="40" style="font-size:3.4px;font-weight:normal;" fill="#444" text-anchor="middle" transform="rotate(-90 279 40)" >10<tspan dy="-1.2" style="font-size:2.4px">3</tspan></text>
<text x="279" y="56" style="font-size:3.4px;font-weight:normal;" fill="#444" text-anchor="middle" transform="rotate(-90 279 56)" >10<tspan dy="-1.2" style="font-size:2.4px">2</tspan></text>
<text x="279" y="72" style="font-size:3.4px;font-weight:normal;" fill="#444" text-anchor="middle" transform="rotate(-90 279 72)" >10<tspan dy="-1.2" style="font-size:2.4px">1</tspan></text>
<text x="279" y="84" style="font-size:3.4px;font-weight:normal;" fill="#444" text-anchor="middle" transform="rotate(-90 279 84)" >10<tspan dy="-1.2" style="font-size:2.4px">0</tspan></text>
<text x="315" y="90.5" style="font-size:2.6px;font-weight:normal;" fill="#777" text-anchor="middle" >CD4 PerCP-A</text>
<text x="285.3" y="25.8" stroke="#000" stroke-width="0.2" style="font-size:6.8px;font-weight:bold;letter-spacing:0.3px">CD4<tspan dy="-2.4" style="font-size:4.6px">+</tspan><tspan dy="2.4">CD25</tspan><tspan dy="-2.4" style="font-size:4.4px">hi</tspan></text>
<text x="266.4" y="66.5" style="font-size:11.2px;font-weight:bold;" fill="#000" text-anchor="start" textLength="29.3" lengthAdjust="spacingAndGlyphs" transform="rotate(-90 266.4 66.5)" stroke="#000" stroke-width="0.25" >CD25</text>
<text x="304.1" y="100.4" style="font-size:11.4px;font-weight:bold;" fill="#000" text-anchor="start" textLength="20.7" lengthAdjust="spacingAndGlyphs" stroke="#000" stroke-width="0.25" >CD4</text>
<rect x="276.3" y="107.4" width="80" height="71.8" stroke="#999" fill="#ebebeb" stroke-width="1" />
<rect x="288.8" y="113.0" width="64.6" height="53.5" stroke="#aaa" fill="#e1e1e1" stroke-width="0.8" />
<text x="286.3" y="113.4" style="font-size:2.8px;font-weight:normal;" fill="#444" text-anchor="middle" transform="rotate(-90 286.3 113.4)" >60</text>
<text x="286.3" y="121" style="font-size:2.8px;font-weight:normal;" fill="#444" text-anchor="middle" transform="rotate(-90 286.3 121)" >50</text>
<text x="286.3" y="129.6" style="font-size:2.8px;font-weight:normal;" fill="#444" text-anchor="middle" transform="rotate(-90 286.3 129.6)" >40</text>
<text x="286.3" y="137.2" style="font-size:2.8px;font-weight:normal;" fill="#444" text-anchor="middle" transform="rotate(-90 286.3 137.2)" >30</text>
<text x="286.3" y="144.7" style="font-size:2.8px;font-weight:normal;" fill="#444" text-anchor="middle" transform="rotate(-90 286.3 144.7)" >20</text>
<text x="286.3" y="152.3" style="font-size:2.8px;font-weight:normal;" fill="#444" text-anchor="middle" transform="rotate(-90 286.3 152.3)" >10</text>
<text x="286.3" y="159.8" style="font-size:2.8px;font-weight:normal;" fill="#444" text-anchor="middle" transform="rotate(-90 286.3 159.8)" >0</text>
<path d="M294.5 166.4 L294.5 165.3 L295.0 165.7 L295.5 165.4 L296.0 165.7 L296.5 165.1 L297.0 164.5 L297.5 164.8 L298.0 165.0 L298.5 164.8 L299.0 164.2 L299.5 163.7 L300.0 163.1 L300.5 163.5 L301.0 163.6 L301.5 163.8 L302.0 165.6 L302.5 162.5 L303.0 160.0 L303.5 156.2 L304.0 154.4 L304.5 149.9 L305.0 150.0 L305.5 145.8 L306.0 143.2 L306.5 141.4 L307.0 138.7 L307.5 138.0 L308.0 128.5 L308.5 134.8 L309.0 124.4 L309.5 125.4 L310.0 124.5 L310.5 122.5 L311.0 115.9 L311.5 121.7 L312.0 120.5 L312.5 124.6 L313.0 123.7 L313.5 127.0 L314.0 129.3 L314.5 135.6 L315.0 138.2 L315.5 134.5 L316.0 141.9 L316.5 139.7 L317.0 143.4 L317.5 142.4 L318.0 147.0 L318.5 150.4 L319.0 151.7 L319.5 152.8 L320.0 153.6 L320.5 155.6 L321.0 157.5 L321.5 159.5 L322.0 162.2 L322.5 163.7 L323.0 164.6 L323.5 164.7 L324.0 163.7 L324.5 164.7 L325.0 164.3 L325.5 165.3 L326.0 165.3 L326.5 165.0 L327.0 164.6 L327.5 165.9 L328.0 165.1 L328 166.4 Z" stroke="#111" fill="#686868" stroke-width="0.6" />
<line x1="316.8" y1="157.8" x2="316.5" y2="165" stroke="#222" stroke-width="0.5" />
<line x1="307.5" y1="142.2" x2="307.7" y2="165" stroke="#222" stroke-width="0.5" />
<line x1="306.5" y1="146.4" x2="306.8" y2="165" stroke="#222" stroke-width="0.5" />
<line x1="316.2" y1="152.0" x2="316.5" y2="165" stroke="#222" stroke-width="0.5" />
<line x1="307.9" y1="137.6" x2="307.5" y2="165" stroke="#222" stroke-width="0.5" />
<line x1="309.9" y1="145.1" x2="310.2" y2="165" stroke="#222" stroke-width="0.5" />
<line x1="315.5" y1="147.0" x2="315.5" y2="165" stroke="#222" stroke-width="0.5" />
<line x1="308.4" y1="142.9" x2="307.9" y2="165" stroke="#222" stroke-width="0.5" />
<line x1="314.8" y1="136.7" x2="314.8" y2="165" stroke="#222" stroke-width="0.5" />
<line x1="311.0" y1="134.0" x2="310.8" y2="165" stroke="#222" stroke-width="0.5" />
<line x1="317.9" y1="157.3" x2="317.9" y2="165" stroke="#222" stroke-width="0.5" />
<line x1="314.4" y1="139.5" x2="314.2" y2="165" stroke="#222" stroke-width="0.5" />
<line x1="305.8" y1="150.5" x2="305.5" y2="165" stroke="#222" stroke-width="0.5" />
<line x1="316.4" y1="157.8" x2="316.7" y2="165" stroke="#222" stroke-width="0.5" />
<line x1="304.3" y1="113.0" x2="304.3" y2="165.5" stroke="#555" stroke-width="0.8" />
<line x1="314.7" y1="113.0" x2="314.7" y2="165.5" stroke="#777" stroke-width="0.7" />
<line x1="304.3" y1="163.4" x2="353.4" y2="163.4" stroke="#555" stroke-width="0.8" />
<line x1="288.8" y1="113.0" x2="288.8" y2="166.5" stroke="#444" stroke-width="0.8" />
<line x1="288.8" y1="166.5" x2="353.4" y2="166.5" stroke="#444" stroke-width="0.8" />
<line x1="287.3" y1="117" x2="288.8" y2="117" stroke="#777" stroke-width="0.6" />
<line x1="287.3" y1="124" x2="288.8" y2="124" stroke="#777" stroke-width="0.6" />
<line x1="287.3" y1="131" x2="288.8" y2="131" stroke="#777" stroke-width="0.6" />
<line x1="287.3" y1="138" x2="288.8" y2="138" stroke="#777" stroke-width="0.6" />
<line x1="287.3" y1="145" x2="288.8" y2="145" stroke="#777" stroke-width="0.6" />
<line x1="287.3" y1="152" x2="288.8" y2="152" stroke="#777" stroke-width="0.6" />
<line x1="287.3" y1="159" x2="288.8" y2="159" stroke="#777" stroke-width="0.6" />
<text x="297" y="171" style="font-size:3.0px;font-weight:normal;" fill="#444" text-anchor="middle" >10</text>
<text x="313" y="171" style="font-size:3.0px;font-weight:normal;" fill="#444" text-anchor="middle" >10</text>
<text x="330" y="171" style="font-size:3.0px;font-weight:normal;" fill="#444" text-anchor="middle" >10</text>
<text x="346" y="171" style="font-size:3.0px;font-weight:normal;" fill="#444" text-anchor="middle" >10</text>
<text x="320" y="175.5" style="font-size:2.8px;font-weight:normal;" fill="#555" text-anchor="middle" >PE-A</text>
<text x="281.8" y="137" style="font-size:3.0px;font-weight:normal;" fill="#444" text-anchor="middle" transform="rotate(-90 281.8 137)" >Count</text>
<text x="325.7" y="133.3" style="font-size:10.2px;font-weight:bold;" fill="#000" text-anchor="start" textLength="25.1" lengthAdjust="spacingAndGlyphs" stroke="none">89.9%</text>
<line x1="289.2" y1="183.1" x2="348.8" y2="183.1" stroke="#c4c4c4" stroke-width="1" />
<text x="298.8" y="193" style="font-size:10.7px;font-weight:bold;" fill="#000" text-anchor="start" textLength="30.4" lengthAdjust="spacingAndGlyphs" stroke="#000" stroke-width="0.25" >Foxp3</text>
<line x1="406.1" y1="40.1" x2="406.1" y2="119.3" stroke="#000" stroke-width="1.2" />
<line x1="405.5" y1="119.3" x2="513.6" y2="119.3" stroke="#111" stroke-width="1.2" />
<line x1="404.2" y1="40.6" x2="406.1" y2="40.6" stroke="#000" stroke-width="0.9" />
<text x="403.3" y="44.9" style="font-size:8.6px;font-weight:normal;" fill="#000" text-anchor="end" textLength="12.0" lengthAdjust="spacingAndGlyphs" stroke="#000" stroke-width="0.3">100</text>
<line x1="404.2" y1="60.275000000000006" x2="406.1" y2="60.275000000000006" stroke="#000" stroke-width="0.9" />
<text x="403.3" y="64.575" style="font-size:8.6px;font-weight:normal;" fill="#000" text-anchor="end" textLength="8.0" lengthAdjust="spacingAndGlyphs" stroke="#000" stroke-width="0.3">75</text>
<line x1="404.2" y1="79.95" x2="406.1" y2="79.95" stroke="#000" stroke-width="0.9" />
<text x="403.3" y="84.25" style="font-size:8.6px;font-weight:normal;" fill="#000" text-anchor="end" textLength="8.0" lengthAdjust="spacingAndGlyphs" stroke="#000" stroke-width="0.3">50</text>
<line x1="404.2" y1="99.625" x2="406.1" y2="99.625" stroke="#000" stroke-width="0.9" />
<text x="403.3" y="103.925" style="font-size:8.6px;font-weight:normal;" fill="#000" text-anchor="end" textLength="8.0" lengthAdjust="spacingAndGlyphs" stroke="#000" stroke-width="0.3">25</text>
<line x1="404.2" y1="119.30000000000001" x2="406.1" y2="119.30000000000001" stroke="#000" stroke-width="0.9" />
<text x="403.3" y="123.60000000000001" style="font-size:8.6px;font-weight:normal;" fill="#000" text-anchor="end" textLength="4.0" lengthAdjust="spacingAndGlyphs" stroke="#000" stroke-width="0.3">0</text>
<line x1="433.5" y1="119.3" x2="433.5" y2="121.3" stroke="#000" stroke-width="0.9" />
<line x1="486.5" y1="119.3" x2="486.5" y2="121.3" stroke="#000" stroke-width="0.9" />
<text x="416.9" y="129.1" style="font-size:9.0px;font-weight:bold;" fill="#000" text-anchor="start" textLength="31.1" lengthAdjust="spacingAndGlyphs" stroke="none">Controls</text>
<text x="471.5" y="129.1" style="font-size:9.0px;font-weight:bold;" fill="#000" text-anchor="start" textLength="30" lengthAdjust="spacingAndGlyphs" stroke="none">Patients</text>
<text x="447.2" y="32.6" style="font-size:9.4px;font-weight:bold;" fill="#000" stroke="#000" stroke-width="0.4" textLength="30.0" lengthAdjust="spacingAndGlyphs"><tspan style="font-style:italic">P</tspan> = .07</text>
<g transform="translate(375.3 79.3) rotate(-90)" stroke="#000" stroke-width="0.25"><text x="0" y="0" text-anchor="middle" style="font-size:9.8px;font-weight:bold" textLength="58.2" lengthAdjust="spacingAndGlyphs">% Foxp3+ of</text><text x="0" y="10.8" text-anchor="middle" style="font-size:9.8px;font-weight:bold" textLength="59.1" lengthAdjust="spacingAndGlyphs">CD4+CD25hi</text></g>
<line x1="415.2" y1="51.3" x2="451.5" y2="51.3" stroke="#333" stroke-width="1.1" />
<line x1="468.5" y1="56.8" x2="504.9" y2="56.8" stroke="#555" stroke-width="1.1" />
<circle cx="419.7" cy="42.9" r="1.3" fill="#000" stroke="none" stroke-width="1"/>
<circle cx="423.9" cy="44" r="1.3" fill="#000" stroke="none" stroke-width="1"/>
<circle cx="428.3" cy="45.9" r="1.3" fill="#000" stroke="none" stroke-width="1"/>
<circle cx="432.8" cy="46.7" r="1.3" fill="#000" stroke="none" stroke-width="1"/>
<circle cx="436.9" cy="45.5" r="1.3" fill="#000" stroke="none" stroke-width="1"/>
<circle cx="441.1" cy="44" r="1.3" fill="#000" stroke="none" stroke-width="1"/>
<circle cx="423.9" cy="48.9" r="1.3" fill="#000" stroke="none" stroke-width="1"/>
<circle cx="428.3" cy="49.7" r="1.3" fill="#000" stroke="none" stroke-width="1"/>
<circle cx="441.1" cy="49.7" r="1.3" fill="#000" stroke="none" stroke-width="1"/>
<circle cx="445.5" cy="48.9" r="1.3" fill="#000" stroke="none" stroke-width="1"/>
<circle cx="432.8" cy="52.2" r="1.3" fill="#000" stroke="none" stroke-width="1"/>
<circle cx="436.9" cy="52.2" r="1.3" fill="#000" stroke="none" stroke-width="1"/>
<circle cx="428.3" cy="57.8" r="1.3" fill="#000" stroke="none" stroke-width="1"/>
<circle cx="432.8" cy="58.7" r="1.3" fill="#000" stroke="none" stroke-width="1"/>
<circle cx="432.8" cy="67.6" r="1.3" fill="#000" stroke="none" stroke-width="1"/>
<circle cx="436.9" cy="65.7" r="1.3" fill="#000" stroke="none" stroke-width="1"/>
<circle cx="482.2" cy="47" r="1.3" fill="#000" stroke="none" stroke-width="1"/>
<circle cx="486.4" cy="48.2" r="1.3" fill="#000" stroke="none" stroke-width="1"/>
<circle cx="473.7" cy="50.7" r="1.3" fill="#000" stroke="none" stroke-width="1"/>
<circle cx="477.9" cy="51.9" r="1.3" fill="#000" stroke="none" stroke-width="1"/>
<circle cx="489.1" cy="50.7" r="1.3" fill="#000" stroke="none" stroke-width="1"/>
<circle cx="499.6" cy="51" r="1.3" fill="#000" stroke="none" stroke-width="1"/>
<circle cx="482.2" cy="54" r="1.3" fill="#000" stroke="none" stroke-width="1"/>
<circle cx="486.4" cy="54.9" r="1.3" fill="#000" stroke="none" stroke-width="1"/>
<circle cx="490.9" cy="54" r="1.3" fill="#000" stroke="none" stroke-width="1"/>
<circle cx="495.1" cy="53.4" r="1.3" fill="#000" stroke="none" stroke-width="1"/>
<circle cx="477.9" cy="57.5" r="1.3" fill="#000" stroke="none" stroke-width="1"/>
<circle cx="482.2" cy="60" r="1.3" fill="#000" stroke="none" stroke-width="1"/>
<circle cx="486.4" cy="61.2" r="1.3" fill="#000" stroke="none" stroke-width="1"/>
<circle cx="490.9" cy="59.3" r="1.3" fill="#000" stroke="none" stroke-width="1"/>
<circle cx="490.9" cy="73.6" r="1.3" fill="#000" stroke="none" stroke-width="1"/>
<circle cx="486.4" cy="76.2" r="1.3" fill="#000" stroke="none" stroke-width="1"/>
<rect x="8" y="221" width="164.5" height="110.5" stroke="#8c8c8c" fill="none" stroke-width="1.3" />
<line x1="41.3" y1="235.0" x2="154.3" y2="235.0" stroke="#c0c0c0" stroke-width="0.9" />
<line x1="39.8" y1="235.0" x2="41.3" y2="235.0" stroke="#888" stroke-width="0.7" />
<text x="37.0" y="237.0" style="font-size:6.0px;font-weight:bold;" fill="#333" text-anchor="end" textLength="14.1" lengthAdjust="spacingAndGlyphs" stroke="#333" stroke-width="0.25" >100%</text>
<line x1="41.3" y1="247.45" x2="154.3" y2="247.45" stroke="#c0c0c0" stroke-width="0.9" />
<line x1="39.8" y1="247.45" x2="41.3" y2="247.45" stroke="#888" stroke-width="0.7" />
<text x="37.0" y="249.45" style="font-size:6.0px;font-weight:bold;" fill="#333" text-anchor="end" textLength="11.28" lengthAdjust="spacingAndGlyphs" stroke="#333" stroke-width="0.25" >80%</text>
<line x1="41.3" y1="259.9" x2="154.3" y2="259.9" stroke="#c0c0c0" stroke-width="0.9" />
<line x1="39.8" y1="259.9" x2="41.3" y2="259.9" stroke="#888" stroke-width="0.7" />
<text x="37.0" y="261.9" style="font-size:6.0px;font-weight:bold;" fill="#333" text-anchor="end" textLength="11.28" lengthAdjust="spacingAndGlyphs" stroke="#333" stroke-width="0.25" >60%</text>
<line x1="41.3" y1="272.35" x2="154.3" y2="272.35" stroke="#c0c0c0" stroke-width="0.9" />
<line x1="39.8" y1="272.35" x2="41.3" y2="272.35" stroke="#888" stroke-width="0.7" />
<text x="37.0" y="274.35" style="font-size:6.0px;font-weight:bold;" fill="#333" text-anchor="end" textLength="11.28" lengthAdjust="spacingAndGlyphs" stroke="#333" stroke-width="0.25" >40%</text>
<line x1="41.3" y1="284.8" x2="154.3" y2="284.8" stroke="#c0c0c0" stroke-width="0.9" />
<line x1="39.8" y1="284.8" x2="41.3" y2="284.8" stroke="#888" stroke-width="0.7" />
<text x="37.0" y="286.8" style="font-size:6.0px;font-weight:bold;" fill="#333" text-anchor="end" textLength="11.28" lengthAdjust="spacingAndGlyphs" stroke="#333" stroke-width="0.25" >20%</text>
<line x1="41.3" y1="297.25" x2="154.3" y2="297.25" stroke="#c0c0c0" stroke-width="0.9" />
<line x1="39.8" y1="297.25" x2="41.3" y2="297.25" stroke="#888" stroke-width="0.7" />
<text x="37.0" y="299.25" style="font-size:6.0px;font-weight:bold;" fill="#333" text-anchor="end" textLength="8.46" lengthAdjust="spacingAndGlyphs" stroke="#333" stroke-width="0.25" >0%</text>
<line x1="154.3" y1="235" x2="154.3" y2="297.25" stroke="#d4d4d4" stroke-width="0.8" />
<line x1="41.3" y1="235" x2="41.3" y2="297.25" stroke="#6e6e6e" stroke-width="1.0" />
<line x1="41.3" y1="297.25" x2="154.3" y2="297.25" stroke="#6e6e6e" stroke-width="1.0" />
<line x1="41.3" y1="297.25" x2="41.3" y2="298.85" stroke="#888" stroke-width="0.7" />
<line x1="69.55" y1="297.25" x2="69.55" y2="298.85" stroke="#888" stroke-width="0.7" />
<line x1="97.80000000000001" y1="297.25" x2="97.80000000000001" y2="298.85" stroke="#888" stroke-width="0.7" />
<line x1="126.05000000000001" y1="297.25" x2="126.05000000000001" y2="298.85" stroke="#888" stroke-width="0.7" />
<line x1="154.3" y1="297.25" x2="154.3" y2="298.85" stroke="#888" stroke-width="0.7" />
<line x1="83.8" y1="264" x2="83.8" y2="275.2" stroke="#8a8a8a" stroke-width="0.8" />
<line x1="82.5" y1="264" x2="85.1" y2="264" stroke="#8a8a8a" stroke-width="0.7" />
<line x1="82.5" y1="275.2" x2="85.1" y2="275.2" stroke="#8a8a8a" stroke-width="0.7" />
<line x1="112" y1="267.7" x2="112" y2="273" stroke="#8a8a8a" stroke-width="0.8" />
<line x1="110.7" y1="267.7" x2="113.3" y2="267.7" stroke="#8a8a8a" stroke-width="0.7" />
<line x1="110.7" y1="273" x2="113.3" y2="273" stroke="#8a8a8a" stroke-width="0.7" />
<line x1="112" y1="280.4" x2="112" y2="286.4" stroke="#8a8a8a" stroke-width="0.8" />
<line x1="110.7" y1="280.4" x2="113.3" y2="280.4" stroke="#8a8a8a" stroke-width="0.7" />
<line x1="110.7" y1="286.4" x2="113.3" y2="286.4" stroke="#8a8a8a" stroke-width="0.7" />
<line x1="140.2" y1="280.5" x2="140.2" y2="285.5" stroke="#8a8a8a" stroke-width="0.8" />
<line x1="138.89999999999998" y1="280.5" x2="141.5" y2="280.5" stroke="#8a8a8a" stroke-width="0.7" />
<line x1="138.89999999999998" y1="285.5" x2="141.5" y2="285.5" stroke="#8a8a8a" stroke-width="0.7" />
<path d="M55.3 240.8 L83.8 251.3 L112 270.2 L140.2 283.2" stroke="#1a1a1a" fill="none" stroke-width="1.7" stroke-linejoin="round"/>
<path d="M55.3 243 L83.8 269.2 L112 283.4 L140.2 294" stroke="#1a1a1a" fill="none" stroke-width="1.7" stroke-linejoin="round"/>
<rect x="53.199999999999996" y="238.70000000000002" width="4.2" height="4.2" stroke="#999" fill="#fff" stroke-width="0.8" rx="1.3"/>
<rect x="81.7" y="249.20000000000002" width="4.2" height="4.2" stroke="#999" fill="#fff" stroke-width="0.8" rx="1.3"/>
<rect x="109.9" y="268.09999999999997" width="4.2" height="4.2" stroke="#999" fill="#fff" stroke-width="0.8" rx="1.3"/>
<rect x="138.1" y="281.09999999999997" width="4.2" height="4.2" stroke="#999" fill="#fff" stroke-width="0.8" rx="1.3"/>
<rect x="53.5" y="241.2" width="3.6" height="3.6" stroke="#222" fill="#333" stroke-width="0.5" />
<rect x="82.0" y="267.4" width="3.6" height="3.6" stroke="#222" fill="#333" stroke-width="0.5" />
<rect x="110.2" y="281.59999999999997" width="3.6" height="3.6" stroke="#222" fill="#333" stroke-width="0.5" />
<rect x="138.39999999999998" y="292.2" width="3.6" height="3.6" stroke="#222" fill="#333" stroke-width="0.5" />
<text x="78.4" y="243.8" style="font-size:8.9px;font-weight:bold;" fill="#000" stroke="#000" stroke-width="0.4" textLength="35.2" lengthAdjust="spacingAndGlyphs"><tspan style="font-style:italic">P</tspan> = .004</text>
<text x="107.2" y="257.3" style="font-size:8.9px;font-weight:bold;" fill="#000" stroke="#000" stroke-width="0.4" textLength="29.8" lengthAdjust="spacingAndGlyphs"><tspan style="font-style:italic">P</tspan> = .02</text>
<text x="129.4" y="275.1" style="font-size:8.9px;font-weight:bold;" fill="#000" stroke="#000" stroke-width="0.4" textLength="34.2" lengthAdjust="spacingAndGlyphs"><tspan style="font-style:italic">P</tspan> = .006</text>
<text x="18.8" y="264.9" transform="rotate(-90 18.8 264.9)" text-anchor="middle" style="font-size:8.2px;font-weight:bold" fill="#111" textLength="45.8" lengthAdjust="spacingAndGlyphs">% Inhibition</text>
<text x="55.8" y="314.6" style="font-size:8.3px;font-weight:bold;" fill="#000" text-anchor="middle" textLength="10.6" lengthAdjust="spacingAndGlyphs" stroke="#000" stroke-width="0.25" >1:0</text>
<text x="84.0" y="314.6" style="font-size:8.3px;font-weight:bold;" fill="#000" text-anchor="middle" textLength="10.2" lengthAdjust="spacingAndGlyphs" stroke="#000" stroke-width="0.25" >1:1</text>
<text x="112.4" y="314.6" style="font-size:8.3px;font-weight:bold;" fill="#000" text-anchor="middle" textLength="10.6" lengthAdjust="spacingAndGlyphs" stroke="#000" stroke-width="0.25" >1:4</text>
<text x="140.4" y="314.6" style="font-size:8.3px;font-weight:bold;" fill="#000" text-anchor="middle" textLength="16.2" lengthAdjust="spacingAndGlyphs" stroke="#000" stroke-width="0.25" >1:16</text>
<text x="60.7" y="327.1" style="font-size:8.9px;font-weight:bold;" fill="#111" text-anchor="start" textLength="75.2" lengthAdjust="spacingAndGlyphs" stroke="none">Ratio 4+25+ : 4+25-</text>
<rect x="177.5" y="221" width="164.89999999999998" height="112.30000000000001" stroke="#8c8c8c" fill="none" stroke-width="1.3" />
<line x1="210.5" y1="243.3" x2="330.5" y2="243.3" stroke="#c0c0c0" stroke-width="0.9" />
<line x1="209.0" y1="243.3" x2="210.5" y2="243.3" stroke="#888" stroke-width="0.7" />
<text x="206.3" y="245.9" style="font-size:6.3px;font-weight:bold;" fill="#333" text-anchor="end" textLength="13.7" lengthAdjust="spacingAndGlyphs" stroke="#333" stroke-width="0.25" >100%</text>
<line x1="210.5" y1="255.70000000000002" x2="330.5" y2="255.70000000000002" stroke="#c0c0c0" stroke-width="0.9" />
<line x1="209.0" y1="255.70000000000002" x2="210.5" y2="255.70000000000002" stroke="#888" stroke-width="0.7" />
<text x="206.3" y="258.30000000000007" style="font-size:6.3px;font-weight:bold;" fill="#333" text-anchor="end" textLength="10.96" lengthAdjust="spacingAndGlyphs" stroke="#333" stroke-width="0.25" >80%</text>
<line x1="210.5" y1="268.1" x2="330.5" y2="268.1" stroke="#c0c0c0" stroke-width="0.9" />
<line x1="209.0" y1="268.1" x2="210.5" y2="268.1" stroke="#888" stroke-width="0.7" />
<text x="206.3" y="270.70000000000005" style="font-size:6.3px;font-weight:bold;" fill="#333" text-anchor="end" textLength="10.96" lengthAdjust="spacingAndGlyphs" stroke="#333" stroke-width="0.25" >60%</text>
<line x1="210.5" y1="280.5" x2="330.5" y2="280.5" stroke="#c0c0c0" stroke-width="0.9" />
<line x1="209.0" y1="280.5" x2="210.5" y2="280.5" stroke="#888" stroke-width="0.7" />
<text x="206.3" y="283.1" style="font-size:6.3px;font-weight:bold;" fill="#333" text-anchor="end" textLength="10.96" lengthAdjust="spacingAndGlyphs" stroke="#333" stroke-width="0.25" >40%</text>
<line x1="210.5" y1="292.90000000000003" x2="330.5" y2="292.90000000000003" stroke="#c0c0c0" stroke-width="0.9" />
<line x1="209.0" y1="292.90000000000003" x2="210.5" y2="292.90000000000003" stroke="#888" stroke-width="0.7" />
<text x="206.3" y="295.50000000000006" style="font-size:6.3px;font-weight:bold;" fill="#333" text-anchor="end" textLength="10.96" lengthAdjust="spacingAndGlyphs" stroke="#333" stroke-width="0.25" >20%</text>
<line x1="210.5" y1="305.3" x2="330.5" y2="305.3" stroke="#c0c0c0" stroke-width="0.9" />
<line x1="209.0" y1="305.3" x2="210.5" y2="305.3" stroke="#888" stroke-width="0.7" />
<text x="206.3" y="307.90000000000003" style="font-size:6.3px;font-weight:bold;" fill="#333" text-anchor="end" textLength="8.22" lengthAdjust="spacingAndGlyphs" stroke="#333" stroke-width="0.25" >0%</text>
<line x1="330.5" y1="243.3" x2="330.5" y2="305.3" stroke="#d4d4d4" stroke-width="0.8" />
<line x1="210.5" y1="243.3" x2="210.5" y2="305.3" stroke="#6e6e6e" stroke-width="1.0" />
<line x1="210.5" y1="305.3" x2="330.5" y2="305.3" stroke="#6e6e6e" stroke-width="1.0" />
<line x1="210.5" y1="305.3" x2="210.5" y2="306.90000000000003" stroke="#888" stroke-width="0.7" />
<line x1="240.5" y1="305.3" x2="240.5" y2="306.90000000000003" stroke="#888" stroke-width="0.7" />
<line x1="270.5" y1="305.3" x2="270.5" y2="306.90000000000003" stroke="#888" stroke-width="0.7" />
<line x1="300.5" y1="305.3" x2="300.5" y2="306.90000000000003" stroke="#888" stroke-width="0.7" />
<line x1="330.5" y1="305.3" x2="330.5" y2="306.90000000000003" stroke="#888" stroke-width="0.7" />
<line x1="255.4" y1="257.2" x2="255.4" y2="284.2" stroke="#8a8a8a" stroke-width="0.8" />
<line x1="254.1" y1="257.2" x2="256.7" y2="257.2" stroke="#8a8a8a" stroke-width="0.7" />
<line x1="254.1" y1="284.2" x2="256.7" y2="284.2" stroke="#8a8a8a" stroke-width="0.7" />
<line x1="286.2" y1="275" x2="286.2" y2="283" stroke="#8a8a8a" stroke-width="0.8" />
<line x1="284.9" y1="275" x2="287.5" y2="275" stroke="#8a8a8a" stroke-width="0.7" />
<line x1="284.9" y1="283" x2="287.5" y2="283" stroke="#8a8a8a" stroke-width="0.7" />
<line x1="286.2" y1="294" x2="286.2" y2="302" stroke="#8a8a8a" stroke-width="0.8" />
<line x1="284.9" y1="294" x2="287.5" y2="294" stroke="#8a8a8a" stroke-width="0.7" />
<line x1="284.9" y1="302" x2="287.5" y2="302" stroke="#8a8a8a" stroke-width="0.7" />
<line x1="315.4" y1="288" x2="315.4" y2="296" stroke="#8a8a8a" stroke-width="0.8" />
<line x1="314.09999999999997" y1="288" x2="316.7" y2="288" stroke="#8a8a8a" stroke-width="0.7" />
<line x1="314.09999999999997" y1="296" x2="316.7" y2="296" stroke="#8a8a8a" stroke-width="0.7" />
<path d="M225.5 248.6 L255.4 258.7 L286.2 279.1 L315.4 292.3" stroke="#1a1a1a" fill="none" stroke-width="1.5" stroke-linejoin="round"/>
<path d="M225.5 249 L255.4 278.6 L286.2 291.1 L315.4 302.2" stroke="#1a1a1a" fill="none" stroke-width="1.4" stroke-linejoin="round"/>
<path d="M225.5 248.6 L255.4 275.2 L286.2 298.3 L315.4 304.7" stroke="#1a1a1a" fill="none" stroke-width="1.4" stroke-linejoin="round"/>
<rect x="223.4" y="246.5" width="4.2" height="4.2" stroke="#999" fill="#fff" stroke-width="0.8" rx="1.3"/>
<rect x="253.3" y="256.59999999999997" width="4.2" height="4.2" stroke="#999" fill="#fff" stroke-width="0.8" rx="1.3"/>
<rect x="284.09999999999997" y="277.0" width="4.2" height="4.2" stroke="#999" fill="#fff" stroke-width="0.8" rx="1.3"/>
<rect x="313.29999999999995" y="290.2" width="4.2" height="4.2" stroke="#999" fill="#fff" stroke-width="0.8" rx="1.3"/>
<rect x="223.7" y="247.2" width="3.6" height="3.6" stroke="#222" fill="#333" stroke-width="0.5" />
<rect x="253.6" y="276.8" width="3.6" height="3.6" stroke="#222" fill="#333" stroke-width="0.5" />
<rect x="284.4" y="289.3" width="3.6" height="3.6" stroke="#222" fill="#333" stroke-width="0.5" />
<rect x="313.59999999999997" y="300.4" width="3.6" height="3.6" stroke="#222" fill="#333" stroke-width="0.5" />
<rect x="223.4" y="246.5" width="4.2" height="4.2" stroke="#999" fill="#fff" stroke-width="0.8" rx="1.3"/>
<rect x="253.3" y="273.09999999999997" width="4.2" height="4.2" stroke="#999" fill="#fff" stroke-width="0.8" rx="1.3"/>
<rect x="284.09999999999997" y="296.2" width="4.2" height="4.2" stroke="#999" fill="#fff" stroke-width="0.8" rx="1.3"/>
<rect x="313.29999999999995" y="302.59999999999997" width="4.2" height="4.2" stroke="#999" fill="#fff" stroke-width="0.8" rx="1.3"/>
<text x="258.8" y="252.5" style="font-size:8.9px;font-weight:bold;" fill="#000" stroke="#000" stroke-width="0.4" textLength="35.2" lengthAdjust="spacingAndGlyphs"><tspan style="font-style:italic">P</tspan> = .046</text>
<text x="291.2" y="275.5" style="font-size:8.9px;font-weight:bold;" fill="#000" stroke="#000" stroke-width="0.4" textLength="34.8" lengthAdjust="spacingAndGlyphs"><tspan style="font-style:italic">P</tspan> = .008</text>
<text x="309.2" y="286.6" style="font-size:8.9px;font-weight:bold;" fill="#000" stroke="#000" stroke-width="0.4" textLength="28.6" lengthAdjust="spacingAndGlyphs"><tspan style="font-style:italic">P</tspan> = .01</text>
<text x="187.9" y="274.2" transform="rotate(-90 187.9 274.2)" text-anchor="middle" style="font-size:7.4px;font-weight:bold" fill="#111" textLength="38.8" lengthAdjust="spacingAndGlyphs">% Inhibition</text>
<text x="225.9" y="318.5" style="font-size:6.8px;font-weight:bold;" fill="#000" text-anchor="middle" textLength="8.8" lengthAdjust="spacingAndGlyphs" stroke="#000" stroke-width="0.25" >1:0</text>
<text x="255.9" y="318.5" style="font-size:6.8px;font-weight:bold;" fill="#000" text-anchor="middle" textLength="8.8" lengthAdjust="spacingAndGlyphs" stroke="#000" stroke-width="0.25" >1:1</text>
<text x="286.2" y="318.5" style="font-size:6.8px;font-weight:bold;" fill="#000" text-anchor="middle" textLength="9.3" lengthAdjust="spacingAndGlyphs" stroke="#000" stroke-width="0.25" >1:4</text>
<text x="316.5" y="318.5" style="font-size:6.8px;font-weight:bold;" fill="#000" text-anchor="middle" textLength="12.2" lengthAdjust="spacingAndGlyphs" stroke="#000" stroke-width="0.25" >1:16</text>
<text x="238.8" y="328.8" style="font-size:7.6px;font-weight:bold;" fill="#111" text-anchor="start" textLength="63.1" lengthAdjust="spacingAndGlyphs" stroke="#111" stroke-width="0.25">Ratio 4+25+ : 4+25-</text>
<rect x="345.5" y="221.2" width="172.5" height="110.40000000000003" stroke="#8c8c8c" fill="none" stroke-width="1.3" />
<line x1="380.2" y1="237.8" x2="511" y2="237.8" stroke="#c0c0c0" stroke-width="0.9" />
<line x1="378.7" y1="237.8" x2="380.2" y2="237.8" stroke="#888" stroke-width="0.7" />
<text x="375.8" y="240.4" style="font-size:6.6px;font-weight:bold;" fill="#333" text-anchor="end" textLength="13.5" lengthAdjust="spacingAndGlyphs" stroke="#333" stroke-width="0.25" >100%</text>
<line x1="380.2" y1="250.5" x2="511" y2="250.5" stroke="#c0c0c0" stroke-width="0.9" />
<line x1="378.7" y1="250.5" x2="380.2" y2="250.5" stroke="#888" stroke-width="0.7" />
<text x="375.8" y="253.1" style="font-size:6.6px;font-weight:bold;" fill="#333" text-anchor="end" textLength="10.8" lengthAdjust="spacingAndGlyphs" stroke="#333" stroke-width="0.25" >80%</text>
<line x1="380.2" y1="263.2" x2="511" y2="263.2" stroke="#c0c0c0" stroke-width="0.9" />
<line x1="378.7" y1="263.2" x2="380.2" y2="263.2" stroke="#888" stroke-width="0.7" />
<text x="375.8" y="265.8" style="font-size:6.6px;font-weight:bold;" fill="#333" text-anchor="end" textLength="10.8" lengthAdjust="spacingAndGlyphs" stroke="#333" stroke-width="0.25" >60%</text>
<line x1="380.2" y1="275.9" x2="511" y2="275.9" stroke="#c0c0c0" stroke-width="0.9" />
<line x1="378.7" y1="275.9" x2="380.2" y2="275.9" stroke="#888" stroke-width="0.7" />
<text x="375.8" y="278.5" style="font-size:6.6px;font-weight:bold;" fill="#333" text-anchor="end" textLength="10.8" lengthAdjust="spacingAndGlyphs" stroke="#333" stroke-width="0.25" >40%</text>
<line x1="380.2" y1="288.6" x2="511" y2="288.6" stroke="#c0c0c0" stroke-width="0.9" />
<line x1="378.7" y1="288.6" x2="380.2" y2="288.6" stroke="#888" stroke-width="0.7" />
<text x="375.8" y="291.20000000000005" style="font-size:6.6px;font-weight:bold;" fill="#333" text-anchor="end" textLength="10.8" lengthAdjust="spacingAndGlyphs" stroke="#333" stroke-width="0.25" >20%</text>
<line x1="380.2" y1="301.3" x2="511" y2="301.3" stroke="#c0c0c0" stroke-width="0.9" />
<line x1="378.7" y1="301.3" x2="380.2" y2="301.3" stroke="#888" stroke-width="0.7" />
<text x="375.8" y="303.90000000000003" style="font-size:6.6px;font-weight:bold;" fill="#333" text-anchor="end" textLength="8.1" lengthAdjust="spacingAndGlyphs" stroke="#333" stroke-width="0.25" >0%</text>
<line x1="511" y1="237.8" x2="511" y2="301.3" stroke="#d4d4d4" stroke-width="0.8" />
<line x1="380.2" y1="237.8" x2="380.2" y2="301.3" stroke="#6e6e6e" stroke-width="1.0" />
<line x1="380.2" y1="301.3" x2="511" y2="301.3" stroke="#6e6e6e" stroke-width="1.0" />
<line x1="380.2" y1="301.3" x2="380.2" y2="302.90000000000003" stroke="#888" stroke-width="0.7" />
<line x1="412.9" y1="301.3" x2="412.9" y2="302.90000000000003" stroke="#888" stroke-width="0.7" />
<line x1="445.6" y1="301.3" x2="445.6" y2="302.90000000000003" stroke="#888" stroke-width="0.7" />
<line x1="478.3" y1="301.3" x2="478.3" y2="302.90000000000003" stroke="#888" stroke-width="0.7" />
<line x1="511.0" y1="301.3" x2="511.0" y2="302.90000000000003" stroke="#888" stroke-width="0.7" />
<line x1="428.8" y1="247.7" x2="428.8" y2="259" stroke="#8a8a8a" stroke-width="0.8" />
<line x1="427.5" y1="247.7" x2="430.1" y2="247.7" stroke="#8a8a8a" stroke-width="0.7" />
<line x1="427.5" y1="259" x2="430.1" y2="259" stroke="#8a8a8a" stroke-width="0.7" />
<line x1="428.8" y1="268" x2="428.8" y2="278.4" stroke="#8a8a8a" stroke-width="0.8" />
<line x1="427.5" y1="268" x2="430.1" y2="268" stroke="#8a8a8a" stroke-width="0.7" />
<line x1="427.5" y1="278.4" x2="430.1" y2="278.4" stroke="#8a8a8a" stroke-width="0.7" />
<line x1="462" y1="262" x2="462" y2="270" stroke="#8a8a8a" stroke-width="0.8" />
<line x1="460.7" y1="262" x2="463.3" y2="262" stroke="#8a8a8a" stroke-width="0.7" />
<line x1="460.7" y1="270" x2="463.3" y2="270" stroke="#8a8a8a" stroke-width="0.7" />
<line x1="494.6" y1="275.5" x2="494.6" y2="290" stroke="#8a8a8a" stroke-width="0.8" />
<line x1="493.3" y1="275.5" x2="495.90000000000003" y2="275.5" stroke="#8a8a8a" stroke-width="0.7" />
<line x1="493.3" y1="290" x2="495.90000000000003" y2="290" stroke="#8a8a8a" stroke-width="0.7" />
<line x1="494.6" y1="295" x2="494.6" y2="301" stroke="#8a8a8a" stroke-width="0.8" />
<line x1="493.3" y1="295" x2="495.90000000000003" y2="295" stroke="#8a8a8a" stroke-width="0.7" />
<line x1="493.3" y1="301" x2="495.90000000000003" y2="301" stroke="#8a8a8a" stroke-width="0.7" />
<path d="M396.2 242.8 L428.8 253.2 L462 265.4 L494.6 286.3" stroke="#1a1a1a" fill="none" stroke-width="1.3" stroke-linejoin="round"/>
<path d="M396.2 242.8 L428.8 253.2 L462 273.1 L494.6 286.3" stroke="#1a1a1a" fill="none" stroke-width="1.9" stroke-linejoin="round"/>
<path d="M396.2 245 L428.8 273.2 L462 286.8 L494.6 298.3" stroke="#1a1a1a" fill="none" stroke-width="1.8" stroke-linejoin="round"/>
<rect x="394.09999999999997" y="240.70000000000002" width="4.2" height="4.2" stroke="#999" fill="#fff" stroke-width="0.8" rx="1.3"/>
<rect x="426.7" y="251.1" width="4.2" height="4.2" stroke="#999" fill="#fff" stroke-width="0.8" rx="1.3"/>
<rect x="459.9" y="263.29999999999995" width="4.2" height="4.2" stroke="#999" fill="#fff" stroke-width="0.8" rx="1.3"/>
<rect x="492.5" y="284.2" width="4.2" height="4.2" stroke="#999" fill="#fff" stroke-width="0.8" rx="1.3"/>
<rect x="394.09999999999997" y="240.70000000000002" width="4.2" height="4.2" stroke="#999" fill="#fff" stroke-width="0.8" rx="1.3"/>
<rect x="426.7" y="251.1" width="4.2" height="4.2" stroke="#999" fill="#fff" stroke-width="0.8" rx="1.3"/>
<rect x="459.9" y="271.0" width="4.2" height="4.2" stroke="#999" fill="#fff" stroke-width="0.8" rx="1.3"/>
<rect x="492.5" y="284.2" width="4.2" height="4.2" stroke="#999" fill="#fff" stroke-width="0.8" rx="1.3"/>
<rect x="394.4" y="243.2" width="3.6" height="3.6" stroke="#222" fill="#333" stroke-width="0.5" />
<rect x="427.0" y="271.4" width="3.6" height="3.6" stroke="#222" fill="#333" stroke-width="0.5" />
<rect x="460.2" y="285.0" width="3.6" height="3.6" stroke="#222" fill="#333" stroke-width="0.5" />
<rect x="492.8" y="296.5" width="3.6" height="3.6" stroke="#222" fill="#333" stroke-width="0.5" />
<text x="464" y="258.4" style="font-size:8.9px;font-weight:bold;" fill="#000" stroke="#000" stroke-width="0.4" textLength="29.2" lengthAdjust="spacingAndGlyphs"><tspan style="font-style:italic">P</tspan> = .03</text>
<text x="479" y="272.3" style="font-size:8.9px;font-weight:bold;" fill="#000" stroke="#000" stroke-width="0.4" textLength="30" lengthAdjust="spacingAndGlyphs"><tspan style="font-style:italic">P</tspan> = .03</text>
<text x="356.0" y="268.5" transform="rotate(-90 356.0 268.5)" text-anchor="middle" style="font-size:8.3px;font-weight:bold" fill="#111" textLength="48.2" lengthAdjust="spacingAndGlyphs">% Inhibition</text>
<text x="397" y="315" style="font-size:7.6px;font-weight:normal;" fill="#000" text-anchor="middle" textLength="9.2" lengthAdjust="spacingAndGlyphs" stroke="#000" stroke-width="0.5">1:0</text>
<text x="429.3" y="315" style="font-size:7.6px;font-weight:normal;" fill="#000" text-anchor="middle" textLength="9.2" lengthAdjust="spacingAndGlyphs" stroke="#000" stroke-width="0.5">1:1</text>
<text x="462" y="315" style="font-size:7.6px;font-weight:normal;" fill="#000" text-anchor="middle" textLength="9.9" lengthAdjust="spacingAndGlyphs" stroke="#000" stroke-width="0.5">1:4</text>
<text x="495" y="315" style="font-size:7.6px;font-weight:normal;" fill="#000" text-anchor="middle" textLength="13.1" lengthAdjust="spacingAndGlyphs" stroke="#000" stroke-width="0.5">1:16</text>
<text x="411.9" y="327.0" style="font-size:8.4px;font-weight:bold;" fill="#111" text-anchor="start" textLength="67.2" lengthAdjust="spacingAndGlyphs" stroke="#111" stroke-width="0.3">Ratio 4+25+ : 4+25-</text>
</svg>
</body></html>
